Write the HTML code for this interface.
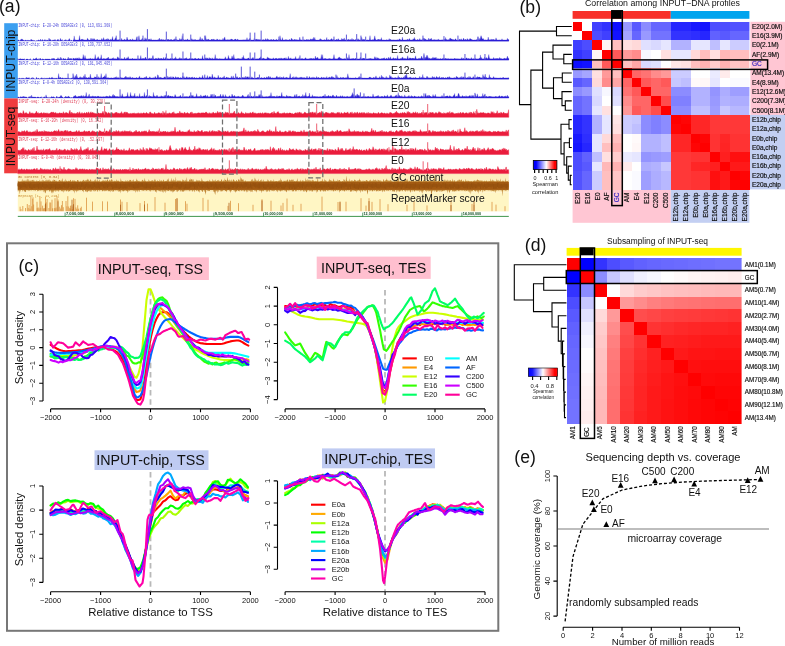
<!DOCTYPE html>
<html lang="en"><head><meta charset="utf-8"><title>INPUT-DNA profiles figure</title>
<style>html,body{margin:0;padding:0;background:#fff}body{width:785px;height:646px;overflow:hidden}svg{display:block}</style></head>
<body>
<svg width="785" height="646" viewBox="0 0 785 646" font-family='"Liberation Sans", Arial, sans-serif'>
<g id="panel-a">
<text x="-1" y="12.4" font-size="17.60" fill="#111" text-anchor="start">(a)</text>
<rect x="4.2" y="23.2" width="13.6" height="75.2" fill="#3b9ff0"/>
<rect x="4.2" y="98.4" width="13.6" height="74.9" fill="#f03c3e"/>
<text x="15.3" y="60.8" font-size="12.20" fill="#111" text-anchor="middle" transform="rotate(-90 15.3 60.8)">INPUT-chip</text>
<text x="15.3" y="136.5" font-size="12.20" fill="#111" text-anchor="middle" transform="rotate(-90 15.3 136.5)">INPUT-seq</text>
<rect x="17.8" y="173.6" width="491" height="19" fill="#fdf0c0"/>
<rect x="17.8" y="192.6" width="491" height="18.8" fill="#fff6c4"/>
<path d="M17.8 41.1L17.8 40.2L18.4 39.9L19 40.2L19.6 41.1L20.2 40.2L20.8 39.4L21.4 39.2L22 39.1L22.6 39.4L23.2 39.9L23.8 40.2L24.4 41.1L25 39.9L25.6 40.2L26.2 40.1L26.8 41.1L27.4 40.2L28 40.2L28.6 40.2L29.2 41.1L29.8 40L30.4 41.1L31 39.1L31.6 39.7L32.2 40.2L32.8 40.2L33.4 40.2L34 41.1L34.6 40.2L35.2 41.1L35.8 41.1L36.4 41.1L37 40L37.6 41.1L38.2 40.2L38.8 39.7L39.4 40.2L40 41.1L40.6 39.1L41.2 40.1L41.8 41.1L42.4 39.6L43 39.8L43.6 41.1L44.2 40.2L44.8 39.6L45.4 39.8L46 41.1L46.6 39.9L47.2 40.2L47.8 40L48.4 41.1L49 38.1L49.6 39.7L50.2 39.8L50.8 39.5L51.4 41.1L52 40.2L52.6 40.2L53.2 40.2L53.8 39.9L54.4 40.2L55 39.3L55.6 40.2L56.2 41.1L56.8 40.2L57.4 39.9L58 39.1L58.6 40L59.2 41.1L59.8 40.2L60.4 38.3L61 39.9L61.6 40.2L62.2 39.4L62.8 41.1L63.4 41.1L64 40.2L64.6 40.2L65.2 40.2L65.8 39.5L66.4 40.1L67 41.1L67.6 40.2L68.2 40.2L68.8 39.5L69.4 38.5L70 39.9L70.6 41.1L71.2 40.1L71.8 40.2L72.4 41.1L73 40.4L73.6 40.5L74.2 35.9L74.8 40.2L75.4 40L76 40.5L76.6 40.5L77.2 40.6L77.8 40.5L78.4 40.5L79 39.4L79.6 35.6L80.2 40.6L80.8 39.9L81.4 39.1L82 40.2L82.6 38.9L83.2 39.5L83.8 40.3L84.4 40L85 40.4L85.6 40.2L86.2 40.4L86.8 40.5L87.4 38.3L88 38.7L88.6 40.6L89.2 40.6L89.8 40.6L90.4 40.4L91 38L91.6 39.7L92.2 40.5L92.8 38.5L93.4 39.9L94 38.4L94.6 39.3L95.2 40.5L95.8 40.4L96.4 40L97 39.5L97.6 39.6L98.2 40.3L98.8 40.5L99.4 40.2L100 40.1L100.6 40.6L101.2 40.3L101.8 38.4L102.4 39.7L103 40.3L103.6 37.6L104.2 39.5L104.8 40.2L105.4 39.8L106 39.5L106.6 39.5L107.2 38.4L107.8 40.4L108.4 38.7L109 40L109.6 40.2L110.2 40.5L110.8 38.9L111.4 40.2L112 39.2L112.6 36.5L113.2 40.4L113.8 39.9L114.4 40.5L115 38.4L115.6 38.2L116.2 35.6L116.8 40.3L117.4 40.1L118 39.8L118.6 40.2L119.2 39.1L119.8 40.4L120.4 40.4L121 40.4L121.6 38.3L122.2 40.5L122.8 40.1L123.4 40.2L124 40.2L124.6 38.9L125.2 40.2L125.8 40L126.4 40.2L127 37L127.6 39.1L128.2 40L128.8 40.5L129.4 40.5L130 39.2L130.6 39.6L131.2 40.3L131.8 40.5L132.4 38.7L133 40.4L133.6 39.9L134.2 40.1L134.8 39.9L135.4 40L136 40.5L136.6 36.7L137.2 40L137.8 40.2L138.4 40L139 35.6L139.6 40.5L140.2 40L140.8 40.6L141.4 40.2L142 38.5L142.6 38.3L143.2 40.2L143.8 39.8L144.4 40.6L145 37.6L145.6 39.8L146.2 38.4L146.8 39.9L147.4 40.4L148 39.7L148.6 39.4L149.2 38.9L149.8 39.7L150.4 40.5L151 38.6L151.6 40.5L152.2 40.6L152.8 40.5L153.4 40.2L154 40.1L154.6 40.3L155.2 40.1L155.8 40.4L156.4 40.5L157 40.2L157.6 40L158.2 40.3L158.8 39.3L159.4 38L160 40.5L160.6 39.5L161.2 40.5L161.8 38.9L162.4 40.1L163 40.4L163.6 39.6L164.2 40.1L164.8 40.4L165.4 39.5L166 40.5L166.6 40.5L167.2 39.3L167.8 40L168.4 39.1L169 40.6L169.6 40.2L170.2 39.3L170.8 40.5L171.4 39.2L172 40.6L172.6 40.6L173.2 39.8L173.8 39.8L174.4 39.7L175 38.5L175.6 39.6L176.2 39.7L176.8 39.5L177.4 40.1L178 40.3L178.6 40.6L179.2 40.5L179.8 38.3L180.4 40.4L181 39.1L181.6 40.3L182.2 35.6L182.8 39.9L183.4 39.2L184 40.2L184.6 40.4L185.2 39.6L185.8 40.5L186.4 39.9L187 39.9L187.6 38.8L188.2 40.3L188.8 40.2L189.4 40.1L190 40.3L190.6 40.2L191.2 39.8L191.8 38.5L192.4 40.4L193 39.3L193.6 40.6L194.2 40.2L194.8 39.4L195.4 39.6L196 40.3L196.6 40.5L197.2 40.5L197.8 40L198.4 40.2L199 39.7L199.6 39.8L200.2 36.7L200.8 40.3L201.4 40.5L202 38.2L202.6 39.5L203.2 40L203.8 40.4L204.4 39.9L205 40.5L205.6 35.6L206.2 39.3L206.8 40.1L207.4 39.8L208 39.2L208.6 39.2L209.2 40.3L209.8 40L210.4 40.4L211 39.7L211.6 39.1L212.2 39.9L212.8 39.2L213.4 39.1L214 40.2L214.6 39.5L215.2 40L215.8 40.3L216.4 40.3L217 38.8L217.6 39.6L218.2 40L218.8 40.1L219.4 39.8L220 39.7L220.6 40.1L221.2 39.9L221.8 40.2L222.4 40.4L223 38.3L223.6 40.6L224.2 38.3L224.8 36.9L225.4 40.1L226 40.5L226.6 39.7L227.2 40.6L227.8 39.4L228.4 40.5L229 39.5L229.6 40.2L230.2 40.6L230.8 39.1L231.4 39.2L232 39L232.6 39.7L233.2 40.2L233.8 40.1L234.4 39.8L235 39.1L235.6 39L236.2 40L236.8 40.2L237.4 39.1L238 39.7L238.6 40L239.2 40.4L239.8 40.6L240.4 40.4L241 40.1L241.6 40.3L242.2 39.9L242.8 40.4L243.4 39.7L244 40.3L244.6 39.9L245.2 39.8L245.8 40.3L246.4 40.5L247 37.6L247.6 40.4L248.2 39.8L248.8 40.1L249.4 39.2L250 38L250.6 40.3L251.2 40.3L251.8 40.3L252.4 40.5L253 40.4L253.6 40.5L254.2 38.4L254.8 40.2L255.4 39.5L256 39.6L256.6 39.3L257.2 39.1L257.8 40.4L258.4 39.8L259 39.2L259.6 40.4L260.2 39.3L260.8 40.4L261.4 40.1L262 40L262.6 40.3L263.2 39.3L263.8 40.5L264.4 40.2L265 40.4L265.6 38.6L266.2 39.4L266.8 40.4L267.4 38.5L268 39.9L268.6 39.4L269.2 40.2L269.8 40L270.4 40.1L271 39.2L271.6 39.7L272.2 40.1L272.8 40.4L273.4 39L274 40.2L274.6 40.3L275.2 40.1L275.8 40.4L276.4 38.9L277 40.4L277.6 40.5L278.2 39.5L278.8 39.4L279.4 40.2L280 35.6L280.6 39.3L281.2 40.6L281.8 40.3L282.4 37.6L283 40.6L283.6 40.6L284.2 39.8L284.8 40.6L285.4 40L286 39.2L286.6 40.2L287.2 40L287.8 40.3L288.4 40.4L289 40L289.6 39.3L290.2 40.5L290.8 40.4L291.4 38.1L292 38.9L292.6 39.9L293.2 39.8L293.8 40.5L294.4 39L295 40.5L295.6 39.4L296.2 40.5L296.8 39.4L297.4 40.1L298 40.5L298.6 40.2L299.2 40.4L299.8 37.1L300.4 40L301 40.3L301.6 39.9L302.2 40.6L302.8 40.2L303.4 40.3L304 39.4L304.6 40.4L305.2 40.4L305.8 40.5L306.4 39.3L307 40.1L307.6 39.7L308.2 39.6L308.8 40.1L309.4 40.1L310 40L310.6 38.7L311.2 39.9L311.8 39L312.4 38.8L313 40.2L313.6 37.2L314.2 39.9L314.8 37.4L315.4 40L316 40.6L316.6 40.5L317.2 40.4L317.8 40.5L318.4 40.5L319 40.2L319.6 39.7L320.2 38.6L320.8 39.4L321.4 39.5L322 40.2L322.6 40.5L323.2 39.9L323.8 40.5L324.4 39.4L325 40.6L325.6 40.3L326.2 39.9L326.8 37.4L327.4 40.5L328 40.1L328.6 39.4L329.2 40.3L329.8 39.9L330.4 39.8L331 39.5L331.6 38.5L332.2 39.3L332.8 40.4L333.4 39L334 39.7L334.6 40.1L335.2 40.4L335.8 40L336.4 39.6L337 39.2L337.6 40.5L338.2 38.6L338.8 39.8L339.4 40.3L340 40.5L340.6 40.3L341.2 40.6L341.8 38.3L342.4 39.6L343 39.6L343.6 39.4L344.2 37.9L344.8 40.3L345.4 40.3L346 39.6L346.6 39L347.2 39.8L347.8 40.3L348.4 39.3L349 39.4L349.6 39.9L350.2 40.4L350.8 39.3L351.4 40.5L352 38.3L352.6 40.5L353.2 39.2L353.8 40L354.4 40.1L355 40.5L355.6 39.6L356.2 38.8L356.8 40.4L357.4 40L358 38.6L358.6 39.8L359.2 39.8L359.8 40.3L360.4 39.8L361 40.6L361.6 37.1L362.2 39.1L362.8 40.5L363.4 39.1L364 40.4L364.6 39.5L365.2 38.9L365.8 40.6L366.4 40.5L367 39.8L367.6 40.3L368.2 40.6L368.8 40.6L369.4 39.7L370 35.6L370.6 40.5L371.2 39.9L371.8 40.3L372.4 39.9L373 39.5L373.6 40.2L374.2 38.6L374.8 35.8L375.4 39.1L376 39.9L376.6 40.5L377.2 39.6L377.8 39.9L378.4 39L379 39.8L379.6 39.8L380.2 39.2L380.8 40.4L381.4 37.6L382 40.6L382.6 40.3L383.2 40L383.8 40.3L384.4 40.4L385 40.4L385.6 40.5L386.2 40.4L386.8 39.6L387.4 40.3L388 40.6L388.6 40.2L389.2 38.5L389.8 40.3L390.4 39L391 40.5L391.6 40.1L392.2 40.1L392.8 40.1L393.4 40L394 40L394.6 40L395.2 40.6L395.8 40.2L396.4 40.2L397 40.3L397.6 39.7L398.2 40.1L398.8 40.1L399.4 38.7L400 39.5L400.6 39.8L401.2 40.5L401.8 40.5L402.4 37.1L403 40.1L403.6 40.5L404.2 40.5L404.8 40.1L405.4 40L406 40.6L406.6 40.1L407.2 39.7L407.8 38.9L408.4 40.5L409 39.3L409.6 38.4L410.2 40.6L410.8 40.3L411.4 40.6L412 39.7L412.6 40.3L413.2 38.7L413.8 39.7L414.4 37.4L415 39.6L415.6 39.8L416.2 40.6L416.8 40.3L417.4 39.6L418 39.6L418.6 40.4L419.2 40.3L419.8 38.4L420.4 40.1L421 40.3L421.6 39.7L422.2 40.5L422.8 39L423.4 37.8L424 40.3L424.6 38.2L425.2 39.4L425.8 39.1L426.4 40.2L427 40.2L427.6 40L428.2 40.1L428.8 38L429.4 40.2L430 39.1L430.6 39.6L431.2 38.1L431.8 39.8L432.4 40L433 40.2L433.6 39.8L434.2 39.8L434.8 39.7L435.4 40L436 39.8L436.6 40.1L437.2 39.9L437.8 39.7L438.4 39.2L439 40.1L439.6 39.9L440.2 40.5L440.8 40.2L441.4 40L442 40.1L442.6 40L443.2 39.5L443.8 40.6L444.4 39.1L445 40.5L445.6 37.4L446.2 40L446.8 39.3L447.4 40L448 40.5L448.6 39.6L449.2 40.1L449.8 38.2L450.4 38.1L451 39.3L451.6 39L452.2 39.1L452.8 40L453.4 39.8L454 39.6L454.6 40.4L455.2 39L455.8 38.7L456.4 40.5L457 40.2L457.6 40.4L458.2 40.6L458.8 40.1L459.4 38.9L460 40.1L460.6 39.8L461.2 38.7L461.8 40.2L462.4 40.5L463 39.6L463.6 38.1L464.2 39.6L464.8 40.3L465.4 39.1L466 40.1L466.6 40.3L467.2 38.5L467.8 39.4L468.4 39.7L469 40.5L469.6 38.8L470.2 38.6L470.8 39L471.4 39.6L472 39.4L472.6 40.2L473.2 40.3L473.8 40.5L474.4 39.9L475 40.1L475.6 40.2L476.2 40L476.8 39.5L477.4 40.1L478 36.9L478.6 40.2L479.2 38.3L479.8 40.5L480.4 38L481 35.6L481.6 37.1L482.2 38.8L482.8 39L483.4 38.6L484 40.2L484.6 40.3L485.2 39.7L485.8 40.3L486.4 40.3L487 40.1L487.6 40.2L488.2 37L488.8 39.7L489.4 40.2L490 39.4L490.6 40.3L491.2 38.9L491.8 40.3L492.4 39.7L493 39L493.6 39.6L494.2 40.6L494.8 39.6L495.4 40.4L496 37.8L496.6 39.6L497.2 40.4L497.8 40.1L498.4 40.2L499 40.4L499.6 40L500.2 40.5L500.8 40.2L501.4 40.4L502 38.7L502.6 40.5L503.2 40.5L503.8 39.9L504.4 40.4L505 40.5L505.6 40.4L506.2 40.1L506.8 40.5L507.4 38.2L508 40.1L508.6 39.3L508.8 40.3 L508.8 41.1 Z" fill="#342cd4" stroke="#342cd4" stroke-width="0.25"/>
<rect x="73" y="39.9" width="435.8" height="1.4" fill="#2a1cd6"/>
<rect x="119.5" y="30.6" width="1.1" height="10" fill="#6a66dc"/>
<rect x="146.9" y="29.1" width="1.1" height="11.5" fill="#6a66dc"/>
<rect x="165.8" y="31.6" width="1.1" height="9" fill="#6a66dc"/>
<rect x="182.4" y="33.6" width="1.1" height="7" fill="#6a66dc"/>
<rect x="190.2" y="34.6" width="1.1" height="6" fill="#6a66dc"/>
<rect x="204.2" y="35.6" width="1.1" height="5" fill="#6a66dc"/>
<rect x="249.6" y="32.6" width="1.1" height="8" fill="#6a66dc"/>
<rect x="254.2" y="32.6" width="1.1" height="8" fill="#6a66dc"/>
<rect x="260.6" y="30.6" width="1.1" height="10" fill="#6a66dc"/>
<rect x="345.9" y="34.6" width="1.1" height="6" fill="#6a66dc"/>
<rect x="356.1" y="34.1" width="1.1" height="6.5" fill="#6a66dc"/>
<rect x="360.4" y="35.6" width="1.1" height="5" fill="#6a66dc"/>
<rect x="365.1" y="36.6" width="1.1" height="4" fill="#6a66dc"/>
<rect x="422.4" y="35.6" width="1.1" height="5" fill="#6a66dc"/>
<rect x="443.4" y="36.1" width="1.1" height="4.5" fill="#6a66dc"/>
<rect x="457.4" y="35.6" width="1.1" height="5" fill="#6a66dc"/>
<rect x="477.4" y="36.6" width="1.1" height="4" fill="#6a66dc"/>
<rect x="137.4" y="36.6" width="1.1" height="4" fill="#6a66dc"/>
<rect x="142.4" y="35.6" width="1.1" height="5" fill="#6a66dc"/>
<rect x="175.4" y="36.6" width="1.1" height="4" fill="#6a66dc"/>
<rect x="278.4" y="36.6" width="1.1" height="4" fill="#6a66dc"/>
<rect x="302.4" y="36.6" width="1.1" height="4" fill="#6a66dc"/>
<rect x="333.4" y="36.6" width="1.1" height="4" fill="#6a66dc"/>
<path d="M17.8 60L17.8 58.4L18.4 60L19 59.1L19.6 59.1L20.2 58.6L20.8 58.9L21.4 59.1L22 59.1L22.6 58.9L23.2 59.1L23.8 59.1L24.4 58.7L25 60L25.6 60L26.2 59.1L26.8 59.1L27.4 59.1L28 59.1L28.6 60L29.2 59.1L29.8 60L30.4 58.5L31 60L31.6 60L32.2 60L32.8 60L33.4 58.4L34 59L34.6 59.1L35.2 59.1L35.8 58.2L36.4 57.7L37 59.1L37.6 59.1L38.2 60L38.8 58.5L39.4 60L40 58L40.6 58.7L41.2 59.1L41.8 60L42.4 58.8L43 59.1L43.6 59.1L44.2 60L44.8 59.1L45.4 58.9L46 59.1L46.6 59.1L47.2 59.1L47.8 58.9L48.4 59.1L49 59.1L49.6 59.1L50.2 59.1L50.8 60L51.4 59.1L52 58.3L52.6 59.1L53.2 58.1L53.8 59.1L54.4 58.5L55 59.1L55.6 60L56.2 59.1L56.8 59.1L57.4 59.1L58 57.6L58.6 59.1L59.2 59L59.8 59.1L60.4 57.1L61 60L61.6 57.7L62.2 60L62.8 59.1L63.4 58.1L64 59L64.6 58.9L65.2 58.7L65.8 58.7L66.4 60L67 59.1L67.6 59L68.2 57.1L68.8 59.1L69.4 59.1L70 58L70.6 59.1L71.2 58.2L71.8 59.1L72.4 60L73 57.9L73.6 58.5L74.2 58.4L74.8 59.5L75.4 58.8L76 57.8L76.6 59.4L77.2 57.8L77.8 59.1L78.4 59.4L79 57.4L79.6 59L80.2 59.3L80.8 58.8L81.4 59.4L82 59.4L82.6 59.1L83.2 54.5L83.8 57.2L84.4 59.2L85 55.4L85.6 58.5L86.2 59.1L86.8 59.2L87.4 59.5L88 59.3L88.6 58.9L89.2 59.2L89.8 58.8L90.4 58.3L91 59.2L91.6 59.3L92.2 59.1L92.8 58.7L93.4 59.4L94 59L94.6 59.3L95.2 54.5L95.8 59.1L96.4 59.2L97 58.9L97.6 57.7L98.2 56.6L98.8 58.2L99.4 59.4L100 58.8L100.6 58.7L101.2 54.7L101.8 59.1L102.4 59.4L103 59.4L103.6 58.6L104.2 58.4L104.8 59.4L105.4 59.1L106 59.2L106.6 58.6L107.2 58.6L107.8 57.8L108.4 57L109 59.4L109.6 59.4L110.2 58.9L110.8 59.2L111.4 59L112 58.8L112.6 58.6L113.2 57.6L113.8 59.2L114.4 58.8L115 59L115.6 58.7L116.2 59.2L116.8 59.4L117.4 57.2L118 56.7L118.6 58.4L119.2 58.1L119.8 58.9L120.4 59L121 59.1L121.6 58.8L122.2 59L122.8 59.4L123.4 59.4L124 59.5L124.6 57.1L125.2 59.4L125.8 59.5L126.4 59L127 57.6L127.6 58.7L128.2 56.6L128.8 59L129.4 59.4L130 59.1L130.6 59L131.2 59.3L131.8 59.4L132.4 58.1L133 59.5L133.6 59.5L134.2 58.9L134.8 59.1L135.4 59.2L136 59.1L136.6 59.3L137.2 59.4L137.8 58.4L138.4 58.7L139 59.4L139.6 59.3L140.2 59.1L140.8 55.5L141.4 59.3L142 59L142.6 58.8L143.2 58.1L143.8 59.4L144.4 59.3L145 57.8L145.6 57L146.2 59.1L146.8 59.4L147.4 58.6L148 58.8L148.6 59.3L149.2 57.8L149.8 59.3L150.4 59.4L151 57.8L151.6 59L152.2 59.1L152.8 56.2L153.4 58.4L154 58.9L154.6 59.5L155.2 59L155.8 58.2L156.4 58.6L157 59L157.6 59.2L158.2 57.7L158.8 58.8L159.4 58.6L160 59.5L160.6 58.6L161.2 58L161.8 59.1L162.4 59L163 59.4L163.6 57.3L164.2 59.5L164.8 59.5L165.4 57.2L166 58.4L166.6 58.9L167.2 59.2L167.8 58.4L168.4 59.4L169 59.1L169.6 59.3L170.2 59.1L170.8 58.2L171.4 58.5L172 59.4L172.6 58.1L173.2 59.3L173.8 59.3L174.4 58.3L175 59.4L175.6 56.7L176.2 58.8L176.8 59L177.4 59.4L178 58.8L178.6 58.9L179.2 59L179.8 57.4L180.4 59.3L181 58.3L181.6 58.9L182.2 58.5L182.8 59.4L183.4 58.5L184 58.9L184.6 58.7L185.2 58.6L185.8 58.6L186.4 57.6L187 59.5L187.6 59.2L188.2 59.4L188.8 59.1L189.4 58.9L190 58L190.6 58.7L191.2 58.4L191.8 59.1L192.4 58.4L193 59.5L193.6 59L194.2 59.2L194.8 58.2L195.4 58.1L196 59.3L196.6 59.4L197.2 59.4L197.8 59.2L198.4 58L199 59.1L199.6 59.3L200.2 58.7L200.8 59.4L201.4 59.4L202 58.4L202.6 55.6L203.2 59.4L203.8 59.5L204.4 58.5L205 58.8L205.6 57.7L206.2 59.3L206.8 57.7L207.4 57.9L208 58.9L208.6 59.3L209.2 57.4L209.8 59.1L210.4 58.3L211 58.9L211.6 59.3L212.2 57.7L212.8 59.5L213.4 59.2L214 59.2L214.6 59L215.2 54.5L215.8 59.3L216.4 58.5L217 59L217.6 58.7L218.2 59L218.8 59.4L219.4 59L220 58.5L220.6 59.4L221.2 59.4L221.8 59L222.4 59.3L223 59.4L223.6 59.5L224.2 59.1L224.8 58.7L225.4 56.7L226 59L226.6 59.1L227.2 59.4L227.8 58.5L228.4 55.4L229 58L229.6 58.9L230.2 59.3L230.8 58.8L231.4 59.1L232 55.8L232.6 57.4L233.2 58.7L233.8 54.5L234.4 58.4L235 59.3L235.6 59.3L236.2 59L236.8 59.2L237.4 59.1L238 58.2L238.6 58.9L239.2 58.6L239.8 59.4L240.4 58.9L241 59.4L241.6 59.5L242.2 57.1L242.8 59.2L243.4 55.4L244 58.5L244.6 58.7L245.2 58.9L245.8 59.2L246.4 59.1L247 59.3L247.6 58.6L248.2 58.1L248.8 58.1L249.4 59.4L250 59.3L250.6 58.8L251.2 58.7L251.8 59.3L252.4 58.2L253 57.2L253.6 59L254.2 59.1L254.8 58.7L255.4 59.3L256 59.4L256.6 59.1L257.2 59.3L257.8 58.8L258.4 59.2L259 58.6L259.6 58.1L260.2 58L260.8 56.6L261.4 58.6L262 59.4L262.6 58.4L263.2 58.3L263.8 58.2L264.4 58.9L265 58.9L265.6 59.5L266.2 59L266.8 59.4L267.4 56.8L268 58.5L268.6 57.7L269.2 58.2L269.8 59.1L270.4 58.7L271 59.1L271.6 59.1L272.2 59.4L272.8 58.8L273.4 57.7L274 59.4L274.6 59.2L275.2 58.5L275.8 58.4L276.4 58.2L277 58.8L277.6 59.4L278.2 58.2L278.8 59.1L279.4 58.8L280 57.9L280.6 59.2L281.2 57.8L281.8 59.1L282.4 58.8L283 58.8L283.6 58.8L284.2 57.9L284.8 58.2L285.4 59.2L286 57.5L286.6 59.4L287.2 59.4L287.8 58.9L288.4 56.3L289 59.3L289.6 58.8L290.2 59.1L290.8 57.7L291.4 59.2L292 59.2L292.6 59.2L293.2 58.9L293.8 58.9L294.4 58.7L295 59.3L295.6 56.5L296.2 59L296.8 59L297.4 58.9L298 59.3L298.6 59L299.2 57.3L299.8 58.9L300.4 58.7L301 59.4L301.6 58.5L302.2 58.9L302.8 58.6L303.4 59.4L304 59.2L304.6 59.1L305.2 58.2L305.8 57.6L306.4 59.4L307 58.9L307.6 59.4L308.2 59.4L308.8 58.9L309.4 58.6L310 59.3L310.6 58.3L311.2 58.5L311.8 58.5L312.4 58.9L313 58.4L313.6 58.4L314.2 59.2L314.8 58.8L315.4 56L316 58.7L316.6 57.9L317.2 57.7L317.8 57.2L318.4 59.3L319 59.1L319.6 59.1L320.2 59.3L320.8 58.6L321.4 54.5L322 59.4L322.6 54.6L323.2 59.2L323.8 59L324.4 58.8L325 58.6L325.6 58.6L326.2 59.3L326.8 58.9L327.4 59.4L328 59.1L328.6 59.1L329.2 58.3L329.8 59.2L330.4 59.1L331 58.7L331.6 59.4L332.2 59L332.8 59.4L333.4 57.9L334 54.5L334.6 58.5L335.2 59.2L335.8 58.8L336.4 59L337 59.1L337.6 59.2L338.2 57.6L338.8 57.9L339.4 56.8L340 57.9L340.6 58.2L341.2 59L341.8 58.6L342.4 59.2L343 59L343.6 59.1L344.2 59.4L344.8 58.4L345.4 59L346 59.5L346.6 58.5L347.2 57.5L347.8 59L348.4 59.2L349 54.5L349.6 58.9L350.2 59.4L350.8 58.9L351.4 59.4L352 58.3L352.6 59L353.2 58.8L353.8 58.5L354.4 59.1L355 59.3L355.6 58L356.2 59.2L356.8 58.8L357.4 59.1L358 59.3L358.6 59.5L359.2 59.3L359.8 58.9L360.4 57.1L361 58.4L361.6 59L362.2 59.4L362.8 58.1L363.4 58.6L364 58.1L364.6 58.7L365.2 59L365.8 59.4L366.4 59.1L367 59.1L367.6 59.1L368.2 59.4L368.8 58.6L369.4 58.7L370 58.7L370.6 58.5L371.2 58.5L371.8 59.5L372.4 59L373 59.4L373.6 59.4L374.2 59.1L374.8 56.6L375.4 59L376 56.9L376.6 59.2L377.2 58.5L377.8 57.6L378.4 58.3L379 58.9L379.6 58.9L380.2 59.3L380.8 59.2L381.4 58.8L382 58.4L382.6 58.8L383.2 58.7L383.8 57.9L384.4 57.8L385 59.5L385.6 59.3L386.2 59.1L386.8 57.8L387.4 59.4L388 59.3L388.6 57.1L389.2 58.9L389.8 58.5L390.4 56.7L391 59.2L391.6 59.3L392.2 58.8L392.8 59L393.4 57.6L394 58.7L394.6 58.7L395.2 58.9L395.8 58.1L396.4 58.9L397 59.4L397.6 55.4L398.2 59.2L398.8 59.1L399.4 59.1L400 59.4L400.6 58.3L401.2 59.4L401.8 57.7L402.4 57.2L403 57.5L403.6 58.9L404.2 59L404.8 58.3L405.4 58.4L406 59.4L406.6 59.2L407.2 57.9L407.8 55.7L408.4 59.2L409 58.9L409.6 57.8L410.2 58.2L410.8 58.1L411.4 58.5L412 58.8L412.6 58.1L413.2 58.1L413.8 58.8L414.4 59.1L415 57.7L415.6 55.8L416.2 59.2L416.8 58.8L417.4 59.1L418 59.5L418.6 58.4L419.2 57.9L419.8 59.2L420.4 58.7L421 58.1L421.6 56L422.2 57.7L422.8 58.8L423.4 58.7L424 55L424.6 58.5L425.2 57L425.8 58.7L426.4 56.4L427 55.1L427.6 56.2L428.2 59.3L428.8 57.6L429.4 58.6L430 58.4L430.6 58.9L431.2 58.8L431.8 58.5L432.4 58.6L433 56.9L433.6 58.5L434.2 58.3L434.8 57.6L435.4 58.6L436 57.1L436.6 59.3L437.2 59.4L437.8 58.4L438.4 58.9L439 59.2L439.6 59.3L440.2 58.6L440.8 58.9L441.4 59.4L442 58.7L442.6 58.9L443.2 57.8L443.8 59.4L444.4 59.5L445 58L445.6 58.6L446.2 59.4L446.8 58.4L447.4 59.3L448 58.4L448.6 58.9L449.2 59.3L449.8 59.3L450.4 59.5L451 58.6L451.6 59.5L452.2 59.3L452.8 59.1L453.4 59.4L454 58.9L454.6 58.2L455.2 58.8L455.8 59L456.4 59.4L457 58.4L457.6 59.5L458.2 59.1L458.8 58.9L459.4 59.3L460 59.1L460.6 59.2L461.2 59.1L461.8 57.4L462.4 59.2L463 58.4L463.6 58.6L464.2 58.9L464.8 59.3L465.4 59.3L466 58.3L466.6 57.7L467.2 58.4L467.8 59.4L468.4 58.2L469 58.9L469.6 58.9L470.2 59L470.8 58.9L471.4 57.5L472 59.3L472.6 59.3L473.2 58.5L473.8 59.2L474.4 59.3L475 58.4L475.6 58.7L476.2 59.1L476.8 59L477.4 59.1L478 59.5L478.6 59.4L479.2 58.1L479.8 58.7L480.4 54.9L481 59.2L481.6 57.4L482.2 59.1L482.8 59.3L483.4 58.9L484 59.3L484.6 57L485.2 58.5L485.8 58.3L486.4 57.4L487 58.6L487.6 59.1L488.2 57.5L488.8 54.5L489.4 58.1L490 58.9L490.6 59L491.2 58.9L491.8 59.2L492.4 59.2L493 59.4L493.6 57.4L494.2 58.4L494.8 59.3L495.4 58.6L496 58.9L496.6 58.3L497.2 59.4L497.8 58.1L498.4 58.9L499 59.3L499.6 57.5L500.2 57.9L500.8 59.5L501.4 58.6L502 59.2L502.6 59.4L503.2 59.3L503.8 58.6L504.4 58.3L505 58.6L505.6 58.8L506.2 58.9L506.8 58.1L507.4 56.1L508 58L508.6 58.2L508.8 59.2 L508.8 60 Z" fill="#342cd4" stroke="#342cd4" stroke-width="0.25"/>
<rect x="73" y="58.8" width="435.8" height="1.4" fill="#2a1cd6"/>
<rect x="119.5" y="49.5" width="1.1" height="10" fill="#6a66dc"/>
<rect x="146.9" y="47.5" width="1.1" height="12" fill="#6a66dc"/>
<rect x="165.8" y="53.5" width="1.1" height="6" fill="#6a66dc"/>
<rect x="171.4" y="53.5" width="1.1" height="6" fill="#6a66dc"/>
<rect x="182.4" y="51.5" width="1.1" height="8" fill="#6a66dc"/>
<rect x="190.2" y="52.5" width="1.1" height="7" fill="#6a66dc"/>
<rect x="204.2" y="54.5" width="1.1" height="5" fill="#6a66dc"/>
<rect x="249.6" y="52.5" width="1.1" height="7" fill="#6a66dc"/>
<rect x="254.2" y="52.5" width="1.1" height="7" fill="#6a66dc"/>
<rect x="260.6" y="49.5" width="1.1" height="10" fill="#6a66dc"/>
<rect x="345.9" y="53.5" width="1.1" height="6" fill="#6a66dc"/>
<rect x="356.1" y="52.5" width="1.1" height="7" fill="#6a66dc"/>
<rect x="360.4" y="52.5" width="1.1" height="7" fill="#6a66dc"/>
<rect x="365.1" y="53.5" width="1.1" height="6" fill="#6a66dc"/>
<rect x="423.4" y="53.5" width="1.1" height="6" fill="#6a66dc"/>
<rect x="443.4" y="54.5" width="1.1" height="5" fill="#6a66dc"/>
<rect x="464.4" y="54" width="1.1" height="5.5" fill="#6a66dc"/>
<rect x="474.4" y="54.5" width="1.1" height="5" fill="#6a66dc"/>
<rect x="484.4" y="54" width="1.1" height="5.5" fill="#6a66dc"/>
<rect x="137.4" y="55.5" width="1.1" height="4" fill="#6a66dc"/>
<rect x="152.4" y="55.5" width="1.1" height="4" fill="#6a66dc"/>
<rect x="299.4" y="55.5" width="1.1" height="4" fill="#6a66dc"/>
<path d="M17.8 79.1L17.8 78.2L18.4 79.1L19 78.2L19.6 78.2L20.2 78.2L20.8 79.1L21.4 78.2L22 78.2L22.6 78.2L23.2 78.2L23.8 78.2L24.4 79.1L25 78.2L25.6 79.1L26.2 77.1L26.8 78.2L27.4 77.9L28 77.7L28.6 77.9L29.2 77.5L29.8 79.1L30.4 79.1L31 78.2L31.6 77.8L32.2 79.1L32.8 77.2L33.4 78.2L34 78.2L34.6 79.1L35.2 79.1L35.8 79.1L36.4 77.3L37 77.7L37.6 79.1L38.2 78.2L38.8 78.1L39.4 79.1L40 79.1L40.6 78.2L41.2 78.2L41.8 77.6L42.4 78L43 79.1L43.6 78.2L44.2 77.8L44.8 79.1L45.4 78.2L46 78.2L46.6 78.2L47.2 78.2L47.8 78.2L48.4 78.2L49 78.2L49.6 77.4L50.2 78.2L50.8 78.2L51.4 77.9L52 76.9L52.6 78.1L53.2 78.2L53.8 78.2L54.4 78.2L55 78.2L55.6 78.2L56.2 78.1L56.8 78.2L57.4 78.2L58 79.1L58.6 73.6L59.2 77.2L59.8 78.2L60.4 77.1L61 78.2L61.6 78.2L62.2 77.8L62.8 77.9L63.4 78.2L64 78.2L64.6 78.2L65.2 78.2L65.8 78.1L66.4 78.2L67 78L67.6 78.2L68.2 77.7L68.8 78.2L69.4 78.2L70 79.1L70.6 78.2L71.2 78.2L71.8 77.9L72.4 77.4L73 78.6L73.6 75.2L74.2 78.4L74.8 77.2L75.4 75.6L76 78.6L76.6 74L77.2 76.4L77.8 78.4L78.4 78.6L79 78L79.6 77.8L80.2 76.6L80.8 78L81.4 77.5L82 78.1L82.6 77.5L83.2 78.6L83.8 75.7L84.4 78.1L85 74.1L85.6 78.3L86.2 77.3L86.8 78.1L87.4 78.3L88 78L88.6 77.3L89.2 78.5L89.8 77.2L90.4 74.1L91 78.2L91.6 78L92.2 78.5L92.8 78.4L93.4 78.4L94 78.4L94.6 76.7L95.2 77.3L95.8 77L96.4 78.3L97 74.1L97.6 78.5L98.2 78.4L98.8 76.6L99.4 78.3L100 78.5L100.6 78L101.2 73.6L101.8 78.3L102.4 78.6L103 77.1L103.6 77.1L104.2 77L104.8 75.6L105.4 77.6L106 73.6L106.6 78.4L107.2 78.4L107.8 77.6L108.4 77.7L109 78.5L109.6 78.3L110.2 78L110.8 78.3L111.4 77.8L112 78.4L112.6 78.5L113.2 78.3L113.8 77.7L114.4 78.1L115 77.2L115.6 77.7L116.2 76.5L116.8 78.4L117.4 78.5L118 76.9L118.6 78.5L119.2 77.9L119.8 78.2L120.4 76.8L121 78L121.6 77.8L122.2 78.4L122.8 77.8L123.4 78.3L124 78.5L124.6 77.3L125.2 77.6L125.8 76.1L126.4 76.9L127 78.3L127.6 77.5L128.2 77.1L128.8 78.4L129.4 78.1L130 76.5L130.6 77.4L131.2 78.5L131.8 78.1L132.4 77.2L133 78.5L133.6 77.9L134.2 78.1L134.8 78.4L135.4 78.4L136 78.2L136.6 77.3L137.2 78.4L137.8 78.4L138.4 78.1L139 77.6L139.6 75.9L140.2 78.6L140.8 77.9L141.4 78.3L142 77.8L142.6 78.5L143.2 78.1L143.8 78.3L144.4 78.1L145 77L145.6 78.4L146.2 76.1L146.8 77.8L147.4 78.3L148 78.5L148.6 78.5L149.2 78L149.8 76.7L150.4 77.7L151 78.4L151.6 78.4L152.2 78.2L152.8 77.9L153.4 78L154 77.5L154.6 78.5L155.2 76.3L155.8 77.5L156.4 78.2L157 78.5L157.6 74.7L158.2 75.3L158.8 78.1L159.4 77.9L160 76.9L160.6 77.5L161.2 78.2L161.8 77.6L162.4 78.6L163 78.2L163.6 78.4L164.2 76.8L164.8 77.2L165.4 76.9L166 78.5L166.6 78L167.2 78.5L167.8 75.9L168.4 78.5L169 77L169.6 78L170.2 76.4L170.8 78.3L171.4 78.4L172 76.4L172.6 78.4L173.2 76.8L173.8 77.3L174.4 78.5L175 78.1L175.6 76.5L176.2 78.1L176.8 77.6L177.4 77.4L178 77.4L178.6 77.3L179.2 78.5L179.8 78.5L180.4 77.5L181 77.9L181.6 78.3L182.2 77.4L182.8 75.9L183.4 77.7L184 76.5L184.6 78.2L185.2 77.9L185.8 78.1L186.4 77.1L187 76.6L187.6 78L188.2 78.6L188.8 77.2L189.4 77.4L190 77.4L190.6 78.6L191.2 77L191.8 78.3L192.4 76.8L193 78.4L193.6 78.5L194.2 77.1L194.8 78L195.4 78.5L196 78.2L196.6 77.6L197.2 78.4L197.8 78.4L198.4 78.3L199 78.6L199.6 76.7L200.2 77.8L200.8 77.9L201.4 78.1L202 77.5L202.6 75.2L203.2 78.2L203.8 78.5L204.4 76.4L205 77.2L205.6 78.6L206.2 78.4L206.8 77.6L207.4 75.5L208 78.4L208.6 78.5L209.2 76.7L209.8 76.8L210.4 76.8L211 78L211.6 78L212.2 74.1L212.8 76.5L213.4 78L214 78.6L214.6 76.7L215.2 77.7L215.8 78L216.4 78L217 78.4L217.6 78.2L218.2 75.2L218.8 77.6L219.4 77.9L220 78.2L220.6 77.3L221.2 78.2L221.8 78.2L222.4 77.5L223 77.9L223.6 77.2L224.2 75.8L224.8 78.4L225.4 78.6L226 77.8L226.6 77.1L227.2 77.3L227.8 78.3L228.4 77.6L229 78.3L229.6 78.4L230.2 78L230.8 78.5L231.4 75.9L232 78.4L232.6 77.9L233.2 75.8L233.8 78.6L234.4 78.3L235 78.1L235.6 76.1L236.2 78.1L236.8 76.8L237.4 76.7L238 78.6L238.6 78.4L239.2 77.8L239.8 77.2L240.4 78.1L241 78.1L241.6 78L242.2 77.8L242.8 77.3L243.4 78.4L244 76.7L244.6 77.9L245.2 78.6L245.8 76L246.4 78.3L247 76.7L247.6 76.9L248.2 76.7L248.8 78.6L249.4 76.7L250 78.4L250.6 78.5L251.2 78.6L251.8 76.7L252.4 77.6L253 78.4L253.6 78.4L254.2 78L254.8 78.3L255.4 78.4L256 78L256.6 78.4L257.2 77.2L257.8 77.8L258.4 77.2L259 77.9L259.6 78.5L260.2 78.4L260.8 78L261.4 77.4L262 77.9L262.6 78.3L263.2 78L263.8 78.3L264.4 77.3L265 78L265.6 78.6L266.2 77.7L266.8 76.7L267.4 77.4L268 78.2L268.6 76L269.2 76.8L269.8 78.4L270.4 76.6L271 78.2L271.6 78.4L272.2 78.4L272.8 77.5L273.4 78.3L274 77.9L274.6 77.9L275.2 78.2L275.8 77.7L276.4 76.7L277 75.9L277.6 78L278.2 77L278.8 78.3L279.4 77.8L280 76.5L280.6 78.6L281.2 77.6L281.8 77.4L282.4 77.6L283 78.5L283.6 76.5L284.2 77.9L284.8 78.4L285.4 77.5L286 78.2L286.6 77.1L287.2 77.4L287.8 78.3L288.4 78.2L289 78.4L289.6 77.3L290.2 73.6L290.8 78.5L291.4 78.6L292 77.7L292.6 77.6L293.2 76.5L293.8 78.4L294.4 78.6L295 76.7L295.6 78.2L296.2 76.6L296.8 78.2L297.4 78L298 77.3L298.6 78.5L299.2 78L299.8 77.6L300.4 76.9L301 78.6L301.6 77.1L302.2 77.3L302.8 78.6L303.4 78.5L304 77.1L304.6 78.3L305.2 78L305.8 78.2L306.4 78.2L307 76.1L307.6 78.3L308.2 78.2L308.8 78.6L309.4 76.4L310 77.6L310.6 78.3L311.2 78L311.8 77.4L312.4 78.4L313 76.8L313.6 78.5L314.2 77.3L314.8 78.4L315.4 78.1L316 78.5L316.6 76.4L317.2 78L317.8 77.9L318.4 77L319 78.4L319.6 78.3L320.2 78.4L320.8 78.4L321.4 77L322 77.5L322.6 78.2L323.2 77.2L323.8 78L324.4 77.7L325 78L325.6 77.8L326.2 78.5L326.8 76.4L327.4 78.6L328 78.2L328.6 77.6L329.2 77.8L329.8 76.8L330.4 78L331 77.8L331.6 76.5L332.2 76.4L332.8 77.8L333.4 77.4L334 77.5L334.6 78.3L335.2 78.5L335.8 78.4L336.4 76.9L337 75.4L337.6 78.1L338.2 77.8L338.8 78L339.4 78.4L340 78.3L340.6 77.2L341.2 77.6L341.8 78.6L342.4 77.4L343 78L343.6 77.2L344.2 77.9L344.8 78.3L345.4 78.5L346 77.2L346.6 78.3L347.2 77.7L347.8 73.7L348.4 76.8L349 78.6L349.6 78.3L350.2 78.2L350.8 78L351.4 78.4L352 78.5L352.6 77.9L353.2 78.6L353.8 77.9L354.4 78.6L355 78.6L355.6 77.4L356.2 77.9L356.8 78.5L357.4 78.4L358 78.2L358.6 77.4L359.2 76.3L359.8 78.3L360.4 77.2L361 77.4L361.6 78L362.2 78.2L362.8 78.2L363.4 78.4L364 78.5L364.6 78.3L365.2 78.5L365.8 78.4L366.4 78.6L367 78.4L367.6 78.6L368.2 78.5L368.8 78.1L369.4 77.1L370 77.2L370.6 77.2L371.2 78.5L371.8 77.8L372.4 78.4L373 78.2L373.6 77.3L374.2 77.4L374.8 78.4L375.4 77.6L376 75.8L376.6 78.1L377.2 78.5L377.8 77.7L378.4 78.5L379 78.5L379.6 76.5L380.2 78.5L380.8 78.1L381.4 75.1L382 78.4L382.6 76.4L383.2 78.1L383.8 77.3L384.4 78.3L385 78.5L385.6 78.3L386.2 76.3L386.8 78.4L387.4 77.7L388 77.9L388.6 78.4L389.2 78.5L389.8 74.9L390.4 77.2L391 75.9L391.6 78L392.2 77.6L392.8 78.1L393.4 78.2L394 78L394.6 78.2L395.2 77.2L395.8 78.5L396.4 77.9L397 78L397.6 78.2L398.2 75.6L398.8 78.5L399.4 77L400 78.3L400.6 78.5L401.2 77.4L401.8 78L402.4 78.3L403 78.2L403.6 76.8L404.2 78.6L404.8 76L405.4 75.1L406 77.5L406.6 73.6L407.2 77.5L407.8 77.9L408.4 77.7L409 78.3L409.6 77.2L410.2 78.2L410.8 76.8L411.4 78.5L412 78.3L412.6 78.4L413.2 77.4L413.8 78.4L414.4 78.2L415 77.8L415.6 77.3L416.2 78.6L416.8 78.4L417.4 78.5L418 78.6L418.6 78.4L419.2 78.3L419.8 76.3L420.4 78.1L421 78.4L421.6 77.2L422.2 78.2L422.8 74.4L423.4 78.3L424 77.5L424.6 78.3L425.2 78.5L425.8 78.3L426.4 77.8L427 76L427.6 77.3L428.2 78L428.8 77.8L429.4 78.4L430 77.6L430.6 78.5L431.2 78.6L431.8 77.8L432.4 76.2L433 78.4L433.6 77.2L434.2 76.7L434.8 78.1L435.4 78.3L436 77.6L436.6 76.3L437.2 77.9L437.8 77.3L438.4 77.4L439 78.5L439.6 76.3L440.2 78.5L440.8 78.4L441.4 77.8L442 77.1L442.6 78.6L443.2 77.1L443.8 78.4L444.4 78.5L445 78.1L445.6 77.4L446.2 78.5L446.8 78.5L447.4 77.1L448 77.2L448.6 77.9L449.2 76.4L449.8 77.5L450.4 77.7L451 78.4L451.6 77.8L452.2 78.4L452.8 78.6L453.4 78.4L454 77.5L454.6 77.8L455.2 78.5L455.8 77.8L456.4 76.1L457 78L457.6 76.8L458.2 78.1L458.8 78.1L459.4 78.2L460 77.2L460.6 78L461.2 76.3L461.8 78.5L462.4 78L463 76.6L463.6 77.6L464.2 77.2L464.8 78.5L465.4 76.9L466 78.2L466.6 78.1L467.2 78.1L467.8 77.2L468.4 78.4L469 76.2L469.6 78.4L470.2 76.5L470.8 77.9L471.4 78.5L472 78.1L472.6 78.1L473.2 76.4L473.8 77.6L474.4 78.2L475 77.8L475.6 78.3L476.2 77.2L476.8 78.3L477.4 76.4L478 77.7L478.6 77L479.2 77L479.8 77L480.4 78.3L481 77.3L481.6 78.4L482.2 78.4L482.8 76.9L483.4 76L484 77.6L484.6 77L485.2 74L485.8 78L486.4 77.4L487 77.7L487.6 78.5L488.2 78.1L488.8 77.9L489.4 74.6L490 78.4L490.6 77.2L491.2 78.3L491.8 78.4L492.4 78.4L493 77.9L493.6 76.5L494.2 77.8L494.8 78.3L495.4 78L496 78L496.6 78.1L497.2 78.4L497.8 78.4L498.4 78.4L499 78.6L499.6 78.3L500.2 77.7L500.8 78.5L501.4 78.6L502 78.4L502.6 78.1L503.2 77L503.8 78.4L504.4 78.4L505 78.6L505.6 77.9L506.2 78.3L506.8 78.1L507.4 78.5L508 77.6L508.6 78L508.8 78.3 L508.8 79.1 Z" fill="#342cd4" stroke="#342cd4" stroke-width="0.25"/>
<rect x="73" y="77.9" width="435.8" height="1.4" fill="#2a1cd6"/>
<rect x="67.5" y="73.6" width="1.1" height="5" fill="#6a66dc"/>
<rect x="72.5" y="73.6" width="1.1" height="5" fill="#6a66dc"/>
<rect x="119.5" y="69.6" width="1.1" height="9" fill="#6a66dc"/>
<rect x="165.8" y="68.6" width="1.1" height="10" fill="#6a66dc"/>
<rect x="182.4" y="72.6" width="1.1" height="6" fill="#6a66dc"/>
<rect x="204.2" y="74.6" width="1.1" height="4" fill="#6a66dc"/>
<rect x="235.1" y="73.6" width="1.1" height="5" fill="#6a66dc"/>
<rect x="240.8" y="66.6" width="1.1" height="12" fill="#6a66dc"/>
<rect x="249.6" y="66.6" width="1.1" height="12" fill="#6a66dc"/>
<rect x="254.2" y="71.6" width="1.1" height="7" fill="#6a66dc"/>
<rect x="258.9" y="74.6" width="1.1" height="4" fill="#6a66dc"/>
<rect x="335.4" y="74.6" width="1.1" height="4" fill="#6a66dc"/>
<rect x="360.4" y="73.6" width="1.1" height="5" fill="#6a66dc"/>
<rect x="464.4" y="72.6" width="1.1" height="6" fill="#6a66dc"/>
<rect x="474.4" y="74.6" width="1.1" height="4" fill="#6a66dc"/>
<rect x="482.4" y="74.6" width="1.1" height="4" fill="#6a66dc"/>
<path d="M17.8 98L17.8 97L18.4 97L19 97L19.6 98L20.2 96.5L20.8 97L21.4 97L22 96.8L22.6 96.8L23.2 96.9L23.8 96L24.4 97L25 96.8L25.6 97L26.2 97L26.8 96.9L27.4 98L28 98L28.6 96.8L29.2 97L29.8 96.6L30.4 96.2L31 98L31.6 95.1L32.2 97L32.8 97L33.4 97L34 97L34.6 97L35.2 97L35.8 97L36.4 98L37 96.9L37.6 97L38.2 97L38.8 97L39.4 98L40 97L40.6 97L41.2 98L41.8 96.6L42.4 98L43 98L43.6 97L44.2 96.7L44.8 97L45.4 98L46 94.8L46.6 96.8L47.2 97L47.8 98L48.4 98L49 96.8L49.6 98L50.2 98L50.8 97L51.4 96.5L52 97L52.6 97L53.2 96.6L53.8 97L54.4 97L55 98L55.6 98L56.2 96.9L56.8 96.1L57.4 97L58 98L58.6 97L59.2 97L59.8 97L60.4 96.3L61 95.2L61.6 96L62.2 96.9L62.8 97L63.4 98L64 98L64.6 97L65.2 97L65.8 96L66.4 97L67 97L67.6 97L68.2 96.1L68.8 96.4L69.4 97L70 96.9L70.6 98L71.2 98L71.8 97L72.4 98L73 97.3L73.6 97.3L74.2 95.7L74.8 96.4L75.4 95.1L76 96.8L76.6 96.9L77.2 97.3L77.8 97.2L78.4 96.4L79 96L79.6 96.5L80.2 97.1L80.8 95.8L81.4 95.5L82 96.6L82.6 96.9L83.2 95.3L83.8 97L84.4 96.9L85 95.9L85.6 96.8L86.2 92.4L86.8 97L87.4 96.7L88 97.2L88.6 95.8L89.2 93.9L89.8 97.4L90.4 96.4L91 97.3L91.6 96.4L92.2 97L92.8 95.7L93.4 96.8L94 96.4L94.6 96.8L95.2 96.5L95.8 96.6L96.4 96.9L97 97.4L97.6 96.1L98.2 96.3L98.8 96.3L99.4 97.4L100 96.7L100.6 97.1L101.2 97.1L101.8 97.3L102.4 97.2L103 97.1L103.6 96.8L104.2 97.2L104.8 97.1L105.4 97L106 96.3L106.6 96.2L107.2 96.7L107.8 96.3L108.4 96.9L109 97.3L109.6 95.6L110.2 96.1L110.8 97.1L111.4 96.8L112 97L112.6 95.3L113.2 94.3L113.8 96.8L114.4 95.3L115 96L115.6 97L116.2 96.4L116.8 97L117.4 96.4L118 97L118.6 96.9L119.2 96.7L119.8 97.1L120.4 95.4L121 97L121.6 96.6L122.2 93.7L122.8 95.9L123.4 97.3L124 96.9L124.6 97.1L125.2 96.5L125.8 97.2L126.4 96.1L127 97.3L127.6 92.4L128.2 96.2L128.8 97.3L129.4 97.3L130 96L130.6 92.4L131.2 96.8L131.8 95.7L132.4 97.2L133 95.6L133.6 96.8L134.2 96L134.8 93.2L135.4 97.2L136 96.7L136.6 97L137.2 95.7L137.8 97.2L138.4 96.8L139 97.3L139.6 93.5L140.2 97.3L140.8 96.4L141.4 96.5L142 97L142.6 95.8L143.2 97.3L143.8 96.5L144.4 92.4L145 96.8L145.6 97.1L146.2 95.4L146.8 95.8L147.4 95.8L148 96.8L148.6 97.3L149.2 95.3L149.8 97.3L150.4 96L151 97.1L151.6 96.5L152.2 97.4L152.8 97.1L153.4 92.4L154 97.2L154.6 95.7L155.2 96.4L155.8 97.1L156.4 96.6L157 95L157.6 96.6L158.2 97.2L158.8 97.3L159.4 97.3L160 96.6L160.6 97.4L161.2 95.6L161.8 96.7L162.4 96.5L163 97.1L163.6 97.1L164.2 95.3L164.8 97.3L165.4 95.5L166 95.1L166.6 96.5L167.2 95.6L167.8 96.5L168.4 95.2L169 95.6L169.6 97L170.2 96.1L170.8 96L171.4 96.8L172 96.6L172.6 96.2L173.2 97.3L173.8 97.1L174.4 97.2L175 94.4L175.6 95.5L176.2 97.3L176.8 97.3L177.4 97.2L178 97.1L178.6 97L179.2 96.4L179.8 97.1L180.4 95L181 96.8L181.6 97.4L182.2 96.9L182.8 96.3L183.4 97.4L184 97.2L184.6 96.8L185.2 96.6L185.8 97.2L186.4 96.9L187 96.3L187.6 97.2L188.2 97.3L188.8 97.3L189.4 95.8L190 95.9L190.6 96.8L191.2 94.9L191.8 96.6L192.4 95.9L193 94.9L193.6 97.3L194.2 96.9L194.8 96.9L195.4 96.7L196 97.1L196.6 93.6L197.2 96.3L197.8 97.1L198.4 96.7L199 96.4L199.6 96.5L200.2 97.4L200.8 94.8L201.4 96.2L202 96.7L202.6 97L203.2 95.8L203.8 96L204.4 96L205 95.4L205.6 95.1L206.2 97.1L206.8 96.4L207.4 95.3L208 97.3L208.6 97.2L209.2 97.4L209.8 96.8L210.4 96.8L211 94.1L211.6 96.2L212.2 94L212.8 97.4L213.4 97.4L214 93.8L214.6 97.4L215.2 95.1L215.8 95.7L216.4 97.2L217 97.2L217.6 96.5L218.2 96.1L218.8 97.2L219.4 96.4L220 96L220.6 94.1L221.2 96.9L221.8 96.5L222.4 96.5L223 94.3L223.6 95.9L224.2 96.9L224.8 97.3L225.4 94.6L226 97.2L226.6 96.6L227.2 97L227.8 97.3L228.4 97.1L229 96.8L229.6 95.6L230.2 97.1L230.8 97.2L231.4 97.2L232 94L232.6 95.6L233.2 96.2L233.8 96.8L234.4 95.2L235 96.6L235.6 96.9L236.2 97.1L236.8 96.8L237.4 96.4L238 97.2L238.6 95.9L239.2 97.2L239.8 97.1L240.4 97.3L241 97.4L241.6 96.7L242.2 95.7L242.8 95.1L243.4 96.1L244 97.4L244.6 97.2L245.2 97.2L245.8 97.2L246.4 97.2L247 97.1L247.6 95.4L248.2 94.2L248.8 97.2L249.4 95.8L250 97.4L250.6 97.4L251.2 96.2L251.8 96.2L252.4 97.3L253 97.1L253.6 96.5L254.2 95.6L254.8 97.1L255.4 97.2L256 95.8L256.6 97.1L257.2 96.3L257.8 96.9L258.4 96.5L259 94.4L259.6 95.9L260.2 94.2L260.8 96.9L261.4 97.1L262 95.2L262.6 97.2L263.2 97.3L263.8 97L264.4 97.3L265 96.7L265.6 97.1L266.2 97.1L266.8 96.5L267.4 96.9L268 96.9L268.6 96.6L269.2 96.8L269.8 95.7L270.4 96.8L271 92.5L271.6 96.7L272.2 96.7L272.8 96.2L273.4 96.7L274 96.1L274.6 96.5L275.2 97.4L275.8 96.7L276.4 96.9L277 95.4L277.6 97.2L278.2 96.5L278.8 96.6L279.4 96.1L280 96L280.6 97.1L281.2 95.5L281.8 92.4L282.4 96.8L283 96.8L283.6 96.4L284.2 96.4L284.8 97L285.4 97.1L286 97.3L286.6 94.9L287.2 96.9L287.8 95.9L288.4 97.2L289 95.9L289.6 96.5L290.2 96.7L290.8 96.3L291.4 97L292 97.2L292.6 97.2L293.2 97.3L293.8 97.3L294.4 95.8L295 94.4L295.6 96.9L296.2 96.7L296.8 94.1L297.4 97.4L298 96.4L298.6 96.6L299.2 95.8L299.8 96.4L300.4 97.4L301 96.4L301.6 96.6L302.2 97.3L302.8 94.4L303.4 96.2L304 97.2L304.6 95.6L305.2 96L305.8 92.4L306.4 96.8L307 96.5L307.6 97L308.2 96.1L308.8 96.7L309.4 93L310 96.8L310.6 97.2L311.2 96.8L311.8 97.3L312.4 94.7L313 97.2L313.6 96.6L314.2 96.7L314.8 96.4L315.4 97.2L316 96.2L316.6 97.4L317.2 97L317.8 96.7L318.4 97.3L319 97.3L319.6 96.8L320.2 97.4L320.8 96.5L321.4 97.4L322 97L322.6 96.3L323.2 95.8L323.8 96.1L324.4 97.3L325 94.1L325.6 96.9L326.2 97L326.8 95.9L327.4 96.7L328 95.9L328.6 95.2L329.2 96.7L329.8 96.6L330.4 96.1L331 96.4L331.6 96.9L332.2 95.9L332.8 94.9L333.4 95.2L334 97L334.6 96.5L335.2 97.3L335.8 97L336.4 95.1L337 96.6L337.6 97.1L338.2 96.8L338.8 96.8L339.4 96.9L340 96.7L340.6 95.6L341.2 97.4L341.8 96.5L342.4 95.6L343 97.2L343.6 97.1L344.2 96.6L344.8 97.1L345.4 97.3L346 97L346.6 96.9L347.2 95.9L347.8 97.2L348.4 97.2L349 96.9L349.6 97.3L350.2 96.3L350.8 97.4L351.4 95.4L352 94.4L352.6 92.6L353.2 97.2L353.8 94.1L354.4 97.2L355 96.4L355.6 95.3L356.2 97.2L356.8 94.5L357.4 94L358 96L358.6 95.2L359.2 95.2L359.8 97.3L360.4 96.6L361 96.8L361.6 97.3L362.2 97.4L362.8 96.5L363.4 96.3L364 96.7L364.6 96.8L365.2 97.2L365.8 96.4L366.4 97.4L367 97.3L367.6 96.6L368.2 96.3L368.8 96.7L369.4 97.2L370 97L370.6 96.8L371.2 97.2L371.8 97.4L372.4 97.3L373 93.9L373.6 96.5L374.2 96.9L374.8 97.2L375.4 97L376 96.2L376.6 96.4L377.2 96.6L377.8 95.6L378.4 95.4L379 97.4L379.6 97L380.2 97.3L380.8 96.8L381.4 96.5L382 96.5L382.6 96.5L383.2 97.3L383.8 97.3L384.4 95.7L385 95.8L385.6 97.1L386.2 96.4L386.8 96.8L387.4 94.8L388 97L388.6 97L389.2 97.1L389.8 96.8L390.4 96.1L391 94.9L391.6 95.9L392.2 97.2L392.8 97L393.4 97.2L394 96.6L394.6 97.3L395.2 95.6L395.8 96.1L396.4 94.8L397 97.3L397.6 96.7L398.2 92.5L398.8 97.2L399.4 95.3L400 96.1L400.6 96.5L401.2 97.2L401.8 95.5L402.4 97L403 97.3L403.6 97.3L404.2 97.4L404.8 94.8L405.4 97L406 97.3L406.6 97.2L407.2 96.9L407.8 96.8L408.4 96.6L409 95.3L409.6 97.3L410.2 97.4L410.8 96.4L411.4 95.4L412 97.2L412.6 96.3L413.2 97.3L413.8 97.2L414.4 95.9L415 96L415.6 97.3L416.2 96.9L416.8 97.1L417.4 97.4L418 96.8L418.6 96.3L419.2 97.4L419.8 97.2L420.4 96.7L421 97.4L421.6 95.6L422.2 96.3L422.8 97.3L423.4 96.6L424 96.8L424.6 97.3L425.2 95.2L425.8 93.3L426.4 96.7L427 96.8L427.6 95.3L428.2 97.3L428.8 95L429.4 95.3L430 96.7L430.6 96.1L431.2 97.3L431.8 97L432.4 97.2L433 94.4L433.6 96.5L434.2 95.8L434.8 97.3L435.4 94.3L436 97.3L436.6 96.9L437.2 97L437.8 97.1L438.4 97.2L439 97.2L439.6 97.4L440.2 97.4L440.8 97.1L441.4 97.2L442 95.3L442.6 96.9L443.2 97L443.8 96.5L444.4 97.2L445 96.1L445.6 97L446.2 95.9L446.8 96.3L447.4 95.8L448 96.2L448.6 97.4L449.2 96.5L449.8 95.4L450.4 96.5L451 96.8L451.6 97L452.2 96.9L452.8 97.2L453.4 95.5L454 95.6L454.6 93.5L455.2 96.9L455.8 97.3L456.4 95.9L457 97L457.6 96.5L458.2 93.6L458.8 93.5L459.4 95.5L460 97.2L460.6 96.8L461.2 96.6L461.8 97.4L462.4 95.4L463 96L463.6 97.3L464.2 96L464.8 97.2L465.4 97.3L466 95.5L466.6 97.1L467.2 96.3L467.8 97.3L468.4 96.7L469 95.8L469.6 95.8L470.2 95.4L470.8 97.1L471.4 97L472 94.9L472.6 96.7L473.2 95.2L473.8 97.3L474.4 97.2L475 96.7L475.6 94L476.2 96.6L476.8 96.9L477.4 93.8L478 96.7L478.6 97.4L479.2 96.5L479.8 96.9L480.4 97.2L481 96.4L481.6 96.8L482.2 97.2L482.8 93.4L483.4 96.9L484 95.3L484.6 95L485.2 96L485.8 97.3L486.4 96.3L487 96.6L487.6 97.3L488.2 97L488.8 96.4L489.4 96.6L490 96.2L490.6 96.5L491.2 97.4L491.8 96.4L492.4 97.4L493 97.3L493.6 97.2L494.2 97L494.8 97.4L495.4 96.7L496 96L496.6 97.4L497.2 97.3L497.8 97L498.4 97.1L499 95.8L499.6 95.7L500.2 97.1L500.8 97.3L501.4 96L502 96.2L502.6 96.2L503.2 97.4L503.8 96.8L504.4 96.2L505 97.4L505.6 95.7L506.2 97.3L506.8 96.6L507.4 95.1L508 97.4L508.6 96.6L508.8 97.1 L508.8 98 Z" fill="#342cd4" stroke="#342cd4" stroke-width="0.25"/>
<rect x="73" y="96.7" width="435.8" height="1.4" fill="#2a1cd6"/>
<rect x="119.5" y="89.4" width="1.1" height="8" fill="#6a66dc"/>
<rect x="146.9" y="89.4" width="1.1" height="8" fill="#6a66dc"/>
<rect x="165.8" y="91.4" width="1.1" height="6" fill="#6a66dc"/>
<rect x="182.4" y="93.4" width="1.1" height="4" fill="#6a66dc"/>
<rect x="190.2" y="92.4" width="1.1" height="5" fill="#6a66dc"/>
<rect x="249.6" y="92.4" width="1.1" height="5" fill="#6a66dc"/>
<rect x="254.2" y="91.4" width="1.1" height="6" fill="#6a66dc"/>
<rect x="260.6" y="90.4" width="1.1" height="7" fill="#6a66dc"/>
<rect x="353.6" y="88.4" width="1.1" height="9" fill="#6a66dc"/>
<rect x="359.9" y="92.4" width="1.1" height="5" fill="#6a66dc"/>
<rect x="363.4" y="93.4" width="1.1" height="4" fill="#6a66dc"/>
<rect x="423.4" y="93.4" width="1.1" height="4" fill="#6a66dc"/>
<rect x="443.4" y="93.4" width="1.1" height="4" fill="#6a66dc"/>
<rect x="474.4" y="92.9" width="1.1" height="4.5" fill="#6a66dc"/>
<rect x="484.4" y="93.9" width="1.1" height="3.5" fill="#6a66dc"/>
<path d="M17.8 117.3L17.8 112.7L18.4 113.5L19 113.8L19.6 113.1L20.2 113.2L20.8 112.7L21.4 113L22 113.7L22.6 113.9L23.2 110.6L23.8 111.9L24.4 113.8L25 113.2L25.6 112.9L26.2 112.4L26.8 113.3L27.4 113.8L28 113.7L28.6 114L29.2 113.3L29.8 111.6L30.4 112.9L31 113.8L31.6 113.1L32.2 112.7L32.8 113.6L33.4 113.3L34 113.9L34.6 113.6L35.2 112.9L35.8 112.9L36.4 111.1L37 112.8L37.6 113.3L38.2 112.6L38.8 113.7L39.4 113.6L40 113L40.6 113.2L41.2 112.5L41.8 113L42.4 113.4L43 113.4L43.6 112.6L44.2 113.4L44.8 112.8L45.4 113.2L46 112.9L46.6 113.2L47.2 113.7L47.8 112.8L48.4 113.7L49 113.8L49.6 113.5L50.2 112.8L50.8 113L51.4 112.1L52 112.3L52.6 112.4L53.2 112.2L53.8 112.3L54.4 113.2L55 112.7L55.6 112.4L56.2 113.4L56.8 113.2L57.4 113.3L58 113.4L58.6 113.5L59.2 112.7L59.8 113.1L60.4 113.2L61 113L61.6 113L62.2 113.6L62.8 113.2L63.4 111.7L64 113.6L64.6 113.3L65.2 113.2L65.8 112.6L66.4 112.6L67 112.9L67.6 113L68.2 113.9L68.8 113.3L69.4 111.4L70 110.2L70.6 113.5L71.2 113.4L71.8 112L72.4 113.5L73 112.9L73.6 113.7L74.2 113.2L74.8 113.5L75.4 113.8L76 113.2L76.6 113.2L77.2 113.4L77.8 112L78.4 113.5L79 113.6L79.6 111.7L80.2 113.7L80.8 113.4L81.4 113.5L82 112.4L82.6 113.5L83.2 113.6L83.8 113.3L84.4 112.8L85 112.8L85.6 113.7L86.2 113L86.8 112.1L87.4 113.6L88 112.9L88.6 111.8L89.2 113.2L89.8 113.5L90.4 112.4L91 111.7L91.6 113.3L92.2 112.8L92.8 112.2L93.4 113.1L94 113.2L94.6 113.2L95.2 113.6L95.8 113.6L96.4 113.7L97 113.3L97.6 113.5L98.2 113L98.8 113.1L99.4 113.5L100 113.6L100.6 113.1L101.2 113.7L101.8 112.9L102.4 112.7L103 111.2L103.6 112.9L104.2 113.8L104.8 112.5L105.4 111.5L106 112.8L106.6 112.3L107.2 113.9L107.8 113.3L108.4 112.4L109 113.1L109.6 113.3L110.2 113.7L110.8 113.4L111.4 113.6L112 112.5L112.6 113.3L113.2 113.4L113.8 113.7L114.4 113.6L115 112.5L115.6 112.7L116.2 112.8L116.8 112L117.4 113.4L118 113L118.6 113.3L119.2 113.5L119.8 113.4L120.4 112.8L121 113.8L121.6 111.6L122.2 113.4L122.8 113.5L123.4 113.7L124 112.3L124.6 112.1L125.2 113.7L125.8 111.8L126.4 113L127 112L127.6 113.1L128.2 113.6L128.8 113.6L129.4 113.7L130 113.4L130.6 113.3L131.2 113.9L131.8 113.3L132.4 113.4L133 113L133.6 113.4L134.2 112.8L134.8 113.7L135.4 113.5L136 113.7L136.6 113.4L137.2 113.1L137.8 113.7L138.4 112.7L139 113.7L139.6 113.4L140.2 113.2L140.8 113.4L141.4 112.9L142 113.8L142.6 113.4L143.2 112.8L143.8 113L144.4 113.4L145 112.8L145.6 113.7L146.2 112.7L146.8 112.6L147.4 113.5L148 113.5L148.6 113.7L149.2 113.7L149.8 112.1L150.4 111.9L151 113.1L151.6 113.4L152.2 113.6L152.8 113.6L153.4 113.9L154 113.4L154.6 112.3L155.2 113.3L155.8 113.9L156.4 113.8L157 113L157.6 113.9L158.2 112.6L158.8 113.1L159.4 112.9L160 113.3L160.6 113.8L161.2 112.8L161.8 113.5L162.4 113.4L163 113.3L163.6 112.5L164.2 112.6L164.8 113.4L165.4 112.6L166 112.9L166.6 113.4L167.2 113.3L167.8 113.7L168.4 113.4L169 113.3L169.6 112.8L170.2 113.4L170.8 113.4L171.4 113.4L172 113.3L172.6 112.2L173.2 113.8L173.8 111.7L174.4 113.5L175 113.6L175.6 113.7L176.2 113.7L176.8 113.7L177.4 112.9L178 113.5L178.6 112.9L179.2 113.6L179.8 111.2L180.4 113L181 113.2L181.6 112.9L182.2 113L182.8 113.3L183.4 113.8L184 112.9L184.6 112.1L185.2 113.4L185.8 113.2L186.4 113.3L187 113L187.6 112.6L188.2 113.3L188.8 113.6L189.4 113.9L190 113.1L190.6 112.3L191.2 113.7L191.8 111.8L192.4 112.7L193 113.9L193.6 113.4L194.2 113.6L194.8 113.3L195.4 113.3L196 113.4L196.6 113.4L197.2 113L197.8 113.3L198.4 112.7L199 113.1L199.6 113.1L200.2 113.5L200.8 113L201.4 113.1L202 112.6L202.6 113L203.2 112.9L203.8 112.8L204.4 113.1L205 113.1L205.6 112.3L206.2 111.9L206.8 112.5L207.4 113.6L208 113.2L208.6 114L209.2 112.6L209.8 113.5L210.4 113.3L211 113.7L211.6 113.2L212.2 113.6L212.8 112.4L213.4 112.3L214 113.1L214.6 113.6L215.2 113.3L215.8 112.7L216.4 113.3L217 113.2L217.6 111.2L218.2 113.3L218.8 112.4L219.4 112.2L220 113.5L220.6 111.9L221.2 113.3L221.8 112.7L222.4 112.8L223 113.4L223.6 113.4L224.2 113.7L224.8 113.5L225.4 111.8L226 113.6L226.6 112.5L227.2 113.1L227.8 112.3L228.4 113.3L229 113.3L229.6 112.6L230.2 113.7L230.8 113L231.4 113.2L232 113.4L232.6 113.3L233.2 113.1L233.8 112.2L234.4 111L235 113.8L235.6 113.7L236.2 113.6L236.8 113.5L237.4 113.8L238 113L238.6 112.5L239.2 113.4L239.8 113.7L240.4 113.5L241 112.9L241.6 111.6L242.2 113.4L242.8 113L243.4 113L244 113.9L244.6 114L245.2 113.5L245.8 112.4L246.4 113.6L247 113.4L247.6 113.3L248.2 113.3L248.8 113.4L249.4 113.6L250 112.6L250.6 112.7L251.2 113.4L251.8 113L252.4 112.6L253 111.8L253.6 113.4L254.2 112.8L254.8 113.5L255.4 112.8L256 113.9L256.6 113.6L257.2 113.6L257.8 113.6L258.4 113L259 113.3L259.6 113.6L260.2 112.7L260.8 113.3L261.4 113.6L262 113.8L262.6 112.5L263.2 113.7L263.8 113.5L264.4 113.1L265 112.7L265.6 112.8L266.2 113.4L266.8 112.7L267.4 113.5L268 113.1L268.6 113.2L269.2 113.8L269.8 113.6L270.4 113.6L271 112.9L271.6 112.9L272.2 112L272.8 113.8L273.4 113.5L274 111.3L274.6 113L275.2 113.3L275.8 113.3L276.4 113.6L277 112.5L277.6 111.9L278.2 111.6L278.8 112.9L279.4 113.4L280 113.3L280.6 113.6L281.2 113.7L281.8 113.4L282.4 113L283 113.8L283.6 112.9L284.2 112.6L284.8 113.2L285.4 113.7L286 113L286.6 113.4L287.2 112.8L287.8 113.6L288.4 113.5L289 112.9L289.6 112.9L290.2 113.1L290.8 113.1L291.4 113.7L292 113.4L292.6 113.4L293.2 113.9L293.8 113.9L294.4 113.5L295 112.9L295.6 112.8L296.2 113.5L296.8 112.7L297.4 112.5L298 113.7L298.6 112.6L299.2 112.4L299.8 112.1L300.4 113.5L301 112.4L301.6 113.4L302.2 113.6L302.8 113.9L303.4 113.7L304 112.8L304.6 112.3L305.2 112.5L305.8 112.7L306.4 113.6L307 113.2L307.6 113.5L308.2 112.8L308.8 113L309.4 112.8L310 112.8L310.6 112.5L311.2 112.2L311.8 113.4L312.4 112.1L313 111.9L313.6 113.7L314.2 112.4L314.8 112.9L315.4 113.4L316 111.8L316.6 112.9L317.2 113.6L317.8 113.6L318.4 113L319 113.1L319.6 112.3L320.2 112.3L320.8 113.6L321.4 110.9L322 113.6L322.6 113.6L323.2 113.8L323.8 112.8L324.4 113.7L325 113.4L325.6 112.3L326.2 113L326.8 112.1L327.4 113.3L328 112.8L328.6 113.2L329.2 113.7L329.8 113.2L330.4 113.2L331 113.5L331.6 112.2L332.2 112.8L332.8 112.8L333.4 112.5L334 113.4L334.6 113.3L335.2 113.4L335.8 113.4L336.4 113.8L337 112.5L337.6 112.6L338.2 113.3L338.8 112.2L339.4 112.6L340 113.8L340.6 114L341.2 112.4L341.8 113L342.4 113.5L343 113.4L343.6 113.4L344.2 112.4L344.8 112.4L345.4 113.1L346 113.1L346.6 113L347.2 112.5L347.8 111.9L348.4 113.4L349 113.6L349.6 113.9L350.2 112.3L350.8 112.8L351.4 113.5L352 111.8L352.6 113.7L353.2 113.6L353.8 113.6L354.4 112.3L355 113.9L355.6 112.6L356.2 113.8L356.8 112.5L357.4 112.1L358 113L358.6 113.9L359.2 113.1L359.8 112.4L360.4 113.3L361 113.3L361.6 112.4L362.2 113.7L362.8 112.5L363.4 113.6L364 112.2L364.6 112.9L365.2 113.6L365.8 113.8L366.4 112.7L367 113.9L367.6 113.1L368.2 112.3L368.8 113.7L369.4 113.6L370 112.8L370.6 113.4L371.2 113.3L371.8 113.7L372.4 113.7L373 113.2L373.6 112.6L374.2 113.2L374.8 113.6L375.4 112.9L376 113.7L376.6 113.5L377.2 113.6L377.8 113.7L378.4 112.2L379 113.2L379.6 113.8L380.2 113.6L380.8 113.1L381.4 112.7L382 112.8L382.6 113L383.2 113.6L383.8 113.5L384.4 113.1L385 113.2L385.6 113.7L386.2 113.9L386.8 112.9L387.4 113.3L388 113.7L388.6 113.8L389.2 113.5L389.8 112.5L390.4 112.5L391 112.8L391.6 113.1L392.2 113.5L392.8 113.8L393.4 113.6L394 113L394.6 113.4L395.2 112.2L395.8 113.1L396.4 111.1L397 113.2L397.6 112.5L398.2 113.5L398.8 112.9L399.4 113.7L400 113.6L400.6 112.8L401.2 113.2L401.8 113.5L402.4 112.4L403 112.8L403.6 113.6L404.2 112.2L404.8 112.7L405.4 113.1L406 113.4L406.6 113.7L407.2 111.6L407.8 113.2L408.4 111.4L409 113.6L409.6 112L410.2 113.4L410.8 113.2L411.4 113.4L412 113.2L412.6 113.6L413.2 111.9L413.8 113.1L414.4 113L415 113.3L415.6 111.7L416.2 113.6L416.8 113L417.4 112.3L418 113.7L418.6 113.8L419.2 112.8L419.8 113.9L420.4 113L421 113.8L421.6 112.2L422.2 113.8L422.8 112.2L423.4 112.7L424 112.4L424.6 113.6L425.2 112.3L425.8 113.2L426.4 112.3L427 113.1L427.6 112.8L428.2 113.2L428.8 113.4L429.4 113.7L430 112L430.6 112.9L431.2 112.4L431.8 113.1L432.4 112.6L433 112.3L433.6 113.2L434.2 113.7L434.8 113.4L435.4 112.4L436 113.6L436.6 112.5L437.2 113.7L437.8 113.2L438.4 112.8L439 111.6L439.6 112.3L440.2 113.3L440.8 112.3L441.4 113.7L442 113L442.6 113.6L443.2 113.9L443.8 112.6L444.4 113.2L445 113.3L445.6 113.7L446.2 112.7L446.8 113.7L447.4 112.7L448 112.3L448.6 112.8L449.2 113.7L449.8 111.4L450.4 113.6L451 113L451.6 112.5L452.2 112.2L452.8 113.1L453.4 112.8L454 113.9L454.6 113.7L455.2 113.4L455.8 113.7L456.4 113.1L457 113.8L457.6 113.3L458.2 112.7L458.8 113.4L459.4 113.3L460 113.4L460.6 112.1L461.2 113.4L461.8 113.2L462.4 112.6L463 113.1L463.6 112.6L464.2 113.5L464.8 113.8L465.4 113.1L466 112.8L466.6 112.7L467.2 113.5L467.8 113.2L468.4 113.7L469 112.6L469.6 113.2L470.2 111.9L470.8 113.7L471.4 112L472 113.5L472.6 113.4L473.2 113.6L473.8 111.6L474.4 113.6L475 112.9L475.6 113.6L476.2 113.2L476.8 109.3L477.4 112.6L478 113.4L478.6 112.9L479.2 113.2L479.8 112.9L480.4 112.5L481 113.1L481.6 112.8L482.2 112.8L482.8 112.9L483.4 112.3L484 113.1L484.6 113.2L485.2 113.2L485.8 113.3L486.4 113.6L487 113.5L487.6 113L488.2 113L488.8 112.9L489.4 113.3L490 113.7L490.6 113.8L491.2 111.4L491.8 113.1L492.4 112.4L493 111.6L493.6 113.7L494.2 112.6L494.8 113.7L495.4 113.5L496 113.1L496.6 113.3L497.2 110.7L497.8 113.8L498.4 113.3L499 113.1L499.6 112.9L500.2 113.8L500.8 112.2L501.4 112.4L502 113.3L502.6 113.4L503.2 112.4L503.8 112.3L504.4 113.3L505 113.6L505.6 113L506.2 113.7L506.8 113.2L507.4 113.2L508 113.2L508.6 109.7L508.8 117.3 Z" fill="#ea1c3c" stroke="#ea1c3c" stroke-width="0.4"/>
<rect x="104" y="106" width="1.1" height="8.5" fill="#ef7080"/>
<rect x="228.8" y="104" width="1.1" height="10.5" fill="#ef7080"/>
<rect x="316.1" y="104" width="1.1" height="10.5" fill="#ef7080"/>
<rect x="427.1" y="104" width="1.1" height="10.5" fill="#ef7080"/>
<rect x="422.6" y="110" width="1.1" height="4.5" fill="#ef7080"/>
<rect x="162.4" y="111" width="1.1" height="3.5" fill="#ef7080"/>
<rect x="165.4" y="110.5" width="1.1" height="4" fill="#ef7080"/>
<rect x="475.4" y="111" width="1.1" height="3.5" fill="#ef7080"/>
<path d="M17.8 135.8L17.8 132.4L18.4 131.5L19 131.8L19.6 131.8L20.2 132.4L20.8 132.1L21.4 132.3L22 130.7L22.6 131.7L23.2 131.1L23.8 131.9L24.4 130.4L25 131.6L25.6 132.3L26.2 131.2L26.8 130.5L27.4 130.8L28 132.3L28.6 132L29.2 132.3L29.8 131.6L30.4 131.9L31 132.2L31.6 132.2L32.2 131.9L32.8 131.9L33.4 131.5L34 132.2L34.6 131.7L35.2 130.6L35.8 132.4L36.4 132.1L37 129.2L37.6 131.1L38.2 131.9L38.8 132L39.4 131.6L40 131.4L40.6 131.8L41.2 131.7L41.8 131.2L42.4 131.4L43 131.6L43.6 132.3L44.2 130.4L44.8 132.1L45.4 131.3L46 131.4L46.6 131.6L47.2 131.6L47.8 131.9L48.4 131.7L49 131.5L49.6 131.9L50.2 131.9L50.8 132.1L51.4 131.4L52 132.1L52.6 132.1L53.2 131.4L53.8 131.6L54.4 130.6L55 131.1L55.6 131.3L56.2 130.6L56.8 131.7L57.4 131.6L58 131.1L58.6 129.4L59.2 131.1L59.8 132L60.4 131.7L61 130.7L61.6 131.3L62.2 131L62.8 131.5L63.4 132.2L64 130.6L64.6 130.9L65.2 131.1L65.8 130L66.4 130.9L67 132L67.6 130.4L68.2 131.9L68.8 131.6L69.4 131.6L70 131.1L70.6 131.1L71.2 131.4L71.8 131.9L72.4 132.1L73 131.9L73.6 131.9L74.2 132.1L74.8 131.7L75.4 132L76 131.2L76.6 130.4L77.2 132.2L77.8 131.8L78.4 131.5L79 130.4L79.6 131.8L80.2 132.1L80.8 131.9L81.4 131.9L82 131.8L82.6 131.9L83.2 132L83.8 131.3L84.4 130.5L85 131.4L85.6 131.8L86.2 131.7L86.8 131.2L87.4 132L88 131.6L88.6 131L89.2 131L89.8 131.3L90.4 132.4L91 132.2L91.6 131.6L92.2 131.5L92.8 130.5L93.4 132.1L94 131L94.6 131.7L95.2 132.3L95.8 132L96.4 131.9L97 131.6L97.6 132.1L98.2 132.1L98.8 132.3L99.4 130.4L100 131.2L100.6 131.1L101.2 131.6L101.8 131.9L102.4 131.9L103 131.8L103.6 131.8L104.2 132L104.8 132.1L105.4 132.2L106 130.9L106.6 131L107.2 130.9L107.8 132.4L108.4 131.6L109 132.1L109.6 129.7L110.2 129.8L110.8 131.7L111.4 132.3L112 132.2L112.6 132.1L113.2 132.4L113.8 131L114.4 131.5L115 132L115.6 131.7L116.2 130.3L116.8 131.7L117.4 131.6L118 132.1L118.6 130.6L119.2 131.3L119.8 132.4L120.4 132.2L121 131.2L121.6 131.8L122.2 132L122.8 130.7L123.4 132L124 132L124.6 130.6L125.2 132.2L125.8 130.8L126.4 131.6L127 131.6L127.6 131.3L128.2 131.9L128.8 131.1L129.4 131.8L130 130.6L130.6 132.2L131.2 132L131.8 131.6L132.4 132.5L133 132.4L133.6 132.1L134.2 132L134.8 131.2L135.4 132L136 130L136.6 131.2L137.2 132L137.8 131.9L138.4 131.9L139 130.9L139.6 131.5L140.2 132.1L140.8 132.4L141.4 131.8L142 130.9L142.6 131.9L143.2 131.9L143.8 131L144.4 130.9L145 131.4L145.6 131.2L146.2 130.8L146.8 132.1L147.4 132.4L148 132L148.6 131.5L149.2 129.6L149.8 131.8L150.4 131.6L151 131.3L151.6 132L152.2 131.1L152.8 132.1L153.4 131.3L154 131.8L154.6 131.6L155.2 132L155.8 131.7L156.4 131.5L157 131.9L157.6 131.9L158.2 130.5L158.8 132.3L159.4 131.8L160 131.7L160.6 131.5L161.2 132.2L161.8 131.5L162.4 132L163 131.8L163.6 131.1L164.2 131.8L164.8 131.7L165.4 131L166 131.7L166.6 132.3L167.2 132.2L167.8 131.4L168.4 132.2L169 132.3L169.6 132L170.2 132L170.8 131.5L171.4 132L172 130.7L172.6 132L173.2 131.6L173.8 130.9L174.4 131.8L175 127.2L175.6 131L176.2 132.3L176.8 132.2L177.4 131.7L178 131.5L178.6 132.2L179.2 130.8L179.8 129.9L180.4 131.4L181 131.9L181.6 132L182.2 131.3L182.8 131.9L183.4 131.8L184 131.9L184.6 132.1L185.2 131.9L185.8 132.1L186.4 132.2L187 131.5L187.6 132.2L188.2 130.3L188.8 131.3L189.4 129.5L190 131.9L190.6 131.7L191.2 131.4L191.8 131.9L192.4 131.9L193 132.1L193.6 132.3L194.2 130.5L194.8 132.1L195.4 132L196 131.8L196.6 131.5L197.2 132.3L197.8 130.3L198.4 131.1L199 130.9L199.6 131.5L200.2 132.1L200.8 131.3L201.4 131L202 130L202.6 131.7L203.2 132.2L203.8 132L204.4 131.6L205 131.4L205.6 131.6L206.2 132.1L206.8 131.1L207.4 131.8L208 132.2L208.6 132L209.2 131.4L209.8 130.5L210.4 132.4L211 131.6L211.6 131.2L212.2 131.6L212.8 130.2L213.4 131.9L214 131.3L214.6 131.2L215.2 131.2L215.8 132L216.4 131.2L217 132L217.6 132.1L218.2 130.1L218.8 132L219.4 130.6L220 131L220.6 131.5L221.2 131.6L221.8 132.2L222.4 131.8L223 131.9L223.6 130.8L224.2 132.3L224.8 131.5L225.4 130.9L226 131.5L226.6 132.1L227.2 131.9L227.8 130.7L228.4 132L229 132.5L229.6 132.2L230.2 132L230.8 131.4L231.4 131L232 132L232.6 132.1L233.2 130.9L233.8 132L234.4 131.3L235 131.9L235.6 131.4L236.2 131.8L236.8 132.2L237.4 131.7L238 132L238.6 131.9L239.2 132L239.8 131.5L240.4 131.8L241 131.6L241.6 131.4L242.2 131.3L242.8 131.5L243.4 130.1L244 127.8L244.6 131.5L245.2 132.3L245.8 129.8L246.4 131.7L247 132L247.6 131.7L248.2 130.7L248.8 131.4L249.4 131.9L250 131.8L250.6 131.5L251.2 132.1L251.8 131L252.4 131.9L253 131.4L253.6 131.1L254.2 131.8L254.8 130.3L255.4 131L256 131.7L256.6 131.6L257.2 131.9L257.8 129.3L258.4 131.2L259 131.3L259.6 132.2L260.2 132.3L260.8 132L261.4 131.6L262 131.6L262.6 130.8L263.2 130.8L263.8 131.6L264.4 132.1L265 131.9L265.6 132.3L266.2 132.1L266.8 131.3L267.4 130.4L268 131.4L268.6 131.3L269.2 130.7L269.8 129.5L270.4 131.4L271 131.4L271.6 130.7L272.2 131.8L272.8 132.2L273.4 131.5L274 131.2L274.6 132L275.2 132.3L275.8 126.5L276.4 131.9L277 131.5L277.6 131.4L278.2 132L278.8 132L279.4 131.5L280 130.4L280.6 131.6L281.2 131.9L281.8 132.2L282.4 131.9L283 132.1L283.6 132.2L284.2 132L284.8 131.6L285.4 131.2L286 131L286.6 132.2L287.2 132.3L287.8 132L288.4 132.1L289 130.4L289.6 131.7L290.2 130.6L290.8 131.8L291.4 132.3L292 131.6L292.6 131L293.2 130.7L293.8 131.7L294.4 131.4L295 131.7L295.6 131.6L296.2 132.1L296.8 132.2L297.4 132.1L298 131.8L298.6 132.1L299.2 132.1L299.8 132L300.4 132.1L301 130.6L301.6 131.6L302.2 131.6L302.8 132.4L303.4 131.9L304 129.9L304.6 132.1L305.2 132.3L305.8 131.8L306.4 131.7L307 132.2L307.6 131.7L308.2 131.8L308.8 132.3L309.4 130.8L310 130.2L310.6 131.6L311.2 131.8L311.8 132.2L312.4 130.9L313 131.3L313.6 132.1L314.2 131.6L314.8 132.2L315.4 131.4L316 132.4L316.6 131.9L317.2 131.7L317.8 130.1L318.4 132.4L319 131.9L319.6 131.2L320.2 131.4L320.8 130.7L321.4 131.5L322 131.9L322.6 131.8L323.2 130L323.8 131.8L324.4 131.2L325 131.2L325.6 131.8L326.2 131.6L326.8 131.8L327.4 132.1L328 131.7L328.6 132L329.2 132.4L329.8 131.9L330.4 131.8L331 131.5L331.6 131.8L332.2 130.5L332.8 131.4L333.4 131.6L334 131.8L334.6 131.9L335.2 132.1L335.8 131.1L336.4 132.2L337 129.9L337.6 130.2L338.2 131.9L338.8 131.4L339.4 131.1L340 131.3L340.6 130.2L341.2 131.3L341.8 132.1L342.4 132.1L343 132.1L343.6 131.8L344.2 131.7L344.8 131.5L345.4 132.2L346 131.1L346.6 132.3L347.2 130.8L347.8 132.4L348.4 131.9L349 128.7L349.6 130.2L350.2 131.4L350.8 131.8L351.4 131.7L352 132.2L352.6 131.4L353.2 131.9L353.8 131.2L354.4 130.4L355 132.2L355.6 131.5L356.2 132.3L356.8 131.2L357.4 131.6L358 131.6L358.6 131.4L359.2 131.6L359.8 132.3L360.4 131.8L361 131.9L361.6 132.2L362.2 131.7L362.8 130.7L363.4 132.1L364 132.1L364.6 132.2L365.2 131.2L365.8 131.5L366.4 132L367 130.9L367.6 131.9L368.2 131.9L368.8 132.1L369.4 132.2L370 131.9L370.6 132L371.2 130.9L371.8 128.3L372.4 131.2L373 131.5L373.6 129.9L374.2 131.9L374.8 131.9L375.4 130.2L376 131.8L376.6 132.3L377.2 131.9L377.8 131.9L378.4 132L379 131.4L379.6 132.2L380.2 130.8L380.8 131.6L381.4 131.9L382 130L382.6 132.3L383.2 131.4L383.8 132.3L384.4 131.4L385 132L385.6 132.3L386.2 131.2L386.8 131.9L387.4 132.3L388 132.3L388.6 132L389.2 131.4L389.8 131.1L390.4 131.8L391 130.6L391.6 132L392.2 131.9L392.8 132.1L393.4 131.8L394 132L394.6 132.4L395.2 132L395.8 131.1L396.4 130.6L397 130.6L397.6 131.8L398.2 131.9L398.8 131.5L399.4 131.6L400 130.2L400.6 130.8L401.2 130.8L401.8 129.7L402.4 131.4L403 131.2L403.6 132.2L404.2 131.6L404.8 131.2L405.4 131.3L406 132L406.6 131.9L407.2 132.4L407.8 131.1L408.4 131.4L409 132.1L409.6 130.8L410.2 132L410.8 131.5L411.4 132L412 131.9L412.6 130.9L413.2 130.8L413.8 131.2L414.4 131.7L415 130.3L415.6 132L416.2 130.8L416.8 132L417.4 131.9L418 131.6L418.6 132L419.2 132.1L419.8 131.8L420.4 129.6L421 131.3L421.6 131.6L422.2 132.4L422.8 131.4L423.4 131.9L424 131.2L424.6 131.7L425.2 132L425.8 131.2L426.4 131.5L427 131.2L427.6 131.7L428.2 131.8L428.8 130.3L429.4 130.5L430 130.4L430.6 132.1L431.2 132.4L431.8 132.2L432.4 131.2L433 130.4L433.6 131.8L434.2 131.5L434.8 131.5L435.4 131.3L436 132.1L436.6 131.9L437.2 131.7L437.8 131.8L438.4 131.9L439 131.3L439.6 131.8L440.2 132L440.8 130.6L441.4 131.8L442 131.4L442.6 132.2L443.2 130.9L443.8 132L444.4 132.2L445 131.8L445.6 131.2L446.2 131.5L446.8 131.7L447.4 131.9L448 130.1L448.6 131.8L449.2 131.5L449.8 131.2L450.4 132.1L451 131.6L451.6 131.5L452.2 130.3L452.8 132.2L453.4 129.8L454 132.2L454.6 131.8L455.2 131L455.8 131.3L456.4 132L457 131.9L457.6 130.9L458.2 132.3L458.8 132.2L459.4 132.3L460 128.8L460.6 130.7L461.2 131.8L461.8 131.5L462.4 132.1L463 132.1L463.6 131.8L464.2 131.7L464.8 127.7L465.4 131.2L466 131.7L466.6 130.6L467.2 132L467.8 131.6L468.4 132.2L469 132.2L469.6 131.3L470.2 131.9L470.8 130.7L471.4 132L472 131.5L472.6 131.2L473.2 131L473.8 132.1L474.4 132.1L475 131.3L475.6 131.6L476.2 130.6L476.8 131.5L477.4 130.5L478 132.2L478.6 131.5L479.2 131.9L479.8 131.1L480.4 132.2L481 130.4L481.6 131.1L482.2 132.3L482.8 129.4L483.4 132.3L484 130.6L484.6 131.9L485.2 131.9L485.8 130.9L486.4 132.3L487 131.4L487.6 132L488.2 131.7L488.8 131.6L489.4 131L490 131.6L490.6 131.6L491.2 132.2L491.8 132L492.4 132.2L493 132L493.6 131.2L494.2 131.3L494.8 132.1L495.4 131.3L496 132L496.6 132L497.2 131.9L497.8 131.1L498.4 131L499 132L499.6 131.8L500.2 131.7L500.8 132L501.4 132L502 131.4L502.6 131.4L503.2 131.8L503.8 131.7L504.4 132.1L505 131.4L505.6 132.2L506.2 129.9L506.8 132.5L507.4 131.5L508 130.6L508.6 129.8L508.8 135.8 Z" fill="#ea1c3c" stroke="#ea1c3c" stroke-width="0.4"/>
<rect x="104" y="128.5" width="1.1" height="4.5" fill="#ef7080"/>
<rect x="158.9" y="128.5" width="1.1" height="4.5" fill="#ef7080"/>
<rect x="316.1" y="123.5" width="1.1" height="9.5" fill="#ef7080"/>
<rect x="427.1" y="123.5" width="1.1" height="9.5" fill="#ef7080"/>
<rect x="457.4" y="129.5" width="1.1" height="3.5" fill="#ef7080"/>
<path d="M17.8 154.5L17.8 149.8L18.4 150.4L19 150.3L19.6 150.4L20.2 150.6L20.8 150.3L21.4 149L22 150.2L22.6 147.7L23.2 150.1L23.8 147.6L24.4 150.5L25 150.2L25.6 149.5L26.2 150.7L26.8 150.3L27.4 151.1L28 150.2L28.6 149.3L29.2 150.2L29.8 150.2L30.4 150.9L31 149.3L31.6 150L32.2 150.7L32.8 148.2L33.4 150.9L34 147.2L34.6 150.9L35.2 150.9L35.8 150.4L36.4 150.5L37 146L37.6 149.9L38.2 149.7L38.8 149.9L39.4 149.9L40 150.4L40.6 150L41.2 149.5L41.8 150.4L42.4 150L43 150.7L43.6 148.8L44.2 150.9L44.8 150.6L45.4 149.8L46 149.5L46.6 149.6L47.2 149.2L47.8 150.5L48.4 149.5L49 149.5L49.6 148.4L50.2 150L50.8 150.6L51.4 150.7L52 150.3L52.6 150.1L53.2 150.9L53.8 149.9L54.4 150.8L55 149.9L55.6 150.3L56.2 150.6L56.8 148.2L57.4 151.2L58 149.8L58.6 150.4L59.2 149.4L59.8 149.1L60.4 150.7L61 149.6L61.6 150.6L62.2 150.2L62.8 150.4L63.4 150.1L64 150.3L64.6 149L65.2 149.3L65.8 150.4L66.4 150.7L67 150.7L67.6 149.6L68.2 150.1L68.8 150.4L69.4 150.3L70 151L70.6 150.3L71.2 148L71.8 149.9L72.4 149.3L73 150.3L73.6 149.7L74.2 150.2L74.8 148.6L75.4 149.7L76 150.5L76.6 148.5L77.2 149L77.8 150.4L78.4 150.6L79 150.6L79.6 149.6L80.2 150.4L80.8 146.5L81.4 149.4L82 150.3L82.6 150.9L83.2 150.4L83.8 149.9L84.4 150.3L85 149.1L85.6 150.6L86.2 148.5L86.8 149.2L87.4 149.6L88 147.3L88.6 150.6L89.2 150.4L89.8 150.6L90.4 149.9L91 149.1L91.6 151L92.2 150.6L92.8 148L93.4 150.7L94 150.3L94.6 150.6L95.2 150.8L95.8 149.8L96.4 149.9L97 148.7L97.6 150.5L98.2 150.1L98.8 150.7L99.4 150.8L100 150.8L100.6 150.2L101.2 149.2L101.8 146.7L102.4 150.7L103 150.2L103.6 150.5L104.2 148.5L104.8 148.9L105.4 149L106 149.6L106.6 148.5L107.2 150.4L107.8 150.8L108.4 150.5L109 149.6L109.6 148.6L110.2 149.9L110.8 150.2L111.4 150L112 150.3L112.6 149.7L113.2 149.3L113.8 150.8L114.4 150.4L115 150.1L115.6 150L116.2 149.3L116.8 147.3L117.4 149.7L118 149.1L118.6 149.1L119.2 150.1L119.8 150L120.4 151L121 149.4L121.6 150L122.2 150.4L122.8 150.3L123.4 150.6L124 148.7L124.6 150.8L125.2 150.8L125.8 150.6L126.4 150.1L127 151L127.6 150.7L128.2 150.3L128.8 150.2L129.4 147.8L130 150.7L130.6 150.6L131.2 149.6L131.8 149.6L132.4 149.4L133 150.3L133.6 149.2L134.2 150.8L134.8 150.5L135.4 150.1L136 150.6L136.6 149.7L137.2 149.5L137.8 149.5L138.4 150.8L139 150.3L139.6 151L140.2 148.4L140.8 150.8L141.4 149.5L142 150.2L142.6 150.5L143.2 147.3L143.8 150L144.4 149.6L145 150.8L145.6 151L146.2 148.2L146.8 150.8L147.4 148.6L148 150.1L148.6 150.6L149.2 149.3L149.8 147.6L150.4 149.2L151 148.1L151.6 149L152.2 149L152.8 149.9L153.4 149.4L154 150.1L154.6 149.9L155.2 148.6L155.8 150.3L156.4 149.6L157 149.2L157.6 148.7L158.2 150.4L158.8 150.5L159.4 150L160 149.8L160.6 149.9L161.2 150.5L161.8 149.2L162.4 150.5L163 150.5L163.6 151.2L164.2 150.3L164.8 150.6L165.4 150.9L166 150.2L166.6 149.5L167.2 151.1L167.8 150.1L168.4 150.1L169 150.4L169.6 146.9L170.2 145.4L170.8 147.8L171.4 149.6L172 150.4L172.6 150.5L173.2 150.2L173.8 150.3L174.4 150.4L175 149.7L175.6 150.2L176.2 148.4L176.8 150.3L177.4 149.8L178 150L178.6 150.6L179.2 150.5L179.8 148.4L180.4 150.9L181 150.8L181.6 147.4L182.2 147.7L182.8 147.5L183.4 150.8L184 149.3L184.6 149L185.2 147.3L185.8 148.8L186.4 149.9L187 149.7L187.6 150.6L188.2 150L188.8 150L189.4 146.7L190 151L190.6 149.6L191.2 149.9L191.8 150.5L192.4 150.8L193 150.1L193.6 149.2L194.2 150.2L194.8 146.1L195.4 149.9L196 150.2L196.6 149.6L197.2 148.7L197.8 149.6L198.4 149.8L199 147.6L199.6 148.7L200.2 148.3L200.8 150L201.4 149.7L202 150.4L202.6 149.6L203.2 149.8L203.8 149L204.4 150.3L205 150.1L205.6 149.4L206.2 150.4L206.8 149.5L207.4 149.2L208 150.7L208.6 151L209.2 150L209.8 150.2L210.4 149.2L211 149.7L211.6 147.7L212.2 151L212.8 149.3L213.4 149.8L214 148.4L214.6 150.5L215.2 150.3L215.8 150L216.4 150.2L217 150.8L217.6 150.2L218.2 149.9L218.8 151.1L219.4 149.3L220 150.8L220.6 150.5L221.2 149.2L221.8 149.6L222.4 150.4L223 149.3L223.6 150.7L224.2 150.1L224.8 148.9L225.4 150L226 150.5L226.6 149.6L227.2 149.8L227.8 151L228.4 151.2L229 148.9L229.6 149.4L230.2 150.9L230.8 149.6L231.4 148.6L232 150.5L232.6 147.8L233.2 148.6L233.8 149.8L234.4 149.5L235 151L235.6 149L236.2 149.9L236.8 149.9L237.4 150L238 150.3L238.6 149.4L239.2 149L239.8 150.2L240.4 150.1L241 150.5L241.6 150.1L242.2 150.6L242.8 150.1L243.4 150.6L244 147.1L244.6 148.4L245.2 150.7L245.8 149.9L246.4 149.5L247 150.9L247.6 150.8L248.2 149.8L248.8 149.3L249.4 150L250 149.8L250.6 148.8L251.2 150.6L251.8 150.7L252.4 151.1L253 150.2L253.6 150.2L254.2 148.9L254.8 148.1L255.4 150.5L256 151.1L256.6 150.6L257.2 150.9L257.8 150L258.4 150.3L259 150.7L259.6 150.3L260.2 149.7L260.8 150L261.4 149.5L262 150.4L262.6 149.2L263.2 150.6L263.8 149.7L264.4 149.9L265 150.6L265.6 149.4L266.2 149.4L266.8 150.3L267.4 149.2L268 150.6L268.6 149.5L269.2 150.2L269.8 150.8L270.4 146.7L271 150.8L271.6 151.1L272.2 149.3L272.8 148.3L273.4 147.3L274 150.2L274.6 148.5L275.2 150.3L275.8 151L276.4 149.7L277 150.4L277.6 150.7L278.2 148.9L278.8 148.1L279.4 150.7L280 150.3L280.6 147.7L281.2 150.8L281.8 150.1L282.4 149.3L283 150.7L283.6 150.4L284.2 149.8L284.8 150.8L285.4 150.9L286 150.8L286.6 149.7L287.2 150.5L287.8 150.4L288.4 150.4L289 150.5L289.6 148.1L290.2 149.6L290.8 149.5L291.4 150L292 149.6L292.6 149.6L293.2 148.7L293.8 150.1L294.4 150.1L295 150.8L295.6 150.4L296.2 148.7L296.8 149.6L297.4 150.3L298 149.7L298.6 150.5L299.2 150.7L299.8 149.3L300.4 149.7L301 150.4L301.6 150.2L302.2 150.9L302.8 150.9L303.4 150.2L304 150.9L304.6 150.9L305.2 149.2L305.8 150.1L306.4 150.8L307 149.9L307.6 150.8L308.2 148.3L308.8 150.9L309.4 149.3L310 149.6L310.6 150.1L311.2 149.5L311.8 148.5L312.4 150.5L313 150.6L313.6 149L314.2 150L314.8 148.9L315.4 149.2L316 148.6L316.6 150.7L317.2 150.6L317.8 149.7L318.4 150.2L319 148L319.6 150.8L320.2 150.5L320.8 148.6L321.4 149.9L322 149.1L322.6 149.6L323.2 150.3L323.8 150.8L324.4 149.9L325 150.1L325.6 150.2L326.2 150.9L326.8 150L327.4 148.4L328 150.7L328.6 151L329.2 148.9L329.8 149.7L330.4 150.6L331 149.1L331.6 151L332.2 149.8L332.8 149.8L333.4 150.3L334 150.3L334.6 151.1L335.2 148.9L335.8 149.9L336.4 150.3L337 150.9L337.6 150.5L338.2 147.2L338.8 148.9L339.4 149.9L340 150.8L340.6 149.2L341.2 148.3L341.8 149.9L342.4 148.3L343 150.7L343.6 150.4L344.2 150.9L344.8 150.7L345.4 149.8L346 148.3L346.6 150.6L347.2 150.2L347.8 149.9L348.4 149.8L349 150.1L349.6 149.2L350.2 148.3L350.8 150.4L351.4 150.7L352 149.1L352.6 149.9L353.2 146.5L353.8 150L354.4 149.5L355 149.7L355.6 150L356.2 149.1L356.8 149.5L357.4 149.5L358 150.1L358.6 150.6L359.2 149.4L359.8 149.6L360.4 150.5L361 150.5L361.6 149.6L362.2 150.9L362.8 151.1L363.4 150.1L364 150.3L364.6 150.1L365.2 150.6L365.8 151L366.4 149L367 149.6L367.6 150.9L368.2 150.7L368.8 149.4L369.4 148.2L370 150L370.6 149.5L371.2 150.4L371.8 149.4L372.4 149.9L373 146.7L373.6 148.2L374.2 150.6L374.8 149.8L375.4 148.8L376 150.9L376.6 149.4L377.2 149.8L377.8 150.3L378.4 149.7L379 149.7L379.6 148.6L380.2 150.6L380.8 149.9L381.4 149.1L382 149.3L382.6 149.2L383.2 150.8L383.8 148.7L384.4 149.2L385 150.7L385.6 149.7L386.2 149.5L386.8 150.5L387.4 148.2L388 151.1L388.6 150.4L389.2 150.9L389.8 149.7L390.4 150.3L391 149.5L391.6 150.8L392.2 149.7L392.8 145.2L393.4 150.1L394 149.6L394.6 149.1L395.2 148.8L395.8 148.8L396.4 150.4L397 149.4L397.6 150.2L398.2 150.4L398.8 150.1L399.4 149L400 149.8L400.6 149.2L401.2 150.3L401.8 146.2L402.4 149.9L403 149.7L403.6 149.2L404.2 149.8L404.8 149.5L405.4 150.7L406 148.6L406.6 150.9L407.2 149.4L407.8 149.9L408.4 149.1L409 150.2L409.6 150.2L410.2 148.2L410.8 150.2L411.4 150L412 148L412.6 150.5L413.2 149.1L413.8 148.8L414.4 150.9L415 149.4L415.6 147.7L416.2 150L416.8 151.2L417.4 149.7L418 150L418.6 150.3L419.2 150.1L419.8 149.3L420.4 149.9L421 149L421.6 150.5L422.2 149.5L422.8 149.9L423.4 150.6L424 150.9L424.6 149L425.2 149.5L425.8 150.7L426.4 150.6L427 150.8L427.6 150.2L428.2 148.6L428.8 150L429.4 149.9L430 150.3L430.6 149.5L431.2 150.7L431.8 150.6L432.4 149.7L433 150.8L433.6 150.1L434.2 150.6L434.8 150.1L435.4 147.1L436 149.7L436.6 148.4L437.2 148L437.8 150.3L438.4 149.2L439 151L439.6 150.7L440.2 149.1L440.8 148.7L441.4 149.8L442 149.3L442.6 149.6L443.2 149.8L443.8 149.6L444.4 150.3L445 150L445.6 149.8L446.2 149.4L446.8 150.3L447.4 149.7L448 149.7L448.6 149.7L449.2 150.2L449.8 148.6L450.4 145.2L451 151.1L451.6 149.1L452.2 150.8L452.8 150.6L453.4 150.8L454 146.3L454.6 150.6L455.2 150.1L455.8 150.5L456.4 148.8L457 150.9L457.6 149.1L458.2 149.9L458.8 148.1L459.4 149.8L460 150.1L460.6 150.8L461.2 150.5L461.8 150.1L462.4 149.3L463 150L463.6 150.8L464.2 150L464.8 148.4L465.4 148.5L466 149.4L466.6 149.2L467.2 146.1L467.8 150.2L468.4 149.5L469 149.8L469.6 150.3L470.2 149.2L470.8 150.7L471.4 150.2L472 149.4L472.6 149L473.2 147L473.8 148.7L474.4 150.5L475 148.2L475.6 150.4L476.2 151L476.8 151L477.4 149.8L478 147.5L478.6 150.2L479.2 150.9L479.8 148.1L480.4 150.5L481 150.7L481.6 149.5L482.2 149.8L482.8 149.3L483.4 150.4L484 147.9L484.6 148.9L485.2 150.1L485.8 150.8L486.4 150.4L487 149.6L487.6 149.3L488.2 147.6L488.8 149.8L489.4 150.4L490 148.9L490.6 150L491.2 148.9L491.8 150.3L492.4 148.1L493 148.8L493.6 149.1L494.2 150.2L494.8 150.2L495.4 150L496 150.9L496.6 150.8L497.2 150.4L497.8 150.4L498.4 150.4L499 150.2L499.6 149.6L500.2 149.8L500.8 149.9L501.4 150.7L502 148.7L502.6 149L503.2 150.2L503.8 147.9L504.4 149.4L505 148.4L505.6 150.3L506.2 149L506.8 150.7L507.4 149.9L508 151L508.6 149.6L508.8 154.5 Z" fill="#ea1c3c" stroke="#ea1c3c" stroke-width="0.4"/>
<rect x="228.8" y="148.2" width="1.1" height="3.5" fill="#ef7080"/>
<rect x="158.4" y="147.2" width="1.1" height="4.5" fill="#ef7080"/>
<rect x="427.1" y="142.2" width="1.1" height="9.5" fill="#ef7080"/>
<rect x="232.4" y="147.2" width="1.1" height="4.5" fill="#ef7080"/>
<rect x="388.4" y="147.2" width="1.1" height="4.5" fill="#ef7080"/>
<rect x="393.4" y="147.7" width="1.1" height="4" fill="#ef7080"/>
<path d="M17.8 173.6L17.8 169.7L18.4 170.1L19 168.7L19.6 170L20.2 170L20.8 169.3L21.4 168.7L22 169.2L22.6 169.4L23.2 169.9L23.8 169.2L24.4 169.1L25 169.8L25.6 170.2L26.2 169.2L26.8 169L27.4 169.2L28 170L28.6 169.6L29.2 169.2L29.8 169.8L30.4 170L31 169.2L31.6 169.4L32.2 169.8L32.8 169.5L33.4 169.1L34 169.3L34.6 168.5L35.2 169.5L35.8 169.7L36.4 169.3L37 168.1L37.6 169.9L38.2 169.7L38.8 170L39.4 169.8L40 170L40.6 168L41.2 168.5L41.8 169.4L42.4 168.9L43 170.2L43.6 169.5L44.2 169L44.8 169.5L45.4 170.1L46 168.9L46.6 169.8L47.2 170.2L47.8 168.9L48.4 169.6L49 170.1L49.6 169.7L50.2 169.3L50.8 169.5L51.4 170.2L52 170.2L52.6 170L53.2 168.1L53.8 169.2L54.4 169.5L55 169.7L55.6 167.7L56.2 169.6L56.8 169.3L57.4 169L58 169.6L58.6 169.1L59.2 168.8L59.8 169.9L60.4 168.5L61 168.5L61.6 169L62.2 169.8L62.8 169.4L63.4 169.8L64 167.1L64.6 169.5L65.2 169.9L65.8 169.3L66.4 170.2L67 170L67.6 169.2L68.2 169.3L68.8 168.4L69.4 169.3L70 169.3L70.6 169.4L71.2 169.5L71.8 169.9L72.4 169.4L73 169.9L73.6 169L74.2 170L74.8 169.4L75.4 169.2L76 167.6L76.6 169.3L77.2 168.6L77.8 169.7L78.4 169.9L79 169.4L79.6 169.1L80.2 169.6L80.8 168.8L81.4 169.4L82 169.3L82.6 168.7L83.2 169.8L83.8 169.4L84.4 168.8L85 169.7L85.6 169.8L86.2 170L86.8 169L87.4 169.9L88 169.5L88.6 170.3L89.2 169.3L89.8 169.2L90.4 169.8L91 169.9L91.6 169.3L92.2 169.6L92.8 169.4L93.4 169.7L94 169.4L94.6 169.7L95.2 169.7L95.8 169.7L96.4 168L97 167.8L97.6 168.5L98.2 168.6L98.8 169.6L99.4 170.1L100 168.4L100.6 168.5L101.2 169.9L101.8 170.2L102.4 170L103 167.6L103.6 170L104.2 169.3L104.8 169.6L105.4 168.7L106 170.2L106.6 169L107.2 169.1L107.8 169.8L108.4 168.5L109 170L109.6 169.8L110.2 169.7L110.8 167.2L111.4 169.9L112 169.8L112.6 170.3L113.2 168.6L113.8 169.8L114.4 169.3L115 170.3L115.6 170L116.2 169.3L116.8 169.7L117.4 169.8L118 169.5L118.6 169.7L119.2 169.7L119.8 170L120.4 169.2L121 169.6L121.6 170.2L122.2 170L122.8 169L123.4 169.9L124 170.1L124.6 169L125.2 169.9L125.8 169.1L126.4 169.5L127 169.5L127.6 170L128.2 169.4L128.8 169.7L129.4 169.8L130 169L130.6 169.5L131.2 169.9L131.8 170.1L132.4 170.1L133 168L133.6 169.9L134.2 169.8L134.8 169.3L135.4 169.4L136 169.1L136.6 169.1L137.2 170L137.8 169.7L138.4 168.4L139 169.6L139.6 169.9L140.2 169.6L140.8 169.6L141.4 169.7L142 169.9L142.6 169L143.2 169.2L143.8 169.8L144.4 168.9L145 169.1L145.6 167.9L146.2 169.5L146.8 169.4L147.4 169.1L148 169.8L148.6 168.8L149.2 169.7L149.8 169.5L150.4 169.9L151 170L151.6 168.9L152.2 170.2L152.8 167.8L153.4 168.4L154 169.6L154.6 169.7L155.2 169.1L155.8 169L156.4 169.2L157 168.7L157.6 169.2L158.2 169.9L158.8 168.5L159.4 169.2L160 169.7L160.6 169.4L161.2 168.7L161.8 168L162.4 169.5L163 167.9L163.6 169.8L164.2 169.9L164.8 169.2L165.4 169.5L166 164.4L166.6 169.8L167.2 169.5L167.8 169.1L168.4 169.7L169 170L169.6 170L170.2 169.4L170.8 169.2L171.4 169.5L172 170.2L172.6 169.4L173.2 169.2L173.8 167.8L174.4 168.4L175 168.9L175.6 170.2L176.2 169.5L176.8 169.3L177.4 169L178 169.3L178.6 170L179.2 169.5L179.8 168.1L180.4 169.5L181 169.2L181.6 169.2L182.2 169.3L182.8 170.3L183.4 169.1L184 169L184.6 168.6L185.2 169.8L185.8 168.6L186.4 170.2L187 168.5L187.6 167.4L188.2 169.9L188.8 169.1L189.4 169.4L190 167.7L190.6 169.2L191.2 167.1L191.8 169.3L192.4 169.6L193 169.2L193.6 169.5L194.2 168.9L194.8 168L195.4 169.8L196 170L196.6 169.2L197.2 169.6L197.8 170.2L198.4 170.1L199 169.4L199.6 169.6L200.2 169.6L200.8 169.3L201.4 169.3L202 169.3L202.6 169.3L203.2 169.2L203.8 169L204.4 169.7L205 167.6L205.6 170L206.2 170.1L206.8 169.8L207.4 169.6L208 169.9L208.6 169.8L209.2 168L209.8 169.2L210.4 170.2L211 168.9L211.6 168.9L212.2 168.6L212.8 168.2L213.4 168.9L214 169.3L214.6 170L215.2 168.8L215.8 169.7L216.4 168.9L217 169.6L217.6 168.8L218.2 169.5L218.8 169.7L219.4 170L220 169.8L220.6 169L221.2 169.8L221.8 168.7L222.4 169.9L223 169.2L223.6 169.5L224.2 170.2L224.8 169.4L225.4 168.9L226 169.4L226.6 170.2L227.2 169.2L227.8 169.2L228.4 168.6L229 169.9L229.6 170L230.2 170L230.8 168.6L231.4 169.9L232 169.9L232.6 168.9L233.2 169.9L233.8 170L234.4 168.9L235 169.9L235.6 168.1L236.2 169L236.8 170L237.4 168.8L238 169.1L238.6 169.6L239.2 169.7L239.8 169.7L240.4 168.7L241 169.7L241.6 170.1L242.2 168.8L242.8 169.9L243.4 169.6L244 169.9L244.6 169.1L245.2 169.9L245.8 169.8L246.4 169.8L247 169.9L247.6 169.6L248.2 168.2L248.8 169.7L249.4 169.4L250 169.9L250.6 169.4L251.2 169.7L251.8 168.5L252.4 168.2L253 168.9L253.6 169.7L254.2 169.4L254.8 169.4L255.4 169.1L256 169.5L256.6 168.7L257.2 169.4L257.8 169.9L258.4 168.8L259 169.8L259.6 170.1L260.2 169.8L260.8 168.9L261.4 170L262 170L262.6 169.4L263.2 169.8L263.8 169.3L264.4 168.6L265 169.7L265.6 168.8L266.2 166.2L266.8 169.1L267.4 169L268 170.1L268.6 169.5L269.2 169.4L269.8 170L270.4 168.8L271 170L271.6 168.4L272.2 169.7L272.8 169.2L273.4 169.9L274 169.7L274.6 169.6L275.2 169.2L275.8 169.3L276.4 169.7L277 169.8L277.6 169.7L278.2 169.3L278.8 168.4L279.4 169.6L280 169.6L280.6 169.1L281.2 170L281.8 168.5L282.4 169.6L283 168.2L283.6 169.3L284.2 169.7L284.8 170.1L285.4 170.1L286 170L286.6 169.6L287.2 169.9L287.8 169.3L288.4 170.2L289 168.5L289.6 169.5L290.2 170L290.8 170.2L291.4 169.6L292 168.7L292.6 170L293.2 169.9L293.8 169.9L294.4 169.5L295 169.5L295.6 169.2L296.2 169.9L296.8 168.7L297.4 168.3L298 169.6L298.6 169.3L299.2 170.1L299.8 169.2L300.4 169.1L301 168.4L301.6 170.2L302.2 169.8L302.8 168.6L303.4 169.7L304 169.1L304.6 170L305.2 169.6L305.8 169L306.4 169.7L307 169.8L307.6 167.8L308.2 169.6L308.8 168.5L309.4 169.6L310 169.7L310.6 169.4L311.2 169.7L311.8 169.1L312.4 169.6L313 169.7L313.6 168.9L314.2 168.6L314.8 169.4L315.4 169.8L316 167.1L316.6 169.7L317.2 169.1L317.8 170.1L318.4 169.2L319 169.6L319.6 169.7L320.2 167.8L320.8 170.2L321.4 170.2L322 170.1L322.6 169.6L323.2 168.6L323.8 169.2L324.4 169L325 169.1L325.6 170.2L326.2 169.3L326.8 168.9L327.4 168.3L328 169.4L328.6 168.8L329.2 169.9L329.8 168.8L330.4 167.8L331 170.1L331.6 170.2L332.2 169.3L332.8 169.2L333.4 169.9L334 169.1L334.6 169L335.2 169.1L335.8 169L336.4 169.3L337 169.9L337.6 169.2L338.2 170L338.8 169.3L339.4 169.5L340 168.1L340.6 169.8L341.2 169.7L341.8 169.3L342.4 169.4L343 169.3L343.6 169.5L344.2 168.2L344.8 170L345.4 169.4L346 169.1L346.6 169.6L347.2 170.1L347.8 170L348.4 169.4L349 167.2L349.6 169.6L350.2 169.4L350.8 169.5L351.4 169.3L352 169.8L352.6 169.3L353.2 169.1L353.8 169.7L354.4 168.7L355 169.2L355.6 168L356.2 170.1L356.8 169.6L357.4 168.7L358 169.8L358.6 168.7L359.2 168.5L359.8 170L360.4 168.9L361 169.1L361.6 170L362.2 169.9L362.8 169.9L363.4 170L364 169.8L364.6 170L365.2 169.8L365.8 169.6L366.4 169.2L367 169.2L367.6 169.8L368.2 169.8L368.8 168.7L369.4 168.8L370 169.4L370.6 169.7L371.2 170.1L371.8 169.4L372.4 169.8L373 168.8L373.6 169.7L374.2 169.9L374.8 169.8L375.4 168.3L376 169.2L376.6 167.6L377.2 169.7L377.8 168.4L378.4 169.8L379 169.7L379.6 168.5L380.2 169.7L380.8 170L381.4 169.9L382 168.1L382.6 169.3L383.2 169.6L383.8 169L384.4 168.3L385 169.7L385.6 167.8L386.2 165.5L386.8 170L387.4 168.7L388 169.8L388.6 169.5L389.2 169.3L389.8 169.2L390.4 169.9L391 169.7L391.6 169.2L392.2 167.7L392.8 170L393.4 169.6L394 168.4L394.6 170.1L395.2 168.8L395.8 169.3L396.4 169.8L397 169.9L397.6 168.9L398.2 169.4L398.8 169.4L399.4 166.8L400 169.1L400.6 169.8L401.2 168.8L401.8 169.5L402.4 169.8L403 169.1L403.6 168.6L404.2 168.6L404.8 169.3L405.4 169.2L406 169.3L406.6 169.6L407.2 169.7L407.8 169.8L408.4 169.1L409 169.4L409.6 169.3L410.2 167.6L410.8 168.9L411.4 168.4L412 168.5L412.6 169.7L413.2 169.1L413.8 169.2L414.4 169.4L415 166.7L415.6 169.2L416.2 169.6L416.8 168.5L417.4 167.1L418 169L418.6 169.2L419.2 169.2L419.8 168.6L420.4 169.6L421 170.1L421.6 169.6L422.2 170L422.8 169.7L423.4 170L424 169.8L424.6 169.8L425.2 169.6L425.8 169.9L426.4 168.6L427 168.4L427.6 169.2L428.2 168.4L428.8 169L429.4 169.4L430 170L430.6 169.8L431.2 168.5L431.8 169.8L432.4 169.6L433 168.5L433.6 168.8L434.2 168.8L434.8 169.4L435.4 169.3L436 168.7L436.6 169.6L437.2 169.9L437.8 169.8L438.4 169L439 167.8L439.6 169.2L440.2 169.2L440.8 168.3L441.4 168.9L442 169.6L442.6 169.5L443.2 169.3L443.8 167.5L444.4 170L445 169.8L445.6 169.8L446.2 169.8L446.8 169.8L447.4 169.8L448 169.2L448.6 169L449.2 169.3L449.8 169.5L450.4 169.3L451 168.9L451.6 170L452.2 169.6L452.8 169.7L453.4 169.5L454 169.1L454.6 169.9L455.2 168.9L455.8 169.3L456.4 169.3L457 168.9L457.6 169.9L458.2 169.9L458.8 169.6L459.4 168.2L460 169.5L460.6 169.1L461.2 169.5L461.8 169.4L462.4 169.1L463 169.9L463.6 168.5L464.2 168.4L464.8 169.1L465.4 169.1L466 169.8L466.6 168.1L467.2 169.2L467.8 168.9L468.4 168L469 168.3L469.6 168.8L470.2 170L470.8 168.8L471.4 168.7L472 168.3L472.6 168.9L473.2 169.8L473.8 169.3L474.4 169.7L475 170L475.6 169.5L476.2 168.3L476.8 168.9L477.4 170.1L478 168.7L478.6 169.2L479.2 169.1L479.8 168.9L480.4 170.2L481 168.2L481.6 170L482.2 169L482.8 169L483.4 169.9L484 170.2L484.6 168.2L485.2 169.5L485.8 168.9L486.4 167.1L487 169.5L487.6 169.7L488.2 169.9L488.8 168.7L489.4 168.9L490 168.5L490.6 169.1L491.2 169.3L491.8 170.1L492.4 169.1L493 169.2L493.6 169.2L494.2 169.9L494.8 169.7L495.4 169.3L496 169.6L496.6 170L497.2 170.1L497.8 166.5L498.4 168L499 169.3L499.6 169.7L500.2 169.2L500.8 170.1L501.4 169.6L502 169.3L502.6 169.8L503.2 170.2L503.8 168.9L504.4 169.4L505 169.8L505.6 169.1L506.2 166.9L506.8 169.9L507.4 169.6L508 170.2L508.6 169.5L508.8 173.6 Z" fill="#ea1c3c" stroke="#ea1c3c" stroke-width="0.4"/>
<rect x="59.5" y="166.3" width="1.1" height="4.5" fill="#ef7080"/>
<rect x="228.8" y="160.3" width="1.1" height="10.5" fill="#ef7080"/>
<rect x="422.6" y="161.3" width="1.1" height="9.5" fill="#ef7080"/>
<rect x="427.1" y="162.3" width="1.1" height="8.5" fill="#ef7080"/>
<rect x="129.4" y="167.3" width="1.1" height="3.5" fill="#ef7080"/>
<rect x="505.4" y="167.3" width="1.1" height="3.5" fill="#ef7080"/>
<path d="M17.8 186L17.8 180.5L18.3 180.9L18.8 181.4L19.3 181.4L19.8 181.6L20.3 181.4L20.8 181.3L21.3 181.4L21.8 180.8L22.3 178.7L22.8 181.5L23.3 180.5L23.8 180.8L24.3 180.8L24.8 180.4L25.3 181.4L25.8 180.1L26.3 181.4L26.8 179.7L27.3 178.4L27.8 181.2L28.3 181L28.8 178.7L29.3 181.6L29.8 180.4L30.3 181L30.8 180.2L31.3 181.6L31.8 179.8L32.3 180.6L32.8 179.7L33.3 179.8L33.8 181L34.3 181.5L34.8 180.3L35.3 181.5L35.8 181.3L36.3 181.3L36.8 180.1L37.3 181.4L37.8 180.8L38.3 181.1L38.8 180.9L39.3 181.5L39.8 179.4L40.3 181.1L40.8 181.4L41.3 181.4L41.8 180.4L42.3 179.5L42.8 181.6L43.3 181L43.8 179.7L44.3 181.3L44.8 181L45.3 181.2L45.8 179.8L46.3 179.4L46.8 181.3L47.3 180.9L47.8 179.6L48.3 180.9L48.8 179.6L49.3 179.6L49.8 181.4L50.3 180.8L50.8 180.6L51.3 181.5L51.8 181.6L52.3 179.9L52.8 181.3L53.3 181.1L53.8 179.3L54.3 180.1L54.8 179.9L55.3 180.6L55.8 181.2L56.3 180.6L56.8 181.3L57.3 181.3L57.8 181.5L58.3 181.6L58.8 180.6L59.3 180.1L59.8 179.9L60.3 181L60.8 180.5L61.3 181.5L61.8 179.9L62.3 177.9L62.8 181L63.3 181.5L63.8 181.2L64.3 180.3L64.8 181.5L65.3 181.5L65.8 178.5L66.3 181L66.8 180.8L67.3 181.4L67.8 180.9L68.3 180.9L68.8 180.6L69.3 181.2L69.8 180.7L70.3 180.1L70.8 179.8L71.3 181.5L71.8 181.4L72.3 180.3L72.8 180.6L73.3 181.6L73.8 180.1L74.3 180.5L74.8 180.8L75.3 181.5L75.8 180.7L76.3 181.6L76.8 181.4L77.3 180.1L77.8 180.1L78.3 180.3L78.8 181.5L79.3 181.5L79.8 181.5L80.3 181.5L80.8 180.5L81.3 181.4L81.8 181.6L82.3 180.5L82.8 181.1L83.3 179.6L83.8 180.2L84.3 181.2L84.8 180.4L85.3 179.7L85.8 181.4L86.3 180.6L86.8 179.9L87.3 178.5L87.8 180.4L88.3 178.9L88.8 180.8L89.3 180.8L89.8 181L90.3 179.9L90.8 179L91.3 180.8L91.8 181.5L92.3 181.4L92.8 180.5L93.3 181L93.8 181.5L94.3 179.5L94.8 181.4L95.3 178.6L95.8 181.1L96.3 181.5L96.8 180.4L97.3 179.1L97.8 181.3L98.3 181.2L98.8 181.1L99.3 179.2L99.8 181.4L100.3 181.4L100.8 181.4L101.3 181.2L101.8 181.2L102.3 180.8L102.8 180.4L103.3 180.1L103.8 180.9L104.3 181L104.8 180.2L105.3 181.5L105.8 179.6L106.3 181L106.8 180.7L107.3 178.9L107.8 179.9L108.3 181L108.8 181.2L109.3 180.4L109.8 179.6L110.3 180.8L110.8 180.8L111.3 178.4L111.8 180.2L112.3 179.4L112.8 181.6L113.3 181.5L113.8 180.7L114.3 180.4L114.8 181.3L115.3 180.7L115.8 181.5L116.3 179.1L116.8 181.2L117.3 180.9L117.8 180.6L118.3 181L118.8 180.4L119.3 181.6L119.8 181.5L120.3 181.4L120.8 178L121.3 180.5L121.8 181.2L122.3 180.9L122.8 181L123.3 181.3L123.8 181.4L124.3 181.3L124.8 181.6L125.3 181.5L125.8 180L126.3 180.9L126.8 181.5L127.3 181.5L127.8 179.8L128.3 181.3L128.8 181.3L129.3 179.5L129.8 180.9L130.3 179.7L130.8 180L131.3 180.7L131.8 181.4L132.3 181.5L132.8 179.9L133.3 179.3L133.8 181.3L134.3 181.5L134.8 181L135.3 181.3L135.8 180.9L136.3 180.5L136.8 178.2L137.3 180.4L137.8 180.7L138.3 181.2L138.8 180.7L139.3 180.7L139.8 181.5L140.3 181.2L140.8 181.5L141.3 181.4L141.8 180.7L142.3 179.4L142.8 180.3L143.3 181.3L143.8 180.5L144.3 180.7L144.8 177.7L145.3 181.2L145.8 180.7L146.3 181.6L146.8 181.2L147.3 181.2L147.8 181.3L148.3 181.4L148.8 179.1L149.3 181.4L149.8 180.5L150.3 181L150.8 181.2L151.3 180.5L151.8 180.8L152.3 180.6L152.8 180.2L153.3 180.8L153.8 181.4L154.3 178.5L154.8 180.9L155.3 178.9L155.8 181.3L156.3 181.1L156.8 181.4L157.3 180.1L157.8 181.1L158.3 181L158.8 181L159.3 181.5L159.8 178.9L160.3 181.5L160.8 180.5L161.3 180.8L161.8 180.3L162.3 181.5L162.8 181L163.3 179.2L163.8 180.5L164.3 181.1L164.8 181.6L165.3 181L165.8 180.9L166.3 180.8L166.8 181.1L167.3 180.5L167.8 179.1L168.3 178.3L168.8 180.7L169.3 181.3L169.8 181.4L170.3 181.4L170.8 180.6L171.3 177.8L171.8 180.9L172.3 180.3L172.8 181.1L173.3 180.7L173.8 178.5L174.3 181.6L174.8 179.8L175.3 181.6L175.8 176.4L176.3 181.3L176.8 181.6L177.3 180.1L177.8 181.2L178.3 180.3L178.8 181.1L179.3 181L179.8 180.3L180.3 180.7L180.8 180.8L181.3 181.6L181.8 181.2L182.3 180.8L182.8 178.9L183.3 180.9L183.8 179.5L184.3 181.4L184.8 180.5L185.3 179.4L185.8 181.3L186.3 181L186.8 176.9L187.3 181.3L187.8 181.6L188.3 181.3L188.8 181.4L189.3 179.8L189.8 179.3L190.3 180.8L190.8 178.2L191.3 179.8L191.8 178.7L192.3 181.2L192.8 179L193.3 179.3L193.8 181.4L194.3 181.5L194.8 181.2L195.3 181.2L195.8 181.6L196.3 181.1L196.8 179.6L197.3 180.2L197.8 181.2L198.3 179.9L198.8 181.3L199.3 180.6L199.8 180.6L200.3 181L200.8 181.3L201.3 181L201.8 177.7L202.3 180.3L202.8 181L203.3 181.3L203.8 181.1L204.3 181.4L204.8 181.2L205.3 181.5L205.8 181.2L206.3 181.2L206.8 181.1L207.3 180.9L207.8 180.5L208.3 181.2L208.8 181.3L209.3 179.3L209.8 181.5L210.3 180.5L210.8 181.4L211.3 181.3L211.8 181.2L212.3 181.2L212.8 178.8L213.3 181L213.8 180.8L214.3 180.3L214.8 181.6L215.3 179.1L215.8 181.4L216.3 180.9L216.8 181.1L217.3 179.9L217.8 181.1L218.3 179.6L218.8 181.2L219.3 180.4L219.8 181.4L220.3 181L220.8 181L221.3 179.5L221.8 179.3L222.3 181.2L222.8 181.3L223.3 181L223.8 179.9L224.3 181.5L224.8 178.3L225.3 179.9L225.8 180L226.3 180.8L226.8 181.1L227.3 176.7L227.8 179.7L228.3 179.9L228.8 181.4L229.3 179L229.8 181.4L230.3 181.5L230.8 180.2L231.3 179.2L231.8 181.5L232.3 181.4L232.8 180.6L233.3 179.8L233.8 179L234.3 180.6L234.8 181.2L235.3 181.1L235.8 181.5L236.3 179.7L236.8 180.5L237.3 181.3L237.8 181.3L238.3 179.5L238.8 179L239.3 181.1L239.8 179.9L240.3 176.1L240.8 181.6L241.3 178.8L241.8 177.9L242.3 180.3L242.8 179.3L243.3 179.2L243.8 181.3L244.3 181.6L244.8 180.8L245.3 180.7L245.8 180.5L246.3 181.3L246.8 181.4L247.3 180.9L247.8 181.4L248.3 180.9L248.8 181.5L249.3 181.3L249.8 181.2L250.3 180.8L250.8 181.5L251.3 180.4L251.8 179.2L252.3 178.7L252.8 181L253.3 180.5L253.8 180.9L254.3 181L254.8 177.3L255.3 180.9L255.8 178L256.3 181.5L256.8 180.2L257.3 180.6L257.8 181.2L258.3 178.6L258.8 181.5L259.3 181.1L259.8 181.2L260.3 180.2L260.8 180.5L261.3 179.1L261.8 181.4L262.3 181.6L262.8 180.8L263.3 179.3L263.8 181.6L264.3 181L264.8 181.6L265.3 181.4L265.8 181.1L266.3 181.5L266.8 181.1L267.3 181.3L267.8 178.9L268.3 180.2L268.8 181.1L269.3 181.2L269.8 181.3L270.3 180.8L270.8 180L271.3 181.6L271.8 179.9L272.3 181.5L272.8 180.8L273.3 181.4L273.8 178.9L274.3 181.6L274.8 181.3L275.3 181L275.8 181.2L276.3 180.9L276.8 181L277.3 181.4L277.8 180.9L278.3 180.4L278.8 181.3L279.3 180L279.8 181.1L280.3 180.7L280.8 177.9L281.3 180.6L281.8 180.3L282.3 181.4L282.8 181.6L283.3 181.5L283.8 180.5L284.3 180.9L284.8 180.7L285.3 180.6L285.8 181.5L286.3 179.9L286.8 181.6L287.3 180L287.8 179.1L288.3 181.6L288.8 181.6L289.3 179L289.8 180.4L290.3 180.8L290.8 180L291.3 180.5L291.8 179.3L292.3 179.6L292.8 180.7L293.3 178.9L293.8 181.4L294.3 180.9L294.8 180.9L295.3 181.4L295.8 180.9L296.3 180.7L296.8 181.3L297.3 178L297.8 181.3L298.3 181.1L298.8 181.5L299.3 181.5L299.8 180.7L300.3 181.3L300.8 179.5L301.3 181.3L301.8 181.4L302.3 181L302.8 179.7L303.3 181.4L303.8 180.3L304.3 181.4L304.8 181.1L305.3 181L305.8 177.6L306.3 181.5L306.8 179.8L307.3 181.4L307.8 178.7L308.3 180.1L308.8 181L309.3 179.4L309.8 181.2L310.3 181.1L310.8 180L311.3 180.5L311.8 181.6L312.3 180.6L312.8 179.6L313.3 180.5L313.8 180.8L314.3 181.3L314.8 181.2L315.3 181.2L315.8 180.7L316.3 181L316.8 181.5L317.3 180.8L317.8 177.2L318.3 181.6L318.8 181.4L319.3 181.3L319.8 181.5L320.3 181.3L320.8 180.8L321.3 181L321.8 180.9L322.3 178.3L322.8 181.1L323.3 181.2L323.8 181.3L324.3 178.6L324.8 181.5L325.3 180.2L325.8 180.6L326.3 180.8L326.8 181.4L327.3 181.5L327.8 181.5L328.3 181.4L328.8 180.7L329.3 178.6L329.8 180.8L330.3 180.4L330.8 180.1L331.3 180.8L331.8 180.8L332.3 180.7L332.8 181.5L333.3 180.1L333.8 178.2L334.3 181.1L334.8 181.3L335.3 180.5L335.8 181.4L336.3 181L336.8 180.8L337.3 181.4L337.8 179.1L338.3 181.4L338.8 179.9L339.3 180.3L339.8 180L340.3 181.3L340.8 181.3L341.3 181.6L341.8 181.3L342.3 181.1L342.8 181.1L343.3 181.5L343.8 178.7L344.3 179.8L344.8 180.5L345.3 181.4L345.8 180.5L346.3 175.5L346.8 180.1L347.3 181.3L347.8 180.8L348.3 180.5L348.8 181.4L349.3 181L349.8 178.3L350.3 181.5L350.8 180.9L351.3 180.6L351.8 180.5L352.3 180.3L352.8 181.3L353.3 180.9L353.8 181L354.3 179.9L354.8 179.3L355.3 181L355.8 179.8L356.3 181.4L356.8 180.7L357.3 180.3L357.8 181L358.3 180.4L358.8 180.2L359.3 180L359.8 178.3L360.3 181.5L360.8 179.8L361.3 181.5L361.8 181.3L362.3 181.4L362.8 180.5L363.3 180.6L363.8 181.5L364.3 181L364.8 180.7L365.3 181.5L365.8 180.6L366.3 180.1L366.8 180.2L367.3 180.5L367.8 181.1L368.3 181.2L368.8 181.2L369.3 179.9L369.8 181.2L370.3 179.3L370.8 180.8L371.3 181.3L371.8 180.5L372.3 180.6L372.8 181.3L373.3 178.7L373.8 181.1L374.3 180.3L374.8 180.2L375.3 180.5L375.8 179.3L376.3 180.4L376.8 180.9L377.3 181.5L377.8 179.5L378.3 179.9L378.8 180.5L379.3 180.8L379.8 180.3L380.3 181.4L380.8 179.8L381.3 181L381.8 181.4L382.3 181.6L382.8 181.6L383.3 180.1L383.8 178.7L384.3 181.5L384.8 180.8L385.3 180.6L385.8 180.3L386.3 180L386.8 178.3L387.3 181.2L387.8 179.5L388.3 180.8L388.8 180.8L389.3 180.6L389.8 181.1L390.3 179.7L390.8 180.4L391.3 180.6L391.8 181.3L392.3 181.5L392.8 181.3L393.3 181.4L393.8 181.5L394.3 181.5L394.8 179L395.3 180.7L395.8 181.6L396.3 181.2L396.8 179.9L397.3 181L397.8 180.6L398.3 177.6L398.8 180.7L399.3 181.5L399.8 181.3L400.3 180.9L400.8 181L401.3 181.2L401.8 181.2L402.3 180.9L402.8 181.3L403.3 181.1L403.8 181.4L404.3 180.5L404.8 180.5L405.3 180.7L405.8 179.3L406.3 181.2L406.8 178.8L407.3 181.2L407.8 178.5L408.3 181.3L408.8 181.5L409.3 180.6L409.8 181.1L410.3 181.3L410.8 181.2L411.3 180L411.8 181L412.3 181.5L412.8 180.8L413.3 180.3L413.8 181L414.3 181.2L414.8 181.2L415.3 180.8L415.8 181.3L416.3 180L416.8 181.4L417.3 181.4L417.8 179.6L418.3 181L418.8 179L419.3 179.2L419.8 181L420.3 181.2L420.8 180.8L421.3 180.9L421.8 181L422.3 181.4L422.8 181.3L423.3 179.9L423.8 180.6L424.3 179.4L424.8 181.2L425.3 181.1L425.8 181.1L426.3 180.9L426.8 181.1L427.3 181.1L427.8 181.6L428.3 181.2L428.8 180.7L429.3 180.9L429.8 180.7L430.3 180.8L430.8 181.1L431.3 180.9L431.8 180.4L432.3 180.1L432.8 181.2L433.3 181.1L433.8 180.8L434.3 174.7L434.8 179.3L435.3 179.4L435.8 181.4L436.3 181L436.8 181.3L437.3 181L437.8 181.5L438.3 180.4L438.8 180.6L439.3 181.2L439.8 181.6L440.3 181.1L440.8 181.5L441.3 180.9L441.8 180.2L442.3 181.2L442.8 181.6L443.3 181.1L443.8 181.3L444.3 179L444.8 181.2L445.3 181.6L445.8 179.6L446.3 180.4L446.8 181.3L447.3 179.3L447.8 181.5L448.3 181.4L448.8 179.9L449.3 181.5L449.8 180.2L450.3 180.1L450.8 180.8L451.3 181.1L451.8 181.5L452.3 180.8L452.8 178.4L453.3 181.1L453.8 181.4L454.3 180.8L454.8 179.8L455.3 181.4L455.8 181.4L456.3 181.3L456.8 181.2L457.3 181L457.8 180L458.3 181L458.8 179.5L459.3 180.5L459.8 179L460.3 180.4L460.8 180.7L461.3 179.2L461.8 180L462.3 181.4L462.8 180.9L463.3 180.4L463.8 180.8L464.3 181.5L464.8 181.5L465.3 181.1L465.8 178.8L466.3 181.3L466.8 180.9L467.3 180.4L467.8 181.4L468.3 180.7L468.8 180.7L469.3 181.5L469.8 181.1L470.3 181.3L470.8 181.3L471.3 181.3L471.8 181.1L472.3 181.5L472.8 181.6L473.3 181.1L473.8 180.7L474.3 180.6L474.8 180.4L475.3 180.4L475.8 181.5L476.3 180.1L476.8 181L477.3 178.9L477.8 179.9L478.3 180.2L478.8 180.2L479.3 180.3L479.8 181.3L480.3 179.9L480.8 181.3L481.3 181L481.8 180.2L482.3 180.6L482.8 181.6L483.3 181.1L483.8 181.5L484.3 181.1L484.8 180.6L485.3 181.6L485.8 181L486.3 181.1L486.8 180.3L487.3 181.4L487.8 181.3L488.3 181.5L488.8 180.7L489.3 181.3L489.8 181.1L490.3 181.1L490.8 178.2L491.3 181.3L491.8 180.8L492.3 180.8L492.8 179.3L493.3 180.7L493.8 180.7L494.3 180.8L494.8 181.5L495.3 180.9L495.8 181.6L496.3 181.2L496.8 178.6L497.3 180.2L497.8 181L498.3 181.5L498.8 179.5L499.3 180.9L499.8 181.3L500.3 178.2L500.8 181.4L501.3 181.3L501.8 181.4L502.3 180.2L502.8 181.5L503.3 180.5L503.8 181.2L504.3 181.4L504.8 181.4L505.3 177.8L505.8 181.5L506.3 180.8L506.8 181.5L507.3 181.1L507.8 181.3L508.3 180.1L508.8 186L508.3 191L507.8 190L507.3 190L506.8 190.3L506.3 190.4L505.8 190.5L505.3 190.8L504.8 190L504.3 190.4L503.8 190L503.3 190.2L502.8 190.7L502.3 196.6L501.8 190.2L501.3 190.4L500.8 189.9L500.3 190.4L499.8 190.1L499.3 190.2L498.8 191L498.3 190.1L497.8 190.1L497.3 190.4L496.8 189.9L496.3 191.1L495.8 190.3L495.3 193L494.8 191.5L494.3 190.3L493.8 190.8L493.3 191.5L492.8 190.8L492.3 190.7L491.8 191.5L491.3 189.9L490.8 191.1L490.3 190L489.8 190.4L489.3 190L488.8 190.7L488.3 190L487.8 190.6L487.3 190L486.8 190.1L486.3 190.3L485.8 190.2L485.3 190.6L484.8 190.6L484.3 191.3L483.8 190.3L483.3 190.1L482.8 192.9L482.3 190.1L481.8 190.2L481.3 190L480.8 190.8L480.3 191.7L479.8 190.2L479.3 190.3L478.8 194.1L478.3 190.3L477.8 192.4L477.3 190.5L476.8 190.7L476.3 190.2L475.8 192.1L475.3 191.1L474.8 190.6L474.3 190.9L473.8 190L473.3 190L472.8 190.6L472.3 191.5L471.8 190.4L471.3 191.2L470.8 194.5L470.3 190.6L469.8 190.5L469.3 193.3L468.8 190L468.3 192L467.8 190.7L467.3 190.2L466.8 191.1L466.3 190.7L465.8 191.4L465.3 190.1L464.8 190.6L464.3 191.2L463.8 190.2L463.3 190.3L462.8 191L462.3 190L461.8 190.9L461.3 190.1L460.8 190.8L460.3 190.1L459.8 190.1L459.3 191.2L458.8 190.4L458.3 191.2L457.8 190.5L457.3 190.3L456.8 190L456.3 191.3L455.8 191.2L455.3 190.7L454.8 191.9L454.3 191.1L453.8 190.6L453.3 191.8L452.8 190.4L452.3 192.1L451.8 190L451.3 189.9L450.8 190.7L450.3 190L449.8 192.7L449.3 192.5L448.8 190.4L448.3 190L447.8 193.6L447.3 190.4L446.8 190.5L446.3 190.3L445.8 190.2L445.3 190.2L444.8 190.2L444.3 190.9L443.8 190.3L443.3 191.1L442.8 191L442.3 191.4L441.8 190L441.3 192.1L440.8 191.5L440.3 190.2L439.8 190L439.3 191.9L438.8 190.5L438.3 190.4L437.8 192.2L437.3 190.3L436.8 191.7L436.3 192.2L435.8 191.1L435.3 190L434.8 192L434.3 190.2L433.8 190.2L433.3 190.8L432.8 190.5L432.3 191L431.8 193.6L431.3 197.1L430.8 190.5L430.3 190.8L429.8 191.3L429.3 190.5L428.8 191.7L428.3 190.3L427.8 191.1L427.3 190L426.8 192.6L426.3 190.2L425.8 190.4L425.3 190.9L424.8 190.2L424.3 189.9L423.8 190L423.3 191.5L422.8 190.8L422.3 193.4L421.8 192.6L421.3 190.7L420.8 190.4L420.3 190.7L419.8 192.4L419.3 190.3L418.8 190.3L418.3 190.9L417.8 190.6L417.3 190.8L416.8 190.6L416.3 190.8L415.8 189.9L415.3 190.7L414.8 191.4L414.3 191.6L413.8 190.6L413.3 190.1L412.8 191.9L412.3 190.1L411.8 190.2L411.3 190.2L410.8 192.9L410.3 191.4L409.8 191.2L409.3 190L408.8 190.3L408.3 190.4L407.8 191.5L407.3 189.9L406.8 190.8L406.3 190.2L405.8 190.3L405.3 192.2L404.8 190.1L404.3 191L403.8 190.1L403.3 190L402.8 190.6L402.3 191.6L401.8 190.4L401.3 190L400.8 191.4L400.3 190.2L399.8 191.2L399.3 191.7L398.8 191.4L398.3 190.2L397.8 190.2L397.3 190.7L396.8 192.7L396.3 190.3L395.8 190L395.3 189.9L394.8 191.8L394.3 191.4L393.8 191.7L393.3 190.8L392.8 190.6L392.3 192.1L391.8 190.1L391.3 189.9L390.8 190.4L390.3 190.4L389.8 190.3L389.3 190L388.8 190.9L388.3 190.6L387.8 190.2L387.3 190.8L386.8 190.1L386.3 191.2L385.8 190.3L385.3 190L384.8 190.4L384.3 191.9L383.8 191L383.3 189.9L382.8 190.4L382.3 192.4L381.8 190.6L381.3 189.9L380.8 190.5L380.3 191.1L379.8 190.9L379.3 190.8L378.8 191.6L378.3 190L377.8 190.6L377.3 191.3L376.8 190.8L376.3 191.7L375.8 190.3L375.3 190.1L374.8 191L374.3 190.4L373.8 190.2L373.3 190.2L372.8 191.3L372.3 191.4L371.8 190L371.3 190.5L370.8 190.5L370.3 190.5L369.8 191.4L369.3 190L368.8 190L368.3 190L367.8 192.9L367.3 194.5L366.8 190.1L366.3 190.3L365.8 191.3L365.3 190.3L364.8 190.7L364.3 190.6L363.8 190.3L363.3 190L362.8 192L362.3 190.5L361.8 191.1L361.3 189.9L360.8 190.2L360.3 193.2L359.8 190.3L359.3 191L358.8 190L358.3 190.5L357.8 191.1L357.3 190.1L356.8 193.1L356.3 190.4L355.8 190.9L355.3 191.2L354.8 190.6L354.3 190.8L353.8 191.6L353.3 190L352.8 189.9L352.3 190.8L351.8 192L351.3 190.7L350.8 191.4L350.3 191.9L349.8 189.9L349.3 190.2L348.8 190L348.3 190.7L347.8 190L347.3 190.3L346.8 190.6L346.3 190.8L345.8 190.5L345.3 190L344.8 191L344.3 191.8L343.8 190.4L343.3 190.5L342.8 190.3L342.3 191.1L341.8 189.9L341.3 190.2L340.8 190.9L340.3 191L339.8 190.2L339.3 193.1L338.8 190.2L338.3 190L337.8 190L337.3 191.1L336.8 189.9L336.3 190.2L335.8 190.7L335.3 190.9L334.8 190.2L334.3 190.2L333.8 191.7L333.3 191L332.8 190.3L332.3 190.5L331.8 190.3L331.3 190.8L330.8 189.9L330.3 190.6L329.8 190.1L329.3 190.3L328.8 191L328.3 190.1L327.8 190.5L327.3 191L326.8 190.1L326.3 189.9L325.8 191.8L325.3 191.1L324.8 190.2L324.3 191.6L323.8 190.4L323.3 191.9L322.8 190.4L322.3 190.5L321.8 190.1L321.3 190.5L320.8 191.3L320.3 191.7L319.8 190.5L319.3 190.1L318.8 190L318.3 190.1L317.8 191.1L317.3 191.8L316.8 193L316.3 190L315.8 190.2L315.3 190.4L314.8 190.1L314.3 190.8L313.8 190.4L313.3 189.9L312.8 191.1L312.3 191.7L311.8 191.6L311.3 190.1L310.8 191.1L310.3 190.6L309.8 190L309.3 191.4L308.8 190.4L308.3 190.1L307.8 190.3L307.3 190.4L306.8 192.4L306.3 192L305.8 191.1L305.3 190.2L304.8 192L304.3 189.9L303.8 190.5L303.3 191.9L302.8 190.3L302.3 190.1L301.8 190.7L301.3 190.2L300.8 190.1L300.3 191.4L299.8 190.1L299.3 190L298.8 190.8L298.3 190L297.8 190.3L297.3 190.1L296.8 190.2L296.3 191.3L295.8 191.6L295.3 190.8L294.8 189.9L294.3 190.1L293.8 191.4L293.3 191L292.8 191.8L292.3 190.7L291.8 190.1L291.3 190.5L290.8 190L290.3 190.2L289.8 190.6L289.3 190.2L288.8 190.2L288.3 190.8L287.8 190.3L287.3 190.1L286.8 192.6L286.3 191.4L285.8 191.3L285.3 190.3L284.8 191L284.3 190L283.8 190.4L283.3 190.1L282.8 190L282.3 191L281.8 190.5L281.3 190.4L280.8 191.7L280.3 191L279.8 190.2L279.3 191.1L278.8 190.3L278.3 190.4L277.8 190.3L277.3 192.5L276.8 191.1L276.3 190.4L275.8 190.1L275.3 190L274.8 191.3L274.3 190.1L273.8 191.4L273.3 190.2L272.8 190.4L272.3 191.1L271.8 190.3L271.3 190.7L270.8 190.1L270.3 190L269.8 192.2L269.3 190.5L268.8 190.6L268.3 190.6L267.8 190.5L267.3 192.2L266.8 190.1L266.3 192.6L265.8 190.6L265.3 190L264.8 190L264.3 190.3L263.8 191.5L263.3 190.6L262.8 190.9L262.3 190.3L261.8 193.3L261.3 191.1L260.8 190.7L260.3 190.6L259.8 191.3L259.3 190.3L258.8 190.3L258.3 190.2L257.8 189.9L257.3 189.9L256.8 192.8L256.3 190.9L255.8 190L255.3 191.5L254.8 190.1L254.3 190.9L253.8 190L253.3 190.1L252.8 190.1L252.3 192.6L251.8 190.1L251.3 192L250.8 192.3L250.3 190.4L249.8 190.4L249.3 190.7L248.8 191.2L248.3 189.9L247.8 190.1L247.3 192L246.8 192.4L246.3 190.7L245.8 190.2L245.3 190.6L244.8 190.7L244.3 191.8L243.8 191.2L243.3 190.1L242.8 190.3L242.3 190.5L241.8 191.2L241.3 190.6L240.8 190L240.3 190.5L239.8 190.2L239.3 191.4L238.8 191.1L238.3 190.9L237.8 190.1L237.3 190.5L236.8 190.9L236.3 191.6L235.8 191.2L235.3 192.7L234.8 191.5L234.3 190.3L233.8 190.3L233.3 190.5L232.8 189.9L232.3 190.1L231.8 190.1L231.3 191.3L230.8 190.9L230.3 193.1L229.8 191.1L229.3 190.3L228.8 190.3L228.3 189.9L227.8 190.2L227.3 190.1L226.8 192.6L226.3 191L225.8 190.9L225.3 191L224.8 190.4L224.3 190L223.8 189.9L223.3 190.3L222.8 191.5L222.3 190.3L221.8 191.8L221.3 191.1L220.8 190.1L220.3 191.7L219.8 190.4L219.3 190.1L218.8 190L218.3 192.3L217.8 189.9L217.3 193.6L216.8 190L216.3 191.5L215.8 190.4L215.3 195L214.8 193.5L214.3 191.5L213.8 192.2L213.3 190.2L212.8 190.2L212.3 190L211.8 190.1L211.3 190.2L210.8 190.1L210.3 189.9L209.8 190.8L209.3 190.9L208.8 190.8L208.3 190.8L207.8 190.9L207.3 190.3L206.8 190L206.3 189.9L205.8 194.9L205.3 192.7L204.8 191.9L204.3 190.2L203.8 190.2L203.3 190L202.8 191.8L202.3 191.9L201.8 190.4L201.3 190.5L200.8 190.2L200.3 190L199.8 190.3L199.3 193.1L198.8 191.1L198.3 191.7L197.8 189.9L197.3 190.5L196.8 191.3L196.3 190.4L195.8 190.2L195.3 190L194.8 190.3L194.3 192.4L193.8 190.2L193.3 189.9L192.8 191.9L192.3 190.7L191.8 190.1L191.3 190.4L190.8 190.3L190.3 190.6L189.8 190.2L189.3 191.6L188.8 190.4L188.3 189.9L187.8 190.3L187.3 190.3L186.8 190.5L186.3 190.3L185.8 190.3L185.3 190.5L184.8 190.1L184.3 191.2L183.8 190.8L183.3 191.9L182.8 192L182.3 190.9L181.8 191.5L181.3 190.1L180.8 190.2L180.3 191.9L179.8 190L179.3 189.9L178.8 190.7L178.3 190.8L177.8 190.6L177.3 192.2L176.8 191.8L176.3 190.1L175.8 190L175.3 189.9L174.8 191.6L174.3 190.6L173.8 191L173.3 192.4L172.8 190.3L172.3 193.1L171.8 190.6L171.3 191.4L170.8 191.5L170.3 190.5L169.8 190.1L169.3 190.4L168.8 191.1L168.3 191L167.8 190.2L167.3 191.3L166.8 190.1L166.3 190.5L165.8 193.2L165.3 190.3L164.8 191.7L164.3 190.2L163.8 193.3L163.3 189.9L162.8 190.5L162.3 192.6L161.8 191.5L161.3 189.9L160.8 190.5L160.3 191.8L159.8 191.3L159.3 190.7L158.8 190.4L158.3 190.7L157.8 190.1L157.3 190.4L156.8 190.1L156.3 193.1L155.8 191.5L155.3 191.8L154.8 190.1L154.3 190.6L153.8 190L153.3 190.7L152.8 190.5L152.3 190L151.8 190.2L151.3 189.9L150.8 191.9L150.3 190.2L149.8 191.3L149.3 190.2L148.8 190.1L148.3 190.3L147.8 190.4L147.3 190.1L146.8 190.5L146.3 191L145.8 190.2L145.3 190.2L144.8 190.1L144.3 190.5L143.8 190.5L143.3 190.7L142.8 191L142.3 190L141.8 190.2L141.3 190.2L140.8 190.1L140.3 190.1L139.8 190L139.3 192.3L138.8 189.9L138.3 190.6L137.8 192.6L137.3 190.2L136.8 191.4L136.3 190.3L135.8 190.1L135.3 193.1L134.8 190.6L134.3 190.4L133.8 190.9L133.3 190.2L132.8 190.1L132.3 190.6L131.8 190.4L131.3 190.1L130.8 190.3L130.3 190.2L129.8 190.4L129.3 191.1L128.8 190L128.3 191.2L127.8 192.9L127.3 190.9L126.8 190.9L126.3 190.7L125.8 190.3L125.3 190.6L124.8 191.1L124.3 190.3L123.8 191.2L123.3 191.6L122.8 190.2L122.3 191.4L121.8 190.2L121.3 190.1L120.8 193.4L120.3 190.6L119.8 190.9L119.3 191.4L118.8 191.9L118.3 190.3L117.8 191L117.3 190L116.8 190.4L116.3 189.9L115.8 191.1L115.3 190L114.8 190.3L114.3 190.1L113.8 192L113.3 190.8L112.8 192.2L112.3 190L111.8 191.1L111.3 190.2L110.8 192.4L110.3 190L109.8 191L109.3 191.3L108.8 191.2L108.3 191L107.8 190.1L107.3 190.5L106.8 191.1L106.3 190.2L105.8 191.3L105.3 190.4L104.8 190.3L104.3 191.6L103.8 190.4L103.3 190.6L102.8 190.9L102.3 191.4L101.8 190L101.3 190.3L100.8 190.2L100.3 190.2L99.8 190L99.3 191.5L98.8 190.2L98.3 190.1L97.8 190.6L97.3 192.3L96.8 189.9L96.3 190.1L95.8 191.4L95.3 190.3L94.8 191.8L94.3 190L93.8 190.1L93.3 191.4L92.8 190.2L92.3 189.9L91.8 190.2L91.3 191.4L90.8 192.3L90.3 190.4L89.8 190.2L89.3 191.5L88.8 190.8L88.3 191.1L87.8 191.5L87.3 192.4L86.8 190.1L86.3 192.4L85.8 190.8L85.3 192.1L84.8 190.1L84.3 190L83.8 190.1L83.3 192.7L82.8 190.7L82.3 191.1L81.8 190L81.3 190L80.8 190.4L80.3 189.9L79.8 190.4L79.3 190.1L78.8 190.4L78.3 190.4L77.8 190.8L77.3 190.4L76.8 192.8L76.3 190.4L75.8 190.9L75.3 190.5L74.8 190L74.3 193.8L73.8 190.2L73.3 191.5L72.8 190.6L72.3 189.9L71.8 190.4L71.3 190L70.8 190.1L70.3 190.7L69.8 190.9L69.3 190.9L68.8 192.3L68.3 190.7L67.8 190L67.3 191L66.8 190.8L66.3 191.8L65.8 190.1L65.3 190.4L64.8 191.4L64.3 190.3L63.8 189.9L63.3 192.9L62.8 190.2L62.3 191.7L61.8 190.4L61.3 191.4L60.8 189.9L60.3 190.3L59.8 190.7L59.3 190.1L58.8 190.4L58.3 191.9L57.8 190.5L57.3 190.7L56.8 190.1L56.3 191.6L55.8 190L55.3 192.2L54.8 189.9L54.3 191.3L53.8 190.8L53.3 192.4L52.8 193.5L52.3 191.1L51.8 193.4L51.3 191.7L50.8 190.1L50.3 191.1L49.8 191.7L49.3 191L48.8 189.9L48.3 190.2L47.8 190.2L47.3 190.5L46.8 190.4L46.3 190.3L45.8 192.3L45.3 193.5L44.8 192.5L44.3 190.2L43.8 192.4L43.3 189.9L42.8 190.1L42.3 190.5L41.8 190.5L41.3 189.9L40.8 190.9L40.3 190.1L39.8 190.7L39.3 190.1L38.8 190.4L38.3 190.7L37.8 191.5L37.3 190.4L36.8 190L36.3 190L35.8 189.9L35.3 191.3L34.8 190L34.3 190.5L33.8 190.1L33.3 190.5L32.8 190L32.3 190.1L31.8 190.7L31.3 189.9L30.8 190.3L30.3 190L29.8 191.1L29.3 189.9L28.8 190.7L28.3 190.3L27.8 190.6L27.3 189.9L26.8 190.1L26.3 190L25.8 192.2L25.3 191.7L24.8 191.8L24.3 191.3L23.8 190L23.3 190.3L22.8 191.7L22.3 189.9L21.8 190L21.3 190.1L20.8 190.3L20.3 190.7L19.8 194.5L19.3 190.7L18.8 190.1L18.3 190.9L17.8 191.4Z" fill="#c08838" stroke="none"/>
<rect x="17.8" y="181.9" width="491" height="7.9" fill="#a25a12"/>
<path d="M17.8 183.3 v3M19.1 183.9 v3M20.4 184.3 v4.3M21.7 184.4 v3.5M23 183.2 v4M24.3 183.2 v4.1M25.6 184 v3.5M26.9 184.3 v3.9M28.2 183.4 v3.2M29.5 183.9 v4M30.8 183.2 v4.9M32.1 184.3 v4.8M33.4 184.3 v3.4M34.7 184.1 v3.9M36 184.1 v3.3M37.3 183.7 v3.7M38.6 183.9 v4.7M39.9 183.2 v4.6M41.2 184.2 v4.3M42.5 183.3 v3.7M43.8 183.7 v4.1M45.1 184 v4.6M46.4 184 v3.7M47.7 184.5 v3.1M49 183.7 v4.7M50.3 184 v5M51.6 184.2 v3.7M52.9 184 v3.7M54.2 183.9 v3.4M55.5 184.2 v5M56.8 183.5 v4.6M58.1 184.1 v4.7M59.4 184 v4.2M60.7 184.4 v4M62 184.2 v4.4M63.3 183.1 v4M64.6 183.1 v4.5M65.9 183.8 v3.8M67.2 183.9 v4.5M68.5 183.4 v4.4M69.8 183.8 v3.1M71.1 184.3 v4.9M72.4 184.1 v3.9M73.7 184.3 v4M75 183.8 v4.6M76.3 183.9 v3.5M77.6 184.2 v4.4M78.9 183.4 v3.6M80.2 184.5 v4.8M81.5 183.3 v3.7M82.8 183 v3.8M84.1 184.5 v4.2M85.4 183.9 v4.2M86.7 183.4 v3.4M88 183.7 v4.5M89.3 184.4 v3.2M90.6 184.3 v3.2M91.9 184.3 v4.4M93.2 183.2 v4.7M94.5 183.1 v3.8M95.8 184.1 v3.7M97.1 183.3 v4.9M98.4 183.2 v4.5M99.7 183.9 v4.7M101 183.1 v3.4M102.3 183.4 v3M103.6 184.2 v3.5M104.9 183.3 v4.8M106.2 183.1 v4.2M107.5 184 v4M108.8 183.6 v3.3M110.1 183 v3.2M111.4 183.8 v3.2M112.7 184.2 v4.9M114 184.4 v3.4M115.3 183.3 v4.5M116.6 183.8 v4M117.9 183.7 v4.1M119.2 184.1 v4.9M120.5 183.6 v4.4M121.8 184.1 v3.5M123.1 183.9 v4.7M124.4 184 v3.8M125.7 183.7 v4.7M127 183.9 v4.3M128.3 183.4 v3.1M129.6 183.3 v3.8M130.9 183.2 v3.5M132.2 184 v3.4M133.5 184.2 v3.8M134.8 184.2 v4.5M136.1 183 v4.9M137.4 184 v3.8M138.7 183.1 v4.7M140 183.6 v3.5M141.3 183.2 v3.6M142.6 183.2 v3.6M143.9 184.4 v3.2M145.2 183.4 v4.8M146.5 183.5 v4.7M147.8 183.6 v4M149.1 184 v3.8M150.4 183.9 v4.8M151.7 183.5 v3.3M153 184.1 v4.1M154.3 183.8 v3.3M155.6 183.2 v3.8M156.9 184.5 v3M158.2 183.6 v3.1M159.5 183.5 v3.5M160.8 184 v3.5M162.1 183.3 v3.1M163.4 184.3 v4.5M164.7 183.8 v4.2M166 183.8 v4.8M167.3 183 v3.1M168.6 184.2 v4.8M169.9 184.1 v4M171.2 184.1 v4.2M172.5 183.9 v3.8M173.8 183.2 v3.2M175.1 183.4 v3.2M176.4 184 v3.4M177.7 183.1 v4.2M179 184.1 v4.5M180.3 184.1 v4.5M181.6 183.1 v4.4M182.9 183.4 v3.4M184.2 184.4 v5M185.5 184 v4.4M186.8 183.7 v4.9M188.1 184.2 v4.3M189.4 183.5 v4.9M190.7 183.3 v4.1M192 183.1 v3.4M193.3 183.1 v3.5M194.6 184 v4.7M195.9 183.4 v3.8M197.2 183.7 v4.5M198.5 183 v3.3M199.8 184.3 v3.1M201.1 183 v4.7M202.4 184 v4.2M203.7 184.1 v3.1M205 183.1 v4.7M206.3 183.9 v3.3M207.6 183.2 v4.9M208.9 183.9 v5M210.2 183.1 v4M211.5 183.6 v3.5M212.8 183.4 v3.1M214.1 184 v4.5M215.4 183.1 v4.2M216.7 183.9 v4.5M218 184.4 v4.3M219.3 183.8 v3.6M220.6 183.8 v4.3M221.9 183.3 v4.5M223.2 183.1 v4.5M224.5 184.4 v3.6M225.8 183.7 v4.7M227.1 184.2 v3.6M228.4 184.3 v4.8M229.7 184.3 v4.7M231 183.3 v3.9M232.3 183.5 v4.6M233.6 183.6 v4.2M234.9 183.9 v3.1M236.2 183.6 v4.8M237.5 183.9 v3.9M238.8 183.7 v3.3M240.1 184.2 v3.8M241.4 183.5 v3.2M242.7 184.4 v3.2M244 183.5 v4.2M245.3 183 v4.3M246.6 183.3 v3.5M247.9 183.6 v4.8M249.2 184.3 v3.6M250.5 183.4 v4.1M251.8 184.4 v4.1M253.1 183 v3.1M254.4 183.4 v3.4M255.7 183.2 v4.3M257 184.4 v3M258.3 183.5 v4.7M259.6 183.4 v4.9M260.9 183.5 v4.2M262.2 183.6 v3.3M263.5 183.6 v4.5M264.8 184 v4.6M266.1 184.4 v4.3M267.4 184.2 v3.1M268.7 183.4 v3.9M270 184.2 v4.6M271.3 184 v3.7M272.6 183.8 v3.7M273.9 183.8 v4.4M275.2 184.2 v3.4M276.5 183.6 v3.4M277.8 183.5 v4.6M279.1 183 v5M280.4 183 v3.9M281.7 184.5 v3.8M283 184 v4.6M284.3 184.4 v4.2M285.6 183.7 v3.6M286.9 183.6 v3.1M288.2 183.2 v4.5M289.5 183.9 v4.9M290.8 183.9 v3.5M292.1 184.2 v4.8M293.4 183.8 v3.5M294.7 184.4 v4.8M296 184.2 v4.4M297.3 183.7 v3.7M298.6 183.5 v3.4M299.9 183.1 v5M301.2 184.1 v3.3M302.5 183.4 v4.8M303.8 183.4 v3.1M305.1 184.5 v3.8M306.4 183.9 v3.5M307.7 183.6 v3.1M309 183.8 v3.6M310.3 183.2 v3.2M311.6 184 v3.3M312.9 183.7 v4M314.2 184.1 v4.2M315.5 183.9 v3.4M316.8 183.8 v4.7M318.1 183.1 v4.7M319.4 184.5 v3.3M320.7 184 v3.5M322 184.2 v4.5M323.3 184.3 v3.1M324.6 184.2 v3.2M325.9 183.2 v4.2M327.2 183.6 v4M328.5 183.8 v3.2M329.8 183.7 v4.7M331.1 184.3 v4.7M332.4 184.3 v4.7M333.7 184 v4.9M335 183.3 v3.4M336.3 184.1 v4.6M337.6 183.1 v4M338.9 183.5 v4.9M340.2 183.7 v4.1M341.5 184.1 v4.2M342.8 183.1 v4.3M344.1 183.1 v4.5M345.4 183.2 v3.5M346.7 183.5 v3.3M348 184.4 v4.9M349.3 184 v3.1M350.6 184.2 v4.6M351.9 183.1 v3.4M353.2 183.9 v3.8M354.5 183.6 v4.3M355.8 184.1 v4.5M357.1 183.9 v4.5M358.4 184.5 v4.7M359.7 183.2 v4.4M361 184 v4.4M362.3 183.8 v3.8M363.6 184 v4.4M364.9 183.9 v4M366.2 183.9 v4.6M367.5 184.2 v3.9M368.8 183.1 v3.4M370.1 183.8 v3.2M371.4 184.1 v3.5M372.7 183.4 v4.5M374 184.1 v3.5M375.3 183.1 v4M376.6 183.5 v4.1M377.9 184.1 v4.1M379.2 184.3 v4M380.5 183.1 v4.3M381.8 184.1 v3.5M383.1 183.3 v4.4M384.4 184.3 v3.8M385.7 184 v4.8M387 183.3 v4M388.3 183.4 v3.8M389.6 183.3 v4.3M390.9 183 v4.1M392.2 183.9 v3M393.5 184.4 v3.2M394.8 183.5 v4M396.1 184.2 v4.2M397.4 183.3 v4.4M398.7 183.3 v3.8M400 184 v3.4M401.3 184.3 v4.7M402.6 183.6 v3.9M403.9 183.5 v3.3M405.2 184.4 v3.8M406.5 184.1 v3.8M407.8 183.2 v4.8M409.1 184.1 v4.4M410.4 183.9 v4.4M411.7 184.2 v3.4M413 184 v4.5M414.3 183.9 v4.7M415.6 183.4 v4.1M416.9 184.3 v3.2M418.2 183.9 v4.7M419.5 184.4 v4.6M420.8 183.3 v3.8M422.1 184 v3.9M423.4 184.2 v3.7M424.7 183.7 v4.8M426 183.4 v4M427.3 183.2 v4.9M428.6 183.9 v4.7M429.9 183.1 v4.3M431.2 184.4 v4.4M432.5 184.2 v3.2M433.8 183.4 v3.7M435.1 183.7 v3.2M436.4 183.8 v4.1M437.7 184.4 v3M439 183.3 v3.3M440.3 184.1 v4M441.6 184.5 v3.4M442.9 183.1 v3.8M444.2 183.6 v4.1M445.5 183.4 v5M446.8 184.1 v4.1M448.1 184.5 v4.5M449.4 184.1 v3.1M450.7 184.2 v4.4M452 184.5 v3.7M453.3 183.4 v4.8M454.6 183.5 v3.4M455.9 184.1 v4.2M457.2 184.1 v4.6M458.5 184.4 v4.1M459.8 184.5 v3.6M461.1 183.8 v3.1M462.4 183.4 v3.5M463.7 183.3 v4.6M465 184.2 v4M466.3 183.7 v4M467.6 183.6 v4.9M468.9 183.2 v4.1M470.2 184 v4.9M471.5 183.2 v4.2M472.8 183.5 v4.6M474.1 183.9 v3.2M475.4 184.2 v4M476.7 184.3 v3.5M478 183.2 v3.3M479.3 183.6 v3.1M480.6 184.1 v4.7M481.9 183.1 v3.6M483.2 184.5 v3.8M484.5 183.7 v3.3M485.8 184 v4.5M487.1 183.4 v4.5M488.4 183.4 v3.6M489.7 183.7 v3.1M491 184.1 v3.2M492.3 183.5 v3.1M493.6 184 v4.8M494.9 184 v4.7M496.2 183.8 v4.8M497.5 183 v4M498.8 183.2 v4.7M500.1 184.3 v3.9M501.4 184.1 v3.9M502.7 184.4 v3.3M504 183.8 v3.1M505.3 183.8 v3.9M506.6 183.9 v4.5M507.9 183.9 v3.5" stroke="#8c4a0c" stroke-width="0.6" fill="none"/>
<path d="M20.1 211.2 v-4.5M21 211.2 v-2.1M22.8 211.2 v-5.2M25.5 211.2 v-3.2M27.3 211.2 v-7.2M28.2 211.2 v-3.3M29.1 211.2 v-6.2M30 211.2 v-2.6M30.9 211.2 v-15M31.8 211.2 v-5M32.7 211.2 v-12.4M33.6 211.2 v-6.7M37.2 211.2 v-3.1M38.1 211.2 v-3.8M39 211.2 v-2.9M39.9 211.2 v-15M40.8 211.2 v-3.4M42.6 211.2 v-5.5M43.5 211.2 v-2.8M44.4 211.2 v-3.1M45.3 211.2 v-6.5M46.2 211.2 v-8.9M47.1 211.2 v-12.2M48.9 211.2 v-3.2M49.8 211.2 v-8.8M50.7 211.2 v-8.6M52.5 211.2 v-2.9M54.3 211.2 v-3.1M55.2 211.2 v-2.9M56.1 211.2 v-3.7M57 211.2 v-15M59.7 211.2 v-4.5M60.6 211.2 v-2.7M61.5 211.2 v-6M62.4 211.2 v-10.2M63.3 211.2 v-4M66 211.2 v-10.2M66.9 211.2 v-4.9M67.8 211.2 v-15M68.7 211.2 v-4.7M69.6 211.2 v-3M70.5 211.2 v-2.8M72.3 211.2 v-2.2M73.2 211.2 v-4.2M75.9 211.2 v-3.8M76.8 211.2 v-2.4M77.7 211.2 v-5.9M78.6 211.2 v-2.5M80.4 211.2 v-3.1M81.3 211.2 v-4.5M33 211.2 v-14M37 211.2 v-9.4M41 211.2 v-9.8M45.5 211.2 v-14.6M52 211.2 v-11.5M55 211.2 v-13M58 211.2 v-11.7M70.5 211.2 v-5.5M72 211.2 v-5.8M73.5 211.2 v-13M75 211.2 v-12.3M86.5 211.2 v-13.5M92.5 211.2 v-9.6M102.5 211.2 v-9.9M107.5 211.2 v-9.7M120.5 211.2 v-11.7M122 211.2 v-9.5M127 211.2 v-9.1M140 211.2 v-8.1M144.5 211.2 v-10.2M147.5 211.2 v-7.6M155 211.2 v-14.1M165 211.2 v-8.5M175.5 211.2 v-12.2M177 211.2 v-13.1M185.5 211.2 v-10M187 211.2 v-7.5M203 211.2 v-13.3M208 211.2 v-11.5M228 211.2 v-5.3M230.5 211.2 v-10.4M238.5 211.2 v-8M253 211.2 v-6.4M262 211.2 v-12M271 211.2 v-10.5M281 211.2 v-5.7M283 211.2 v-8.3M287 211.2 v-12.7M293 211.2 v-6.4M301 211.2 v-7.4M322 211.2 v-14.6M338 211.2 v-9.2M340 211.2 v-9M346 211.2 v-9.5M361 211.2 v-13M366 211.2 v-5.6M369 211.2 v-13M372 211.2 v-9.3M380 211.2 v-12.1M388 211.2 v-7M407 211.2 v-6.4M414 211.2 v-10.3M427 211.2 v-5.8M451 211.2 v-11M472 211.2 v-7.3M474 211.2 v-6.4M492 211.2 v-9.3M496 211.2 v-6.6M505 211.2 v-5" stroke="#d98f38" stroke-width="0.75" fill="none"/>
<path d="M45.5 211.2 v-7.6M58 211.2 v-9.9M72 211.2 v-11.5M73.5 211.2 v-7M120.5 211.2 v-6.5M144.5 211.2 v-6.7M177 211.2 v-12.7M229 211.2 v-8.4M262 211.2 v-10.8M340 211.2 v-9.6M369 211.2 v-10.1M451 211.2 v-6.1M474 211.2 v-10.8" stroke="#b0621c" stroke-width="0.8" fill="none"/>
<text x="18.3" y="27.2" font-size="4.50" fill="#4a48d8" text-anchor="start" textLength="94" lengthAdjust="spacingAndGlyphs" font-family="Liberation Mono, monospace">INPUT-chip: E-20-24h DOSAGEx3 (0, 113,691.368)</text>
<text x="18.3" y="46.2" font-size="4.50" fill="#4a48d8" text-anchor="start" textLength="94" lengthAdjust="spacingAndGlyphs" font-family="Liberation Mono, monospace">INPUT-chip: E-16-20h DOSAGEx3 (0, 139,737.652)</text>
<text x="18.3" y="65.2" font-size="4.50" fill="#4a48d8" text-anchor="start" textLength="94" lengthAdjust="spacingAndGlyphs" font-family="Liberation Mono, monospace">INPUT-chip: E-12-16h DOSAGEx3 (0, 191,945.405)</text>
<text x="18.3" y="84.2" font-size="4.50" fill="#4a48d8" text-anchor="start" textLength="90" lengthAdjust="spacingAndGlyphs" font-family="Liberation Mono, monospace">INPUT-chip: E-0-4h DOSAGEx3 (0, 130,591.364)</text>
<text x="18.3" y="103" font-size="4.50" fill="#e04058" text-anchor="start" textLength="87" lengthAdjust="spacingAndGlyphs" font-family="Liberation Mono, monospace">INPUT-seq: E-20-24h (density) (0, 30.220)</text>
<text x="18.3" y="121.7" font-size="4.50" fill="#e04058" text-anchor="start" textLength="85" lengthAdjust="spacingAndGlyphs" font-family="Liberation Mono, monospace">INPUT-seq: E-16-20h (density) (0, 16.342)</text>
<text x="18.3" y="140.5" font-size="4.50" fill="#e04058" text-anchor="start" textLength="86" lengthAdjust="spacingAndGlyphs" font-family="Liberation Mono, monospace">INPUT-seq: E-12-16h (density) (0, .52.997)</text>
<text x="18.3" y="159.2" font-size="4.50" fill="#e04058" text-anchor="start" textLength="82" lengthAdjust="spacingAndGlyphs" font-family="Liberation Mono, monospace">INPUT-seq: E-0-4h (density) (0, 30.845)</text>
<text x="18.3" y="177.6" font-size="4.30" fill="#b06a20" text-anchor="start" textLength="41" lengthAdjust="spacingAndGlyphs" font-family="Liberation Mono, monospace">GC content (0, 0.54)</text>
<text x="18.3" y="196.6" font-size="4.30" fill="#c88a30" text-anchor="start" textLength="41" lengthAdjust="spacingAndGlyphs" font-family="Liberation Mono, monospace">RepeatM (1., 11,216)</text>
<rect x="97.4" y="103.2" width="13.8" height="75" fill="none" stroke="#6e6e6e" stroke-width="1.25" stroke-dasharray="5 2.6"/>
<rect x="222.5" y="100.2" width="14.4" height="73.8" fill="none" stroke="#6e6e6e" stroke-width="1.25" stroke-dasharray="5 2.6"/>
<rect x="308.9" y="102.6" width="13.9" height="75.2" fill="none" stroke="#6e6e6e" stroke-width="1.25" stroke-dasharray="5 2.6"/>
<text x="391" y="33.7" font-size="10.35" fill="#111" text-anchor="start">E20a</text>
<text x="391" y="53.2" font-size="10.35" fill="#111" text-anchor="start">E16a</text>
<text x="391" y="73.8" font-size="10.35" fill="#111" text-anchor="start">E12a</text>
<text x="391" y="92.4" font-size="10.35" fill="#111" text-anchor="start">E0a</text>
<text x="391" y="109.4" font-size="10.35" fill="#111" text-anchor="start">E20</text>
<text x="391" y="127.2" font-size="10.35" fill="#111" text-anchor="start">E16</text>
<text x="391" y="145.5" font-size="10.35" fill="#111" text-anchor="start">E12</text>
<text x="391" y="163.9" font-size="10.35" fill="#111" text-anchor="start">E0</text>
<text x="391" y="181.4" font-size="10.35" fill="#111" text-anchor="start">GC content</text>
<text x="391" y="201.6" font-size="10.35" fill="#111" text-anchor="start">RepeatMarker score</text>
<rect x="17.8" y="215.9" width="491" height="0.9" fill="#2a8a3a"/>
<text x="65.9" y="215.2" font-size="4.10" fill="#0d4a1c" text-anchor="start" textLength="18.5" lengthAdjust="spacingAndGlyphs" font-weight="bold">7,000,000</text>
<text x="115.5" y="215.2" font-size="4.10" fill="#0d4a1c" text-anchor="start" textLength="18.5" lengthAdjust="spacingAndGlyphs" font-weight="bold">8,000,000</text>
<text x="165.1" y="215.2" font-size="4.10" fill="#0d4a1c" text-anchor="start" textLength="18.5" lengthAdjust="spacingAndGlyphs" font-weight="bold">9,000,000</text>
<text x="214.7" y="215.2" font-size="4.10" fill="#0d4a1c" text-anchor="start" textLength="18.5" lengthAdjust="spacingAndGlyphs" font-weight="bold">9,500,000</text>
<text x="264.3" y="215.2" font-size="4.10" fill="#0d4a1c" text-anchor="start" textLength="18.5" lengthAdjust="spacingAndGlyphs" font-weight="bold">10,000,000</text>
<text x="313.9" y="215.2" font-size="4.10" fill="#0d4a1c" text-anchor="start" textLength="18.5" lengthAdjust="spacingAndGlyphs" font-weight="bold">11,000,000</text>
<text x="363.5" y="215.2" font-size="4.10" fill="#0d4a1c" text-anchor="start" textLength="18.5" lengthAdjust="spacingAndGlyphs" font-weight="bold">12,000,000</text>
<text x="413.1" y="215.2" font-size="4.10" fill="#0d4a1c" text-anchor="start" textLength="18.5" lengthAdjust="spacingAndGlyphs" font-weight="bold">13,000,000</text>
<text x="462.7" y="215.2" font-size="4.10" fill="#0d4a1c" text-anchor="start" textLength="18.5" lengthAdjust="spacingAndGlyphs" font-weight="bold">14,000,000</text>
<path d="M65.1 212.6 V216.4M114.7 212.6 V216.4M164.3 212.6 V216.4M213.9 212.6 V216.4M263.5 212.6 V216.4M313.1 212.6 V216.4M362.7 212.6 V216.4M412.3 212.6 V216.4M461.9 212.6 V216.4" stroke="#1d7a34" stroke-width="0.7" fill="none"/>
</g>
<g id="panel-b">
<text x="519.5" y="13.1" font-size="17.60" fill="#111" text-anchor="start">(b)</text>
<text x="662.5" y="6.3" font-size="8.60" fill="#111" text-anchor="middle" textLength="155" lengthAdjust="spacingAndGlyphs">Correlation among INPUT−DNA profiles</text>
<rect x="749.4" y="21.8" width="35.6" height="93.1" fill="#ffc6d3"/>
<rect x="749.4" y="114.9" width="35.6" height="74.5" fill="#c3cff2"/>
<rect x="572.6" y="189.4" width="98.2" height="33.4" fill="#ffc6d3"/>
<rect x="670.8" y="189.4" width="78.6" height="33.4" fill="#c3cff2"/>
<rect x="572.6" y="11.0" width="98.2" height="7.8" fill="#f8302a"/>
<rect x="670.8" y="11.0" width="78.6" height="7.8" fill="#00a4ee"/>
<rect x="611.9" y="11.0" width="9.8" height="7.8" fill="#000"/>
<g shape-rendering="crispEdges">
<rect x="572.6" y="21.8" width="10.1" height="9.6" fill="#ff0000"/>
<rect x="582.4" y="21.8" width="10.1" height="9.6" fill="#ffffff"/>
<rect x="592.2" y="21.8" width="10.1" height="9.6" fill="#4040ff"/>
<rect x="602.1" y="21.8" width="10.1" height="9.6" fill="#3333ff"/>
<rect x="611.9" y="21.8" width="10.1" height="9.6" fill="#0d0dff"/>
<rect x="621.7" y="21.8" width="10.1" height="9.6" fill="#9999ff"/>
<rect x="631.5" y="21.8" width="10.1" height="9.6" fill="#5959ff"/>
<rect x="641.4" y="21.8" width="10.1" height="9.6" fill="#8c8cff"/>
<rect x="651.2" y="21.8" width="10.1" height="9.6" fill="#6666ff"/>
<rect x="661" y="21.8" width="10.1" height="9.6" fill="#6666ff"/>
<rect x="670.8" y="21.8" width="10.1" height="9.6" fill="#2626ff"/>
<rect x="680.6" y="21.8" width="10.1" height="9.6" fill="#2626ff"/>
<rect x="690.5" y="21.8" width="10.1" height="9.6" fill="#1919ff"/>
<rect x="700.3" y="21.8" width="10.1" height="9.6" fill="#1414ff"/>
<rect x="710.1" y="21.8" width="10.1" height="9.6" fill="#4d4dff"/>
<rect x="719.9" y="21.8" width="10.1" height="9.6" fill="#4d4dff"/>
<rect x="729.8" y="21.8" width="10.1" height="9.6" fill="#5252ff"/>
<rect x="739.6" y="21.8" width="10.1" height="9.6" fill="#5252ff"/>
<rect x="572.6" y="31.1" width="10.1" height="9.6" fill="#ffffff"/>
<rect x="582.4" y="31.1" width="10.1" height="9.6" fill="#ff0000"/>
<rect x="592.2" y="31.1" width="10.1" height="9.6" fill="#4d4dff"/>
<rect x="602.1" y="31.1" width="10.1" height="9.6" fill="#4040ff"/>
<rect x="611.9" y="31.1" width="10.1" height="9.6" fill="#1212ff"/>
<rect x="621.7" y="31.1" width="10.1" height="9.6" fill="#a6a6ff"/>
<rect x="631.5" y="31.1" width="10.1" height="9.6" fill="#6666ff"/>
<rect x="641.4" y="31.1" width="10.1" height="9.6" fill="#9999ff"/>
<rect x="651.2" y="31.1" width="10.1" height="9.6" fill="#7373ff"/>
<rect x="661" y="31.1" width="10.1" height="9.6" fill="#7373ff"/>
<rect x="670.8" y="31.1" width="10.1" height="9.6" fill="#3333ff"/>
<rect x="680.6" y="31.1" width="10.1" height="9.6" fill="#3333ff"/>
<rect x="690.5" y="31.1" width="10.1" height="9.6" fill="#2e2eff"/>
<rect x="700.3" y="31.1" width="10.1" height="9.6" fill="#2626ff"/>
<rect x="710.1" y="31.1" width="10.1" height="9.6" fill="#6161ff"/>
<rect x="719.9" y="31.1" width="10.1" height="9.6" fill="#5959ff"/>
<rect x="729.8" y="31.1" width="10.1" height="9.6" fill="#6666ff"/>
<rect x="739.6" y="31.1" width="10.1" height="9.6" fill="#6666ff"/>
<rect x="572.6" y="40.4" width="10.1" height="9.6" fill="#4040ff"/>
<rect x="582.4" y="40.4" width="10.1" height="9.6" fill="#4d4dff"/>
<rect x="592.2" y="40.4" width="10.1" height="9.6" fill="#ff0000"/>
<rect x="602.1" y="40.4" width="10.1" height="9.6" fill="#fff5f5"/>
<rect x="611.9" y="40.4" width="10.1" height="9.6" fill="#ffbfbf"/>
<rect x="621.7" y="40.4" width="10.1" height="9.6" fill="#ffe0e0"/>
<rect x="631.5" y="40.4" width="10.1" height="9.6" fill="#ffd9d9"/>
<rect x="641.4" y="40.4" width="10.1" height="9.6" fill="#e0e0ff"/>
<rect x="651.2" y="40.4" width="10.1" height="9.6" fill="#d9d9ff"/>
<rect x="661" y="40.4" width="10.1" height="9.6" fill="#e6e6ff"/>
<rect x="670.8" y="40.4" width="10.1" height="9.6" fill="#b2b2ff"/>
<rect x="680.6" y="40.4" width="10.1" height="9.6" fill="#b2b2ff"/>
<rect x="690.5" y="40.4" width="10.1" height="9.6" fill="#e6e6ff"/>
<rect x="700.3" y="40.4" width="10.1" height="9.6" fill="#e6e6ff"/>
<rect x="710.1" y="40.4" width="10.1" height="9.6" fill="#bfbfff"/>
<rect x="719.9" y="40.4" width="10.1" height="9.6" fill="#e6e6ff"/>
<rect x="729.8" y="40.4" width="10.1" height="9.6" fill="#ccccff"/>
<rect x="739.6" y="40.4" width="10.1" height="9.6" fill="#ccccff"/>
<rect x="572.6" y="49.7" width="10.1" height="9.6" fill="#3333ff"/>
<rect x="582.4" y="49.7" width="10.1" height="9.6" fill="#4040ff"/>
<rect x="592.2" y="49.7" width="10.1" height="9.6" fill="#fff5f5"/>
<rect x="602.1" y="49.7" width="10.1" height="9.6" fill="#ff0000"/>
<rect x="611.9" y="49.7" width="10.1" height="9.6" fill="#ff5959"/>
<rect x="621.7" y="49.7" width="10.1" height="9.6" fill="#ff9999"/>
<rect x="631.5" y="49.7" width="10.1" height="9.6" fill="#ff8c8c"/>
<rect x="641.4" y="49.7" width="10.1" height="9.6" fill="#f7f7ff"/>
<rect x="651.2" y="49.7" width="10.1" height="9.6" fill="#ffffff"/>
<rect x="661" y="49.7" width="10.1" height="9.6" fill="#ffe0e0"/>
<rect x="670.8" y="49.7" width="10.1" height="9.6" fill="#e6e6ff"/>
<rect x="680.6" y="49.7" width="10.1" height="9.6" fill="#e6e6ff"/>
<rect x="690.5" y="49.7" width="10.1" height="9.6" fill="#ffd9d9"/>
<rect x="700.3" y="49.7" width="10.1" height="9.6" fill="#ffbfbf"/>
<rect x="710.1" y="49.7" width="10.1" height="9.6" fill="#ffe0e0"/>
<rect x="719.9" y="49.7" width="10.1" height="9.6" fill="#ffb8b8"/>
<rect x="729.8" y="49.7" width="10.1" height="9.6" fill="#ffbfbf"/>
<rect x="739.6" y="49.7" width="10.1" height="9.6" fill="#ffbfbf"/>
<rect x="572.6" y="59" width="10.1" height="9.6" fill="#0d0dff"/>
<rect x="582.4" y="59" width="10.1" height="9.6" fill="#1212ff"/>
<rect x="592.2" y="59" width="10.1" height="9.6" fill="#ffbfbf"/>
<rect x="602.1" y="59" width="10.1" height="9.6" fill="#ff5959"/>
<rect x="611.9" y="59" width="10.1" height="9.6" fill="#ff0000"/>
<rect x="621.7" y="59" width="10.1" height="9.6" fill="#ffbfbf"/>
<rect x="631.5" y="59" width="10.1" height="9.6" fill="#ffa6a6"/>
<rect x="641.4" y="59" width="10.1" height="9.6" fill="#d9d9ff"/>
<rect x="651.2" y="59" width="10.1" height="9.6" fill="#e0e0ff"/>
<rect x="661" y="59" width="10.1" height="9.6" fill="#ffffff"/>
<rect x="670.8" y="59" width="10.1" height="9.6" fill="#ffe6e6"/>
<rect x="680.6" y="59" width="10.1" height="9.6" fill="#ffe0e0"/>
<rect x="690.5" y="59" width="10.1" height="9.6" fill="#ffbfbf"/>
<rect x="700.3" y="59" width="10.1" height="9.6" fill="#ffb2b2"/>
<rect x="710.1" y="59" width="10.1" height="9.6" fill="#ffcccc"/>
<rect x="719.9" y="59" width="10.1" height="9.6" fill="#ffb2b2"/>
<rect x="729.8" y="59" width="10.1" height="9.6" fill="#ffc7c7"/>
<rect x="739.6" y="59" width="10.1" height="9.6" fill="#ffbfbf"/>
<rect x="572.6" y="68.4" width="10.1" height="9.6" fill="#9999ff"/>
<rect x="582.4" y="68.4" width="10.1" height="9.6" fill="#a6a6ff"/>
<rect x="592.2" y="68.4" width="10.1" height="9.6" fill="#ffe0e0"/>
<rect x="602.1" y="68.4" width="10.1" height="9.6" fill="#ff9999"/>
<rect x="611.9" y="68.4" width="10.1" height="9.6" fill="#ffbfbf"/>
<rect x="621.7" y="68.4" width="10.1" height="9.6" fill="#ff0000"/>
<rect x="631.5" y="68.4" width="10.1" height="9.6" fill="#ff6666"/>
<rect x="641.4" y="68.4" width="10.1" height="9.6" fill="#ff7373"/>
<rect x="651.2" y="68.4" width="10.1" height="9.6" fill="#ff8c8c"/>
<rect x="661" y="68.4" width="10.1" height="9.6" fill="#ff9999"/>
<rect x="670.8" y="68.4" width="10.1" height="9.6" fill="#ccccff"/>
<rect x="680.6" y="68.4" width="10.1" height="9.6" fill="#ccccff"/>
<rect x="690.5" y="68.4" width="10.1" height="9.6" fill="#ffffff"/>
<rect x="700.3" y="68.4" width="10.1" height="9.6" fill="#ffffff"/>
<rect x="710.1" y="68.4" width="10.1" height="9.6" fill="#ebebff"/>
<rect x="719.9" y="68.4" width="10.1" height="9.6" fill="#ffebeb"/>
<rect x="729.8" y="68.4" width="10.1" height="9.6" fill="#ffffff"/>
<rect x="739.6" y="68.4" width="10.1" height="9.6" fill="#ffffff"/>
<rect x="572.6" y="77.7" width="10.1" height="9.6" fill="#5959ff"/>
<rect x="582.4" y="77.7" width="10.1" height="9.6" fill="#6666ff"/>
<rect x="592.2" y="77.7" width="10.1" height="9.6" fill="#ffd9d9"/>
<rect x="602.1" y="77.7" width="10.1" height="9.6" fill="#ff8c8c"/>
<rect x="611.9" y="77.7" width="10.1" height="9.6" fill="#ffa6a6"/>
<rect x="621.7" y="77.7" width="10.1" height="9.6" fill="#ff6666"/>
<rect x="631.5" y="77.7" width="10.1" height="9.6" fill="#ff0000"/>
<rect x="641.4" y="77.7" width="10.1" height="9.6" fill="#ff5959"/>
<rect x="651.2" y="77.7" width="10.1" height="9.6" fill="#ff6666"/>
<rect x="661" y="77.7" width="10.1" height="9.6" fill="#ff5959"/>
<rect x="670.8" y="77.7" width="10.1" height="9.6" fill="#c7c7ff"/>
<rect x="680.6" y="77.7" width="10.1" height="9.6" fill="#bfbfff"/>
<rect x="690.5" y="77.7" width="10.1" height="9.6" fill="#fffafa"/>
<rect x="700.3" y="77.7" width="10.1" height="9.6" fill="#fff7f7"/>
<rect x="710.1" y="77.7" width="10.1" height="9.6" fill="#e6e6ff"/>
<rect x="719.9" y="77.7" width="10.1" height="9.6" fill="#ffffff"/>
<rect x="729.8" y="77.7" width="10.1" height="9.6" fill="#fafaff"/>
<rect x="739.6" y="77.7" width="10.1" height="9.6" fill="#fafaff"/>
<rect x="572.6" y="87" width="10.1" height="9.6" fill="#8c8cff"/>
<rect x="582.4" y="87" width="10.1" height="9.6" fill="#9999ff"/>
<rect x="592.2" y="87" width="10.1" height="9.6" fill="#e0e0ff"/>
<rect x="602.1" y="87" width="10.1" height="9.6" fill="#f7f7ff"/>
<rect x="611.9" y="87" width="10.1" height="9.6" fill="#d9d9ff"/>
<rect x="621.7" y="87" width="10.1" height="9.6" fill="#ff7373"/>
<rect x="631.5" y="87" width="10.1" height="9.6" fill="#ff5959"/>
<rect x="641.4" y="87" width="10.1" height="9.6" fill="#ff0000"/>
<rect x="651.2" y="87" width="10.1" height="9.6" fill="#ff6666"/>
<rect x="661" y="87" width="10.1" height="9.6" fill="#ff6666"/>
<rect x="670.8" y="87" width="10.1" height="9.6" fill="#8c8cff"/>
<rect x="680.6" y="87" width="10.1" height="9.6" fill="#8c8cff"/>
<rect x="690.5" y="87" width="10.1" height="9.6" fill="#b2b2ff"/>
<rect x="700.3" y="87" width="10.1" height="9.6" fill="#b2b2ff"/>
<rect x="710.1" y="87" width="10.1" height="9.6" fill="#9494ff"/>
<rect x="719.9" y="87" width="10.1" height="9.6" fill="#adadff"/>
<rect x="729.8" y="87" width="10.1" height="9.6" fill="#9e9eff"/>
<rect x="739.6" y="87" width="10.1" height="9.6" fill="#9e9eff"/>
<rect x="572.6" y="96.3" width="10.1" height="9.6" fill="#6666ff"/>
<rect x="582.4" y="96.3" width="10.1" height="9.6" fill="#7373ff"/>
<rect x="592.2" y="96.3" width="10.1" height="9.6" fill="#d9d9ff"/>
<rect x="602.1" y="96.3" width="10.1" height="9.6" fill="#ffffff"/>
<rect x="611.9" y="96.3" width="10.1" height="9.6" fill="#e0e0ff"/>
<rect x="621.7" y="96.3" width="10.1" height="9.6" fill="#ff8c8c"/>
<rect x="631.5" y="96.3" width="10.1" height="9.6" fill="#ff6666"/>
<rect x="641.4" y="96.3" width="10.1" height="9.6" fill="#ff6666"/>
<rect x="651.2" y="96.3" width="10.1" height="9.6" fill="#ff0000"/>
<rect x="661" y="96.3" width="10.1" height="9.6" fill="#ff4d4d"/>
<rect x="670.8" y="96.3" width="10.1" height="9.6" fill="#8080ff"/>
<rect x="680.6" y="96.3" width="10.1" height="9.6" fill="#8080ff"/>
<rect x="690.5" y="96.3" width="10.1" height="9.6" fill="#b2b2ff"/>
<rect x="700.3" y="96.3" width="10.1" height="9.6" fill="#b2b2ff"/>
<rect x="710.1" y="96.3" width="10.1" height="9.6" fill="#9999ff"/>
<rect x="719.9" y="96.3" width="10.1" height="9.6" fill="#b2b2ff"/>
<rect x="729.8" y="96.3" width="10.1" height="9.6" fill="#adadff"/>
<rect x="739.6" y="96.3" width="10.1" height="9.6" fill="#adadff"/>
<rect x="572.6" y="105.6" width="10.1" height="9.6" fill="#6666ff"/>
<rect x="582.4" y="105.6" width="10.1" height="9.6" fill="#7373ff"/>
<rect x="592.2" y="105.6" width="10.1" height="9.6" fill="#e6e6ff"/>
<rect x="602.1" y="105.6" width="10.1" height="9.6" fill="#ffe0e0"/>
<rect x="611.9" y="105.6" width="10.1" height="9.6" fill="#ffffff"/>
<rect x="621.7" y="105.6" width="10.1" height="9.6" fill="#ff9999"/>
<rect x="631.5" y="105.6" width="10.1" height="9.6" fill="#ff5959"/>
<rect x="641.4" y="105.6" width="10.1" height="9.6" fill="#ff6666"/>
<rect x="651.2" y="105.6" width="10.1" height="9.6" fill="#ff4d4d"/>
<rect x="661" y="105.6" width="10.1" height="9.6" fill="#ff0000"/>
<rect x="670.8" y="105.6" width="10.1" height="9.6" fill="#8c8cff"/>
<rect x="680.6" y="105.6" width="10.1" height="9.6" fill="#8c8cff"/>
<rect x="690.5" y="105.6" width="10.1" height="9.6" fill="#bfbfff"/>
<rect x="700.3" y="105.6" width="10.1" height="9.6" fill="#bfbfff"/>
<rect x="710.1" y="105.6" width="10.1" height="9.6" fill="#9e9eff"/>
<rect x="719.9" y="105.6" width="10.1" height="9.6" fill="#c7c7ff"/>
<rect x="729.8" y="105.6" width="10.1" height="9.6" fill="#b8b8ff"/>
<rect x="739.6" y="105.6" width="10.1" height="9.6" fill="#b8b8ff"/>
<rect x="572.6" y="114.9" width="10.1" height="9.6" fill="#2626ff"/>
<rect x="582.4" y="114.9" width="10.1" height="9.6" fill="#3333ff"/>
<rect x="592.2" y="114.9" width="10.1" height="9.6" fill="#b2b2ff"/>
<rect x="602.1" y="114.9" width="10.1" height="9.6" fill="#e6e6ff"/>
<rect x="611.9" y="114.9" width="10.1" height="9.6" fill="#ffe6e6"/>
<rect x="621.7" y="114.9" width="10.1" height="9.6" fill="#ccccff"/>
<rect x="631.5" y="114.9" width="10.1" height="9.6" fill="#c7c7ff"/>
<rect x="641.4" y="114.9" width="10.1" height="9.6" fill="#8c8cff"/>
<rect x="651.2" y="114.9" width="10.1" height="9.6" fill="#8080ff"/>
<rect x="661" y="114.9" width="10.1" height="9.6" fill="#8c8cff"/>
<rect x="670.8" y="114.9" width="10.1" height="9.6" fill="#ff0000"/>
<rect x="680.6" y="114.9" width="10.1" height="9.6" fill="#ff0505"/>
<rect x="690.5" y="114.9" width="10.1" height="9.6" fill="#ff2626"/>
<rect x="700.3" y="114.9" width="10.1" height="9.6" fill="#ff2626"/>
<rect x="710.1" y="114.9" width="10.1" height="9.6" fill="#ff3838"/>
<rect x="719.9" y="114.9" width="10.1" height="9.6" fill="#ff3838"/>
<rect x="729.8" y="114.9" width="10.1" height="9.6" fill="#ff3838"/>
<rect x="739.6" y="114.9" width="10.1" height="9.6" fill="#ff3838"/>
<rect x="572.6" y="124.2" width="10.1" height="9.6" fill="#2626ff"/>
<rect x="582.4" y="124.2" width="10.1" height="9.6" fill="#3333ff"/>
<rect x="592.2" y="124.2" width="10.1" height="9.6" fill="#b2b2ff"/>
<rect x="602.1" y="124.2" width="10.1" height="9.6" fill="#e6e6ff"/>
<rect x="611.9" y="124.2" width="10.1" height="9.6" fill="#ffe0e0"/>
<rect x="621.7" y="124.2" width="10.1" height="9.6" fill="#ccccff"/>
<rect x="631.5" y="124.2" width="10.1" height="9.6" fill="#bfbfff"/>
<rect x="641.4" y="124.2" width="10.1" height="9.6" fill="#8c8cff"/>
<rect x="651.2" y="124.2" width="10.1" height="9.6" fill="#8080ff"/>
<rect x="661" y="124.2" width="10.1" height="9.6" fill="#8c8cff"/>
<rect x="670.8" y="124.2" width="10.1" height="9.6" fill="#ff0505"/>
<rect x="680.6" y="124.2" width="10.1" height="9.6" fill="#ff0000"/>
<rect x="690.5" y="124.2" width="10.1" height="9.6" fill="#ff2626"/>
<rect x="700.3" y="124.2" width="10.1" height="9.6" fill="#ff2626"/>
<rect x="710.1" y="124.2" width="10.1" height="9.6" fill="#ff3838"/>
<rect x="719.9" y="124.2" width="10.1" height="9.6" fill="#ff3838"/>
<rect x="729.8" y="124.2" width="10.1" height="9.6" fill="#ff3838"/>
<rect x="739.6" y="124.2" width="10.1" height="9.6" fill="#ff3838"/>
<rect x="572.6" y="133.5" width="10.1" height="9.6" fill="#1919ff"/>
<rect x="582.4" y="133.5" width="10.1" height="9.6" fill="#2e2eff"/>
<rect x="592.2" y="133.5" width="10.1" height="9.6" fill="#e6e6ff"/>
<rect x="602.1" y="133.5" width="10.1" height="9.6" fill="#ffd9d9"/>
<rect x="611.9" y="133.5" width="10.1" height="9.6" fill="#ffbfbf"/>
<rect x="621.7" y="133.5" width="10.1" height="9.6" fill="#ffffff"/>
<rect x="631.5" y="133.5" width="10.1" height="9.6" fill="#fffafa"/>
<rect x="641.4" y="133.5" width="10.1" height="9.6" fill="#b2b2ff"/>
<rect x="651.2" y="133.5" width="10.1" height="9.6" fill="#b2b2ff"/>
<rect x="661" y="133.5" width="10.1" height="9.6" fill="#bfbfff"/>
<rect x="670.8" y="133.5" width="10.1" height="9.6" fill="#ff2626"/>
<rect x="680.6" y="133.5" width="10.1" height="9.6" fill="#ff2626"/>
<rect x="690.5" y="133.5" width="10.1" height="9.6" fill="#ff0000"/>
<rect x="700.3" y="133.5" width="10.1" height="9.6" fill="#ff0505"/>
<rect x="710.1" y="133.5" width="10.1" height="9.6" fill="#ff3333"/>
<rect x="719.9" y="133.5" width="10.1" height="9.6" fill="#ff2626"/>
<rect x="729.8" y="133.5" width="10.1" height="9.6" fill="#ff3333"/>
<rect x="739.6" y="133.5" width="10.1" height="9.6" fill="#ff3333"/>
<rect x="572.6" y="142.8" width="10.1" height="9.6" fill="#1414ff"/>
<rect x="582.4" y="142.8" width="10.1" height="9.6" fill="#2626ff"/>
<rect x="592.2" y="142.8" width="10.1" height="9.6" fill="#e6e6ff"/>
<rect x="602.1" y="142.8" width="10.1" height="9.6" fill="#ffbfbf"/>
<rect x="611.9" y="142.8" width="10.1" height="9.6" fill="#ffb2b2"/>
<rect x="621.7" y="142.8" width="10.1" height="9.6" fill="#ffffff"/>
<rect x="631.5" y="142.8" width="10.1" height="9.6" fill="#fff7f7"/>
<rect x="641.4" y="142.8" width="10.1" height="9.6" fill="#b2b2ff"/>
<rect x="651.2" y="142.8" width="10.1" height="9.6" fill="#b2b2ff"/>
<rect x="661" y="142.8" width="10.1" height="9.6" fill="#bfbfff"/>
<rect x="670.8" y="142.8" width="10.1" height="9.6" fill="#ff2626"/>
<rect x="680.6" y="142.8" width="10.1" height="9.6" fill="#ff2626"/>
<rect x="690.5" y="142.8" width="10.1" height="9.6" fill="#ff0505"/>
<rect x="700.3" y="142.8" width="10.1" height="9.6" fill="#ff0000"/>
<rect x="710.1" y="142.8" width="10.1" height="9.6" fill="#ff3333"/>
<rect x="719.9" y="142.8" width="10.1" height="9.6" fill="#ff2424"/>
<rect x="729.8" y="142.8" width="10.1" height="9.6" fill="#ff3333"/>
<rect x="739.6" y="142.8" width="10.1" height="9.6" fill="#ff3333"/>
<rect x="572.6" y="152.2" width="10.1" height="9.6" fill="#4d4dff"/>
<rect x="582.4" y="152.2" width="10.1" height="9.6" fill="#6161ff"/>
<rect x="592.2" y="152.2" width="10.1" height="9.6" fill="#bfbfff"/>
<rect x="602.1" y="152.2" width="10.1" height="9.6" fill="#ffe0e0"/>
<rect x="611.9" y="152.2" width="10.1" height="9.6" fill="#ffcccc"/>
<rect x="621.7" y="152.2" width="10.1" height="9.6" fill="#ebebff"/>
<rect x="631.5" y="152.2" width="10.1" height="9.6" fill="#e6e6ff"/>
<rect x="641.4" y="152.2" width="10.1" height="9.6" fill="#9494ff"/>
<rect x="651.2" y="152.2" width="10.1" height="9.6" fill="#9999ff"/>
<rect x="661" y="152.2" width="10.1" height="9.6" fill="#9e9eff"/>
<rect x="670.8" y="152.2" width="10.1" height="9.6" fill="#ff3838"/>
<rect x="680.6" y="152.2" width="10.1" height="9.6" fill="#ff3838"/>
<rect x="690.5" y="152.2" width="10.1" height="9.6" fill="#ff3333"/>
<rect x="700.3" y="152.2" width="10.1" height="9.6" fill="#ff3333"/>
<rect x="710.1" y="152.2" width="10.1" height="9.6" fill="#ff0000"/>
<rect x="719.9" y="152.2" width="10.1" height="9.6" fill="#ff1f1f"/>
<rect x="729.8" y="152.2" width="10.1" height="9.6" fill="#ff0f0f"/>
<rect x="739.6" y="152.2" width="10.1" height="9.6" fill="#ff0f0f"/>
<rect x="572.6" y="161.5" width="10.1" height="9.6" fill="#4d4dff"/>
<rect x="582.4" y="161.5" width="10.1" height="9.6" fill="#5959ff"/>
<rect x="592.2" y="161.5" width="10.1" height="9.6" fill="#e6e6ff"/>
<rect x="602.1" y="161.5" width="10.1" height="9.6" fill="#ffb8b8"/>
<rect x="611.9" y="161.5" width="10.1" height="9.6" fill="#ffb2b2"/>
<rect x="621.7" y="161.5" width="10.1" height="9.6" fill="#ffebeb"/>
<rect x="631.5" y="161.5" width="10.1" height="9.6" fill="#ffffff"/>
<rect x="641.4" y="161.5" width="10.1" height="9.6" fill="#adadff"/>
<rect x="651.2" y="161.5" width="10.1" height="9.6" fill="#b2b2ff"/>
<rect x="661" y="161.5" width="10.1" height="9.6" fill="#c7c7ff"/>
<rect x="670.8" y="161.5" width="10.1" height="9.6" fill="#ff3838"/>
<rect x="680.6" y="161.5" width="10.1" height="9.6" fill="#ff3838"/>
<rect x="690.5" y="161.5" width="10.1" height="9.6" fill="#ff2626"/>
<rect x="700.3" y="161.5" width="10.1" height="9.6" fill="#ff2424"/>
<rect x="710.1" y="161.5" width="10.1" height="9.6" fill="#ff1f1f"/>
<rect x="719.9" y="161.5" width="10.1" height="9.6" fill="#ff0000"/>
<rect x="729.8" y="161.5" width="10.1" height="9.6" fill="#ff1919"/>
<rect x="739.6" y="161.5" width="10.1" height="9.6" fill="#ff1919"/>
<rect x="572.6" y="170.8" width="10.1" height="9.6" fill="#5252ff"/>
<rect x="582.4" y="170.8" width="10.1" height="9.6" fill="#6666ff"/>
<rect x="592.2" y="170.8" width="10.1" height="9.6" fill="#ccccff"/>
<rect x="602.1" y="170.8" width="10.1" height="9.6" fill="#ffbfbf"/>
<rect x="611.9" y="170.8" width="10.1" height="9.6" fill="#ffc7c7"/>
<rect x="621.7" y="170.8" width="10.1" height="9.6" fill="#ffffff"/>
<rect x="631.5" y="170.8" width="10.1" height="9.6" fill="#fafaff"/>
<rect x="641.4" y="170.8" width="10.1" height="9.6" fill="#9e9eff"/>
<rect x="651.2" y="170.8" width="10.1" height="9.6" fill="#adadff"/>
<rect x="661" y="170.8" width="10.1" height="9.6" fill="#b8b8ff"/>
<rect x="670.8" y="170.8" width="10.1" height="9.6" fill="#ff3838"/>
<rect x="680.6" y="170.8" width="10.1" height="9.6" fill="#ff3838"/>
<rect x="690.5" y="170.8" width="10.1" height="9.6" fill="#ff3333"/>
<rect x="700.3" y="170.8" width="10.1" height="9.6" fill="#ff3333"/>
<rect x="710.1" y="170.8" width="10.1" height="9.6" fill="#ff0f0f"/>
<rect x="719.9" y="170.8" width="10.1" height="9.6" fill="#ff1919"/>
<rect x="729.8" y="170.8" width="10.1" height="9.6" fill="#ff0000"/>
<rect x="739.6" y="170.8" width="10.1" height="9.6" fill="#ff0505"/>
<rect x="572.6" y="180.1" width="10.1" height="9.6" fill="#5252ff"/>
<rect x="582.4" y="180.1" width="10.1" height="9.6" fill="#6666ff"/>
<rect x="592.2" y="180.1" width="10.1" height="9.6" fill="#ccccff"/>
<rect x="602.1" y="180.1" width="10.1" height="9.6" fill="#ffbfbf"/>
<rect x="611.9" y="180.1" width="10.1" height="9.6" fill="#ffbfbf"/>
<rect x="621.7" y="180.1" width="10.1" height="9.6" fill="#ffffff"/>
<rect x="631.5" y="180.1" width="10.1" height="9.6" fill="#fafaff"/>
<rect x="641.4" y="180.1" width="10.1" height="9.6" fill="#9e9eff"/>
<rect x="651.2" y="180.1" width="10.1" height="9.6" fill="#adadff"/>
<rect x="661" y="180.1" width="10.1" height="9.6" fill="#b8b8ff"/>
<rect x="670.8" y="180.1" width="10.1" height="9.6" fill="#ff3838"/>
<rect x="680.6" y="180.1" width="10.1" height="9.6" fill="#ff3838"/>
<rect x="690.5" y="180.1" width="10.1" height="9.6" fill="#ff3333"/>
<rect x="700.3" y="180.1" width="10.1" height="9.6" fill="#ff3333"/>
<rect x="710.1" y="180.1" width="10.1" height="9.6" fill="#ff0f0f"/>
<rect x="719.9" y="180.1" width="10.1" height="9.6" fill="#ff1919"/>
<rect x="729.8" y="180.1" width="10.1" height="9.6" fill="#ff0505"/>
<rect x="739.6" y="180.1" width="10.1" height="9.6" fill="#ff0000"/>
</g>
<rect x="749.4" y="21.8" width="1" height="93.1" fill="#fff"/>
<text x="752" y="28.8" font-size="6.50" fill="#111" text-anchor="start" stroke="#111" stroke-width="0.18">E20(2.0M)</text>
<text x="752" y="38.1" font-size="6.50" fill="#111" text-anchor="start" stroke="#111" stroke-width="0.18">E16(3.9M)</text>
<text x="752" y="47.4" font-size="6.50" fill="#111" text-anchor="start" stroke="#111" stroke-width="0.18">E0(2.1M)</text>
<text x="752" y="56.7" font-size="6.50" fill="#111" text-anchor="start" stroke="#111" stroke-width="0.18">AF(2.9M)</text>
<text x="752" y="66" font-size="6.50" fill="#3a28c0" text-anchor="start" stroke="#3a28c0" stroke-width="0.18">GC</text>
<text x="752" y="75.3" font-size="6.50" fill="#111" text-anchor="start" stroke="#111" stroke-width="0.18">AM(13.4M)</text>
<text x="752" y="84.6" font-size="6.50" fill="#111" text-anchor="start" stroke="#111" stroke-width="0.18">E4(8.9M)</text>
<text x="752" y="93.9" font-size="6.50" fill="#111" text-anchor="start" stroke="#111" stroke-width="0.18">E12(12.6M)</text>
<text x="752" y="103.2" font-size="6.50" fill="#111" text-anchor="start" stroke="#111" stroke-width="0.18">C200(7.3M)</text>
<text x="752" y="112.6" font-size="6.50" fill="#111" text-anchor="start" stroke="#111" stroke-width="0.18">C500(8.1M)</text>
<text x="752" y="121.9" font-size="6.50" fill="#111" text-anchor="start" stroke="#111" stroke-width="0.18">E12b,chip</text>
<text x="752" y="131.2" font-size="6.50" fill="#111" text-anchor="start" stroke="#111" stroke-width="0.18">E12a,chip</text>
<text x="752" y="140.5" font-size="6.50" fill="#111" text-anchor="start" stroke="#111" stroke-width="0.18">E0b,chip</text>
<text x="752" y="149.8" font-size="6.50" fill="#111" text-anchor="start" stroke="#111" stroke-width="0.18">E0a,chip</text>
<text x="752" y="159.1" font-size="6.50" fill="#111" text-anchor="start" stroke="#111" stroke-width="0.18">E16a,chip</text>
<text x="752" y="168.4" font-size="6.50" fill="#111" text-anchor="start" stroke="#111" stroke-width="0.18">E16b,chip</text>
<text x="752" y="177.7" font-size="6.50" fill="#111" text-anchor="start" stroke="#111" stroke-width="0.18">E20b,chip</text>
<text x="752" y="187" font-size="6.50" fill="#111" text-anchor="start" stroke="#111" stroke-width="0.18">E20a,chip</text>
<text x="579.8" y="192.5" font-size="6.50" fill="#111" text-anchor="end" transform="rotate(-90 579.8 192.5)" stroke="#111" stroke-width="0.18">E20</text>
<text x="589.6" y="192.5" font-size="6.50" fill="#111" text-anchor="end" transform="rotate(-90 589.6 192.5)" stroke="#111" stroke-width="0.18">E16</text>
<text x="599.5" y="192.5" font-size="6.50" fill="#111" text-anchor="end" transform="rotate(-90 599.5 192.5)" stroke="#111" stroke-width="0.18">E0</text>
<text x="609.3" y="192.5" font-size="6.50" fill="#111" text-anchor="end" transform="rotate(-90 609.3 192.5)" stroke="#111" stroke-width="0.18">AF</text>
<text x="619.1" y="192.5" font-size="6.50" fill="#3a28c0" text-anchor="end" transform="rotate(-90 619.1 192.5)" stroke="#3a28c0" stroke-width="0.18">GC</text>
<text x="628.9" y="192.5" font-size="6.50" fill="#111" text-anchor="end" transform="rotate(-90 628.9 192.5)" stroke="#111" stroke-width="0.18">AM</text>
<text x="638.7" y="192.5" font-size="6.50" fill="#111" text-anchor="end" transform="rotate(-90 638.7 192.5)" stroke="#111" stroke-width="0.18">E4</text>
<text x="648.6" y="192.5" font-size="6.50" fill="#111" text-anchor="end" transform="rotate(-90 648.6 192.5)" stroke="#111" stroke-width="0.18">E12</text>
<text x="658.4" y="192.5" font-size="6.50" fill="#111" text-anchor="end" transform="rotate(-90 658.4 192.5)" stroke="#111" stroke-width="0.18">C200</text>
<text x="668.2" y="192.5" font-size="6.50" fill="#111" text-anchor="end" transform="rotate(-90 668.2 192.5)" stroke="#111" stroke-width="0.18">C500</text>
<text x="678" y="192.5" font-size="6.50" fill="#111" text-anchor="end" transform="rotate(-90 678 192.5)" stroke="#111" stroke-width="0.18">E12b,chip</text>
<text x="687.9" y="192.5" font-size="6.50" fill="#111" text-anchor="end" transform="rotate(-90 687.9 192.5)" stroke="#111" stroke-width="0.18">E12a,chip</text>
<text x="697.7" y="192.5" font-size="6.50" fill="#111" text-anchor="end" transform="rotate(-90 697.7 192.5)" stroke="#111" stroke-width="0.18">E0b,chip</text>
<text x="707.5" y="192.5" font-size="6.50" fill="#111" text-anchor="end" transform="rotate(-90 707.5 192.5)" stroke="#111" stroke-width="0.18">E0a,chip</text>
<text x="717.3" y="192.5" font-size="6.50" fill="#111" text-anchor="end" transform="rotate(-90 717.3 192.5)" stroke="#111" stroke-width="0.18">E16a,chip</text>
<text x="727.1" y="192.5" font-size="6.50" fill="#111" text-anchor="end" transform="rotate(-90 727.1 192.5)" stroke="#111" stroke-width="0.18">E16b,chip</text>
<text x="737" y="192.5" font-size="6.50" fill="#111" text-anchor="end" transform="rotate(-90 737 192.5)" stroke="#111" stroke-width="0.18">E20b,chip</text>
<text x="746.8" y="192.5" font-size="6.50" fill="#111" text-anchor="end" transform="rotate(-90 746.8 192.5)" stroke="#111" stroke-width="0.18">E20a,chip</text>
<rect x="611.8" y="10.8" width="10.5" height="194.8" fill="none" stroke="#000" stroke-width="1.5"/>
<rect x="572.6" y="59.9" width="195" height="9.5" fill="none" stroke="#000" stroke-width="1.5"/>
<path d="M556.5 26.5 H571.2M556.5 35.8 H571.2M556.5 26.5 V35.8M519.5 31.1 H556.5M563.8 54.4 H571.2M563.8 63.7 H571.2M563.8 54.4 V63.7M553 45.1 H571.2M553 59 H563.8M553 45.1 V59M562.3 73 H571.2M562.3 82.3 H571.2M562.3 73 V82.3M565.3 100.9 H571.2M565.3 110.3 H571.2M565.3 100.9 V110.3M562 91.6 H571.2M562 105.6 H565.3M562 91.6 V105.6M553.5 77.7 H562.3M553.5 98.6 H562M553.5 77.7 V98.6M542.6 52.1 H553M542.6 88.1 H553.5M542.6 52.1 V88.1M569 119.6 H571.2M569 128.9 H571.2M569 119.6 V128.9M569.4 138.2 H571.2M569.4 147.5 H571.2M569.4 138.2 V147.5M570.3 175.4 H571.2M570.3 184.7 H571.2M570.3 175.4 V184.7M568.3 166.1 H571.2M568.3 180.1 H570.3M568.3 166.1 V180.1M566.7 156.8 H571.2M566.7 173.1 H568.3M566.7 156.8 V173.1M564.1 142.8 H569.4M564.1 165 H566.7M564.1 142.8 V165M561 124.2 H569M561 153.9 H564.1M561 124.2 V153.9M530.9 70.1 H542.6M530.9 139.1 H561M530.9 70.1 V139.1M519.5 104.6 H530.9M519.5 31.1 V104.6" fill="none" stroke="#000" stroke-width="1.1" stroke-linecap="square"/>
<defs><linearGradient id="bwr" x1="0" x2="1" y1="0" y2="0"><stop offset="0" stop-color="#0000ff"/><stop offset="0.12" stop-color="#0000ff"/><stop offset="0.55" stop-color="#ffffff"/><stop offset="0.9" stop-color="#ff0000"/><stop offset="1" stop-color="#ff0000"/></linearGradient></defs>
<rect x="533.3" y="160.4" width="23.6" height="9.2" fill="url(#bwr)" stroke="#000" stroke-width="0.8"/>
<path d="M534.6 169.7 v3.3M538.9 169.7 v3.3M543.2 169.7 v3.3M547.5 169.7 v3.3M551.8 169.7 v3.3M556.1 169.7 v3.3" stroke="#000" stroke-width="1.2" fill="none"/>
<text x="535" y="179.7" font-size="5.40" fill="#222" text-anchor="middle">0</text>
<text x="548" y="179.7" font-size="5.40" fill="#222" text-anchor="middle">0.6</text>
<text x="556.8" y="179.7" font-size="5.40" fill="#222" text-anchor="middle">1</text>
<text x="545.2" y="186.4" font-size="5.70" fill="#222" text-anchor="middle" textLength="25.5" lengthAdjust="spacingAndGlyphs">Spearman</text>
<text x="545.2" y="193.7" font-size="5.70" fill="#222" text-anchor="middle" textLength="26.5" lengthAdjust="spacingAndGlyphs">correlation</text>
</g>
<g id="panel-c">
<rect x="7" y="243.3" width="491.3" height="387.5" fill="#fff" stroke="#777" stroke-width="2"/>
<text x="18.5" y="271.7" font-size="17.60" fill="#111" text-anchor="start">(c)</text>
<rect x="96.2" y="257.3" width="112.7" height="22.7" fill="#ffbfcf"/>
<text x="150.4" y="273.8" font-size="14.30" fill="#111" text-anchor="middle">INPUT-seq, TSS</text>
<path d="M150.5 290 V408.5" stroke="#b8b8b8" stroke-width="1.8" stroke-dasharray="5.5 3.6" fill="none"/>
<path d="M50.6 344.9 L52.6 346.2 L54.6 347.4 L56.6 348.5 L58.6 349.5 L60.6 350.3 L62.6 350.8 L64.6 351.1 L66.6 351.2 L68.6 351.1 L70.6 351 L72.6 350.9 L74.6 350.8 L76.6 350.6 L78.6 350.4 L80.6 350.3 L82.6 350 L84.6 349.6 L86.6 349.1 L88.6 348.6 L90.6 348.2 L92.6 347.8 L94.6 347.6 L96.6 347.6 L98.6 347.6 L100.6 347.6 L102.5 347.6 L104.5 347.6 L106.5 347.6 L108.5 348 L110.5 348.7 L112.5 349.6 L114.5 350.6 L116.5 351.8 L118.5 353.7 L120.5 356.2 L122.5 359.2 L124.5 363.4 L126.5 369.6 L128.5 376.6 L130.5 383.2 L132.5 390.2 L134.5 397 L136.5 400.1 L138.5 399.9 L140.5 399.2 L142.5 392.2 L144.5 379.6 L146.5 364.4 L148.5 349.7 L150.5 338.7 L152.5 330.3 L154.5 323.4 L156.5 318.7 L158.5 314.9 L160.5 312.9 L162.5 312.3 L164.5 312 L166.5 312.2 L168.5 313.7 L170.5 315.6 L172.5 317.6 L174.5 320 L176.5 322.6 L178.5 325.1 L180.5 327.5 L182.5 330 L184.5 332.3 L186.5 334.3 L188.5 336.2 L190.5 337.8 L192.5 339.3 L194.5 340.5 L196.5 341.7 L198.5 342.6 L200.5 343.2 L202.4 343.4 L204.4 343.7 L206.4 343.9 L208.4 344 L210.4 344 L212.4 344 L214.4 344 L216.4 344 L218.4 344 L220.4 344 L222.4 343.8 L224.4 343.3 L226.4 342.5 L228.4 341.9 L230.4 341.4 L232.4 341 L234.4 340.7 L236.4 340.5 L238.4 340.5 L240.4 341.1 L242.4 342.2 L244.4 343.5 L246.4 344.6 L248.4 345.6" fill="none" stroke="#FF0000" stroke-width="2.1" stroke-linejoin="round" stroke-linecap="round"/>
<path d="M50.6 356.5 L52.6 356.5 L54.6 356.5 L56.6 356.5 L58.6 356.5 L60.6 356.5 L62.6 356.5 L64.6 356.5 L66.6 356.5 L68.6 356.3 L70.6 356.1 L72.6 355.7 L74.6 355.3 L76.6 354.8 L78.6 354.3 L80.6 353.8 L82.6 353.3 L84.6 352.6 L86.6 351.8 L88.6 350.9 L90.6 350.1 L92.6 349.4 L94.6 348.7 L96.6 348.3 L98.6 347.8 L100.6 347.3 L102.5 346.9 L104.5 346.7 L106.5 346.7 L108.5 346.8 L110.5 346.9 L112.5 347.2 L114.5 347.4 L116.5 348 L118.5 349.7 L120.5 352.5 L122.5 355.7 L124.5 359.5 L126.5 364.6 L128.5 370.4 L130.5 376.1 L132.5 382.6 L134.5 389.1 L136.5 392.1 L138.5 391.6 L140.5 390.3 L142.5 381.2 L144.5 365.4 L146.5 346.6 L148.5 330 L150.5 319.1 L152.5 312.3 L154.5 308.4 L156.5 307.1 L158.5 306.7 L160.5 307.9 L162.5 309.8 L164.5 311.5 L166.5 313.2 L168.5 315.2 L170.5 317.3 L172.5 319.9 L174.5 322.9 L176.5 325.9 L178.5 328.7 L180.5 331.2 L182.5 333.6 L184.5 335.8 L186.5 337.9 L188.5 339.9 L190.5 341.7 L192.5 343.6 L194.5 345.6 L196.5 347.7 L198.5 349.7 L200.5 351.2 L202.4 352.1 L204.4 352.9 L206.4 353.6 L208.4 354.2 L210.4 354.7 L212.4 355.2 L214.4 355.7 L216.4 356.1 L218.4 356.4 L220.4 356.5 L222.4 356.5 L224.4 356.5 L226.4 356.5 L228.4 356.5 L230.4 356.5 L232.4 356.6 L234.4 357 L236.4 357.4 L238.4 357.9 L240.4 358.3 L242.4 358.6 L244.4 359 L246.4 359.3 L248.4 359.7" fill="none" stroke="#FF9900" stroke-width="2.1" stroke-linejoin="round" stroke-linecap="round"/>
<path d="M50.6 356.5 L52.6 356.4 L54.6 356.3 L56.6 356.2 L58.6 356.1 L60.6 356 L62.6 355.8 L64.6 355.7 L66.6 355.5 L68.6 355.4 L70.6 355.2 L72.6 355 L74.6 354.7 L76.6 354.5 L78.6 354.2 L80.6 353.8 L82.6 353.4 L84.6 352.7 L86.6 351.9 L88.6 351 L90.6 350.2 L92.6 349.4 L94.6 348.7 L96.6 348.3 L98.6 347.8 L100.6 347.3 L102.5 346.9 L104.5 346.7 L106.5 346.7 L108.5 346.7 L110.5 346.7 L112.5 346.7 L114.5 346.7 L116.5 346.9 L118.5 348 L120.5 350 L122.5 352.3 L124.5 355.3 L126.5 359.7 L128.5 364.7 L130.5 369 L132.5 373.1 L134.5 376.8 L136.5 377.7 L138.5 373.8 L140.5 365.5 L142.5 347.3 L144.5 323.3 L146.5 300 L148.5 289.4 L150.5 289.2 L152.5 294.2 L154.5 300.3 L156.5 305.2 L158.5 308.9 L160.5 312 L162.5 314.6 L164.5 317 L166.5 319.2 L168.5 321.5 L170.5 323.9 L172.5 326.3 L174.5 328.7 L176.5 330.9 L178.5 333.2 L180.5 335.3 L182.5 337.5 L184.5 339.5 L186.5 341.5 L188.5 343.4 L190.5 345.3 L192.5 347.1 L194.5 348.7 L196.5 350 L198.5 351.2 L200.5 352.4 L202.4 353.4 L204.4 354.3 L206.4 355.1 L208.4 356 L210.4 356.7 L212.4 357.4 L214.4 358 L216.4 358.5 L218.4 359 L220.4 359.5 L222.4 359.8 L224.4 360 L226.4 360.1 L228.4 360.1 L230.4 360.1 L232.4 360.1 L234.4 360.1 L236.4 360.1 L238.4 360.1 L240.4 360.1 L242.4 360.1 L244.4 360.3 L246.4 360.5 L248.4 360.7" fill="none" stroke="#CCFF00" stroke-width="2.1" stroke-linejoin="round" stroke-linecap="round"/>
<path d="M50.6 353.8 L52.6 355.3 L54.6 355.8 L56.6 357.3 L58.6 356.2 L60.6 356.7 L62.6 357 L64.6 356.7 L66.6 356.8 L68.6 357.8 L70.6 357.9 L72.6 358 L74.6 357.8 L76.6 358.4 L78.6 359.7 L80.6 359.8 L82.6 358.3 L84.6 356.6 L86.6 355.9 L88.6 354.6 L90.6 352.4 L92.6 352 L94.6 350.4 L96.6 348.9 L98.6 348.6 L100.6 348.5 L102.5 347.8 L104.5 348.3 L106.5 347.9 L108.5 348 L110.5 347.7 L112.5 347.9 L114.5 348 L116.5 348.5 L118.5 348.8 L120.5 349.3 L122.5 350.4 L124.5 351.9 L126.5 355.7 L128.5 356.3 L130.5 359.5 L132.5 362.5 L134.5 363.5 L136.5 363.5 L138.5 362.4 L140.5 362.4 L142.5 356.9 L144.5 348.3 L146.5 340.6 L148.5 330.6 L150.5 320.6 L152.5 312.2 L154.5 304.8 L156.5 301.2 L158.5 298.6 L160.5 297.7 L162.5 297.4 L164.5 299.4 L166.5 300.8 L168.5 305 L170.5 311.1 L172.5 313.9 L174.5 319.3 L176.5 322.8 L178.5 325 L180.5 329.8 L182.5 332.8 L184.5 335 L186.5 339.9 L188.5 342.9 L190.5 345.5 L192.5 348.7 L194.5 351.8 L196.5 354.6 L198.5 356.3 L200.5 358.2 L202.4 360 L204.4 361.8 L206.4 362.5 L208.4 363.7 L210.4 362.7 L212.4 364.4 L214.4 363.1 L216.4 362.6 L218.4 364.1 L220.4 363.7 L222.4 363.4 L224.4 362.4 L226.4 363 L228.4 361.8 L230.4 361.1 L232.4 360 L234.4 358.6 L236.4 359.9 L238.4 360.7 L240.4 362.3 L242.4 363.1 L244.4 364.3 L246.4 362.8 L248.4 362.6" fill="none" stroke="#33FF00" stroke-width="2.1" stroke-linejoin="round" stroke-linecap="round"/>
<path d="M50.6 356 L52.6 357 L54.6 358.4 L56.6 358.3 L58.6 357.7 L60.6 358.3 L62.6 358.3 L64.6 357.3 L66.6 357.1 L68.6 358.3 L70.6 357.2 L72.6 359.5 L74.6 360 L76.6 359 L78.6 360 L80.6 359.8 L82.6 359.3 L84.6 358.4 L86.6 356.4 L88.6 355.1 L90.6 354.6 L92.6 352.7 L94.6 351.7 L96.6 349.8 L98.6 350.6 L100.6 349.4 L102.5 349.1 L104.5 348.5 L106.5 347.1 L108.5 347.5 L110.5 347.8 L112.5 347.5 L114.5 347.2 L116.5 348.1 L118.5 347.7 L120.5 346.8 L122.5 347.8 L124.5 349.8 L126.5 351.9 L128.5 353.4 L130.5 356.3 L132.5 356.9 L134.5 358.1 L136.5 357.9 L138.5 357.8 L140.5 355.7 L142.5 350.2 L144.5 343.7 L146.5 337 L148.5 327.4 L150.5 318.6 L152.5 311.9 L154.5 305.3 L156.5 302.2 L158.5 300.5 L160.5 299.2 L162.5 300 L164.5 301.1 L166.5 304.4 L168.5 308.3 L170.5 312 L172.5 316.5 L174.5 320.6 L176.5 324.9 L178.5 327.6 L180.5 330.1 L182.5 333.5 L184.5 336.8 L186.5 341.2 L188.5 344.1 L190.5 347.8 L192.5 349.9 L194.5 353.2 L196.5 355.5 L198.5 357.2 L200.5 357.5 L202.4 358.7 L204.4 359.5 L206.4 361.2 L208.4 361.6 L210.4 363.6 L212.4 363.1 L214.4 364.5 L216.4 364.4 L218.4 364.4 L220.4 365.1 L222.4 364.7 L224.4 363.8 L226.4 362.7 L228.4 363.7 L230.4 363 L232.4 362.2 L234.4 362.8 L236.4 362.9 L238.4 363.3 L240.4 364.5 L242.4 365.6 L244.4 364.5 L246.4 365 L248.4 363.8" fill="none" stroke="#00FF66" stroke-width="2.1" stroke-linejoin="round" stroke-linecap="round"/>
<path d="M50.6 354.7 L52.6 354.6 L54.6 354.5 L56.6 354.4 L58.6 354.2 L60.6 354.1 L62.6 354 L64.6 353.9 L66.6 353.8 L68.6 353.7 L70.6 353.6 L72.6 353.5 L74.6 353.4 L76.6 353.3 L78.6 353.1 L80.6 352.9 L82.6 352.7 L84.6 352.3 L86.6 351.8 L88.6 351.3 L90.6 350.8 L92.6 350.2 L94.6 349.6 L96.6 349.1 L98.6 348.4 L100.6 347.7 L102.5 347.1 L104.5 346.8 L106.5 346.7 L108.5 346.8 L110.5 346.9 L112.5 347.2 L114.5 347.4 L116.5 347.9 L118.5 349.3 L120.5 351.4 L122.5 354 L124.5 357.5 L126.5 362.8 L128.5 368.7 L130.5 374.3 L132.5 380.2 L134.5 386 L136.5 388.5 L138.5 388 L140.5 386.8 L142.5 380 L144.5 367.7 L146.5 356.2 L148.5 344.2 L150.5 333.4 L152.5 324.2 L154.5 316.5 L156.5 311.5 L158.5 307.7 L160.5 305.8 L162.5 305.2 L164.5 304.9 L166.5 305.4 L168.5 308.4 L170.5 312 L172.5 315.2 L174.5 318.7 L176.5 322.1 L178.5 325.2 L180.5 328.2 L182.5 331.1 L184.5 333.8 L186.5 336.4 L188.5 339 L190.5 341.5 L192.5 343.6 L194.5 345.3 L196.5 346.9 L198.5 348.3 L200.5 349.4 L202.4 350.4 L204.4 351.3 L206.4 352.1 L208.4 352.7 L210.4 352.9 L212.4 352.9 L214.4 352.9 L216.4 352.9 L218.4 352.9 L220.4 352.9 L222.4 352.9 L224.4 352.9 L226.4 352.9 L228.4 352.9 L230.4 352.9 L232.4 353.1 L234.4 353.4 L236.4 353.8 L238.4 354.3 L240.4 354.7 L242.4 355.2 L244.4 355.7 L246.4 356.2 L248.4 356.8" fill="none" stroke="#00FFFF" stroke-width="2.1" stroke-linejoin="round" stroke-linecap="round"/>
<path d="M50.6 351.2 L52.6 351.7 L54.6 352.2 L56.6 352.6 L58.6 352.8 L60.6 352.9 L62.6 352.9 L64.6 352.9 L66.6 352.8 L68.6 352.6 L70.6 352.5 L72.6 352.3 L74.6 352.1 L76.6 352 L78.6 351.7 L80.6 351.4 L82.6 351 L84.6 350.6 L86.6 350.2 L88.6 349.8 L90.6 349.4 L92.6 348.9 L94.6 348.3 L96.6 347.7 L98.6 347.1 L100.6 346.5 L102.5 346.1 L104.5 345.9 L106.5 345.8 L108.5 346 L110.5 346.3 L112.5 346.7 L114.5 347.3 L116.5 348.1 L118.5 349.8 L120.5 352.5 L122.5 355.7 L124.5 359.8 L126.5 366 L128.5 373 L130.5 379.6 L132.5 386.9 L134.5 394.2 L136.5 397.4 L138.5 396.9 L140.5 395.7 L142.5 391.3 L144.5 383.6 L146.5 375.5 L148.5 365.7 L150.5 356.5 L152.5 348.7 L154.5 341.8 L156.5 335.8 L158.5 330.4 L160.5 326.2 L162.5 323 L164.5 320.6 L166.5 319.7 L168.5 319.3 L170.5 319.1 L172.5 320 L174.5 321.9 L176.5 323.4 L178.5 324.9 L180.5 326.3 L182.5 327.7 L184.5 329 L186.5 330.2 L188.5 331.4 L190.5 332.5 L192.5 333.5 L194.5 334.5 L196.5 335.5 L198.5 336.3 L200.5 336.9 L202.4 337.4 L204.4 337.9 L206.4 338.3 L208.4 338.6 L210.4 338.7 L212.4 338.7 L214.4 338.7 L216.4 338.7 L218.4 338.7 L220.4 338.7 L222.4 338.5 L224.4 338.1 L226.4 337.5 L228.4 337.1 L230.4 336.9 L232.4 336.9 L234.4 336.9 L236.4 336.9 L238.4 336.9 L240.4 337.6 L242.4 338.7 L244.4 339.9 L246.4 341 L248.4 342.1" fill="none" stroke="#0066FF" stroke-width="2.1" stroke-linejoin="round" stroke-linecap="round"/>
<path d="M50.6 350.3 L52.6 351.9 L54.6 355.1 L56.6 355.8 L58.6 356.2 L60.6 358.8 L62.6 359.7 L64.6 360.6 L66.6 360.5 L68.6 358.7 L70.6 355.7 L72.6 353.4 L74.6 352.6 L76.6 353 L78.6 354.1 L80.6 354.4 L82.6 356.6 L84.6 357.8 L86.6 358.2 L88.6 357.9 L90.6 354.9 L92.6 354.4 L94.6 352.3 L96.6 350.4 L98.6 348.9 L100.6 346.8 L102.5 347.2 L104.5 344 L106.5 341.9 L108.5 339.9 L110.5 337 L112.5 337.8 L114.5 338.3 L116.5 340.4 L118.5 344.4 L120.5 348 L122.5 351.6 L124.5 356.2 L126.5 360.5 L128.5 367.3 L130.5 372.9 L132.5 377.8 L134.5 382.9 L136.5 385.1 L138.5 384.5 L140.5 381.8 L142.5 373.5 L144.5 359.1 L146.5 347.5 L148.5 334.7 L150.5 324.4 L152.5 316.8 L154.5 310.4 L156.5 306.3 L158.5 304 L160.5 304.4 L162.5 304.5 L164.5 305.4 L166.5 306.7 L168.5 308.2 L170.5 311.6 L172.5 314.4 L174.5 317.6 L176.5 322.3 L178.5 325.3 L180.5 328.2 L182.5 330.5 L184.5 333.9 L186.5 336.1 L188.5 338.4 L190.5 340.8 L192.5 343.3 L194.5 345.7 L196.5 347.6 L198.5 347.5 L200.5 349.1 L202.4 351.1 L204.4 352.2 L206.4 353.3 L208.4 354.9 L210.4 354.6 L212.4 355.7 L214.4 355.9 L216.4 355.7 L218.4 356.5 L220.4 356.2 L222.4 356.3 L224.4 356.5 L226.4 356.5 L228.4 355.5 L230.4 356.6 L232.4 355.9 L234.4 357.8 L236.4 357.8 L238.4 359.1 L240.4 360.4 L242.4 362.4 L244.4 361.1 L246.4 363.7 L248.4 364.7" fill="none" stroke="#3300FF" stroke-width="2.1" stroke-linejoin="round" stroke-linecap="round"/>
<path d="M50.6 360 L52.6 360.7 L54.6 361.1 L56.6 361.7 L58.6 362.6 L60.6 361.4 L62.6 362.2 L64.6 361.4 L66.6 360.8 L68.6 360 L70.6 360.2 L72.6 359.4 L74.6 358 L76.6 357.4 L78.6 355.4 L80.6 354.4 L82.6 353.6 L84.6 352.1 L86.6 351.7 L88.6 350 L90.6 349.5 L92.6 350.7 L94.6 349 L96.6 349.1 L98.6 347.8 L100.6 347.5 L102.5 346.6 L104.5 346.5 L106.5 345.8 L108.5 346.1 L110.5 347.2 L112.5 346.6 L114.5 346.9 L116.5 347.3 L118.5 348.4 L120.5 348.5 L122.5 351.9 L124.5 354.1 L126.5 358.9 L128.5 364.2 L130.5 372.3 L132.5 376.3 L134.5 381.8 L136.5 383 L138.5 381.3 L140.5 380.5 L142.5 371.6 L144.5 357.3 L146.5 345.6 L148.5 335 L150.5 323.8 L152.5 315.8 L154.5 308 L156.5 305.2 L158.5 304 L160.5 303.4 L162.5 302.9 L164.5 305.1 L166.5 305.9 L168.5 308.3 L170.5 311.5 L172.5 314.8 L174.5 319.4 L176.5 320.9 L178.5 325.3 L180.5 328.2 L182.5 331.1 L184.5 333.9 L186.5 336.9 L188.5 339.1 L190.5 340.7 L192.5 344.3 L194.5 346.8 L196.5 347.1 L198.5 348.8 L200.5 349.9 L202.4 350.3 L204.4 352.5 L206.4 352.8 L208.4 353.2 L210.4 353.2 L212.4 353.5 L214.4 354.7 L216.4 355.1 L218.4 354.7 L220.4 355.6 L222.4 354.4 L224.4 355.6 L226.4 355.9 L228.4 356.6 L230.4 355.7 L232.4 356.7 L234.4 357.4 L236.4 357.1 L238.4 357.9 L240.4 358 L242.4 358.2 L244.4 359.8 L246.4 360.3 L248.4 361.4" fill="none" stroke="#CC00FF" stroke-width="2.1" stroke-linejoin="round" stroke-linecap="round"/>
<path d="M50.6 342.3 L51.8 344.9 L53.1 347.6 L54.3 346.3 L55.6 344.9 L56.8 343.6 L58.1 342.3 L59.3 342.5 L60.6 342.7 L61.8 342.9 L63.1 343.2 L64.3 344.3 L65.6 345.4 L66.8 346.5 L68.1 347.6 L69.3 347.4 L70.6 347.2 L71.8 346.9 L73.1 346.7 L74.3 344.5 L75.6 342.3 L76.8 343.4 L78.1 344.5 L79.3 345.6 L80.6 344.5 L81.8 343 L83.1 341.4 L84.3 342.3 L85.6 343.2 L86.8 344 L88.1 344.9 L89.3 344.7 L90.6 344.5 L91.8 344.3 L93.1 344 L94.3 344.9 L95.6 345.8 L96.8 346.7 L98.1 347.6 L99.3 347.4 L100.6 347.2 L101.8 346.9 L103 346.7 L104.3 347.4 L105.5 348 L106.8 348.7 L108 349.4 L109.3 349.6 L110.5 349.8 L111.8 350 L113 350.3 L114.3 351.4 L115.5 352.5 L116.8 353.6 L118 354.7 L119.3 356.9 L120.5 359.2 L121.8 361.4 L123 363.6 L124.3 367.2 L125.5 370.7 L126.8 374.3 L128 377.9 L129.3 382.3 L130.5 386.8 L131.8 391.2 L133 395.7 L134.3 397.9 L135.5 400.1 L136.8 402.3 L138 403.8 L139.3 404.2 L140.5 404.6 L141.8 402.3 L143 400.1 L144.3 393 L145.5 382.6 L146.8 372.2 L148 361.5 L149.3 352.6 L150.5 350.8 L151.7 348.5 L153 344 L154.2 340.5 L155.5 337.5 L156.7 335.1 L158 334.7 L159.2 334.3 L160.5 333.5 L161.7 332.5 L163 331.6 L164.2 331 L165.5 330.5 L166.7 329.9 L168 329.4 L169.2 328.9 L170.5 328.4 L171.7 328.2 L173 329.4 L174.2 330.5 L175.5 331.6 L176.7 333.8 L178 336 L179.2 336.8 L180.5 336.5 L181.7 336.3 L183 336 L184.2 337.6 L185.5 339.2 L186.7 340.4 L188 339.8 L189.2 339.3 L190.5 338.7 L191.7 339.4 L193 340 L194.2 340.7 L195.5 341.4 L196.7 340.9 L198 340.5 L199.2 340 L200.5 339.6 L201.7 339.8 L202.9 340 L204.2 340.3 L205.4 340.5 L206.7 340 L207.9 339.6 L209.2 339.1 L210.4 338.7 L211.7 338.9 L212.9 339.1 L214.2 339.4 L215.4 339.6 L216.7 339.1 L217.9 338.7 L219.2 338.3 L220.4 337.8 L221.7 338.7 L222.9 339.6 L224.2 337.4 L225.4 335.1 L226.7 334.5 L227.9 333.8 L229.2 333.1 L230.4 332.5 L231.7 332 L232.9 331.6 L234.2 331.1 L235.4 330.7 L236.7 331.8 L237.9 332.9 L239.2 332.9 L240.4 332.2 L241.7 332.1 L242.9 334.6 L244.2 337.1 L245.4 339.6 L246.7 339.1 L247.9 338.7 L249.2 339.6" fill="none" stroke="#FF0099" stroke-width="2.1" stroke-linejoin="round" stroke-linecap="round"/>
<path d="M50.6 408.9 H250.4M50.6 408.9 v3.4M100.6 408.9 v3.4M150.5 408.9 v3.4M200.5 408.9 v3.4M250.4 408.9 v3.4M43 401 V294.2M43 401 h-3.8M43 383.2 h-3.8M43 365.4 h-3.8M43 347.6 h-3.8M43 329.8 h-3.8M43 312 h-3.8M43 294.2 h-3.8" fill="none" stroke="#000" stroke-width="1.1"/>
<text x="50.6" y="420" font-size="7.50" fill="#111" text-anchor="middle">−2000</text>
<text x="100.6" y="420" font-size="7.50" fill="#111" text-anchor="middle">−1000</text>
<text x="150.5" y="420" font-size="7.50" fill="#111" text-anchor="middle">0</text>
<text x="200.5" y="420" font-size="7.50" fill="#111" text-anchor="middle">1000</text>
<text x="250.4" y="420" font-size="7.50" fill="#111" text-anchor="middle">2000</text>
<text x="35.2" y="401" font-size="7.50" fill="#111" text-anchor="middle" transform="rotate(-90 35.2 401)">−3</text>
<text x="35.2" y="383.2" font-size="7.50" fill="#111" text-anchor="middle" transform="rotate(-90 35.2 383.2)">−2</text>
<text x="35.2" y="365.4" font-size="7.50" fill="#111" text-anchor="middle" transform="rotate(-90 35.2 365.4)">−1</text>
<text x="35.2" y="347.6" font-size="7.50" fill="#111" text-anchor="middle" transform="rotate(-90 35.2 347.6)">0</text>
<text x="35.2" y="329.8" font-size="7.50" fill="#111" text-anchor="middle" transform="rotate(-90 35.2 329.8)">1</text>
<text x="35.2" y="312" font-size="7.50" fill="#111" text-anchor="middle" transform="rotate(-90 35.2 312)">2</text>
<text x="35.2" y="294.2" font-size="7.50" fill="#111" text-anchor="middle" transform="rotate(-90 35.2 294.2)">3</text>
<text x="23.2" y="347.6" font-size="11.30" fill="#111" text-anchor="middle" transform="rotate(-90 23.2 347.6)">Scaled density</text>
<rect x="316.7" y="256.6" width="114" height="22.3" fill="#ffbfcf"/>
<text x="373.7" y="272.9" font-size="14.30" fill="#111" text-anchor="middle">INPUT-seq, TES</text>
<path d="M385 290 V408.5" stroke="#b8b8b8" stroke-width="1.8" stroke-dasharray="5.5 3.6" fill="none"/>
<path d="M285.1 306 L287.6 306.2 L290.1 306.5 L292.6 306.9 L295.1 306 L297.6 306.9 L300.1 305.4 L302.6 305.7 L305.1 305.1 L307.6 305.7 L310.1 305.8 L312.6 305.7 L315.1 304.2 L317.6 305.1 L320.1 305.2 L322.6 306.3 L325.1 305 L327.6 307.6 L330.1 304 L332.6 305.2 L335.1 305.3 L337.6 306.7 L340.1 306.7 L342.6 305.8 L345.1 306.8 L347.6 306.8 L350.1 306.8 L352.6 308.4 L355.1 312.1 L357.6 313.4 L360.1 315.7 L362.6 318.3 L365.1 322.6 L367.6 327.5 L370.1 332.8 L372.6 340.3 L375.1 348.7 L377.6 361.8 L380.1 373.7 L382.6 389.7 L385.1 392.4 L387.5 384.5 L390 371.2 L392.5 360.7 L395 350.4 L397.5 344 L400 338.8 L402.5 335.4 L405 331.4 L407.5 328.4 L410 326.6 L412.5 324.7 L415 324.9 L417.5 323.6 L420 325.1 L422.5 322.5 L425 321.7 L427.5 323 L430 322.2 L432.5 324.2 L435 323.2 L437.5 324.2 L440 322.9 L442.5 323 L445 324.6 L447.5 324.4 L450 324.3 L452.5 322.1 L455 323.9 L457.5 323.8 L460 323.6 L462.5 323.6 L465 324 L467.5 324.9 L470 324.4 L472.5 322.6 L475 323.7 L477.5 324.1 L480 324.9 L482.5 323.9" fill="none" stroke="#FF0000" stroke-width="2.1" stroke-linejoin="round" stroke-linecap="round"/>
<path d="M285.1 309.4 L287.6 309.7 L290.1 308.7 L292.6 309.3 L295.1 308.9 L297.6 308.2 L300.1 308.4 L302.6 307.7 L305.1 308.3 L307.6 308.2 L310.1 307.5 L312.6 307.5 L315.1 306.9 L317.6 307.4 L320.1 307.6 L322.6 307.3 L325.1 307.2 L327.6 308.2 L330.1 307.7 L332.6 307.9 L335.1 307.2 L337.6 308.5 L340.1 307.9 L342.6 309.6 L345.1 309.4 L347.6 309.2 L350.1 310.5 L352.6 310.3 L355.1 312.8 L357.6 312.6 L360.1 314.4 L362.6 317.5 L365.1 321.9 L367.6 325.6 L370.1 333.6 L372.6 339.3 L375.1 348.9 L377.6 361.7 L380.1 376.3 L382.6 390.7 L385.1 393.5 L387.5 386.7 L390 371.9 L392.5 360.7 L395 350.7 L397.5 344.4 L400 339 L402.5 336.7 L405 332.5 L407.5 329.2 L410 327.2 L412.5 326.7 L415 325.6 L417.5 324.8 L420 324.3 L422.5 324.3 L425 324.2 L427.5 324.5 L430 324.1 L432.5 323.1 L435 324.4 L437.5 323.4 L440 323 L442.5 324.2 L445 323.2 L447.5 324.8 L450 323.9 L452.5 324.8 L455 325.5 L457.5 324.6 L460 323.7 L462.5 325.1 L465 324.5 L467.5 325.3 L470 325.3 L472.5 324.5 L475 324.9 L477.5 324.5 L480 324.1 L482.5 325.4" fill="none" stroke="#FF9900" stroke-width="2.1" stroke-linejoin="round" stroke-linecap="round"/>
<path d="M285.1 308 L287.1 309 L289.1 310 L291.1 311 L293.1 312 L295.1 313.1 L297.1 314.2 L299.1 315.1 L301.1 315.7 L303.1 316.1 L305.1 316.5 L307.1 316.8 L309.1 317.1 L311.1 317.5 L313.1 318 L315.1 318.5 L317.1 318.9 L319.1 319.2 L321.1 319.2 L323.1 319.2 L325.1 319.2 L327.1 319.2 L329.1 319.2 L331.1 319.2 L333.1 319.3 L335.1 319.5 L337.1 319.7 L339.1 320 L341.1 320.3 L343.1 320.6 L345.1 321 L347.1 321.5 L349.1 321.8 L351.1 322.1 L353.1 322.4 L355.1 322.6 L357.1 322.9 L359.1 323.2 L361.1 323.5 L363.1 324.1 L365.1 324.8 L367.1 326.8 L369.1 330.2 L371.1 334.7 L373.1 341 L375.1 349.1 L377.1 360.4 L379.1 374.2 L381.1 388.6 L383.1 402.5 L385.1 400.9 L387 391.6 L389 373.4 L391 357.2 L393 344.7 L395 335.7 L397 329.5 L399 326.4 L401 324.2 L403 322.6 L405 321.1 L407 319.6 L409 318.2 L411 317 L413 316.2 L415 315.6 L417 315.1 L419 314.7 L421 314.3 L423 313.8 L425 313.3 L427 312.9 L429 312.7 L431 312.7 L433 312.8 L435 313 L437 313.2 L439 313.5 L441 313.7 L443 314 L445 314.4 L447 314.8 L449 315.3 L451 315.6 L453 316 L455 316.4 L457 316.8 L459 317.1 L461 317.5 L463 317.9 L465 318.3 L467 318.7 L469 319 L471 319.3 L473 319.7 L475 320 L477 320.1 L479 320.1 L481 319.9 L483 319.6" fill="none" stroke="#CCFF00" stroke-width="2.1" stroke-linejoin="round" stroke-linecap="round"/>
<path d="M285.1 332.3 L286.3 334.2 L287.6 336 L288.8 337.9 L290.1 339.8 L291.3 341.2 L292.6 342.6 L293.8 344 L295.1 345.4 L296.3 344.9 L297.6 344.4 L298.8 344 L300.1 343.5 L301.3 345.8 L302.6 348.2 L303.8 350.5 L305.1 352.9 L306.3 354.7 L307.6 356.6 L308.8 358.5 L310.1 360.3 L311.3 358.5 L312.6 356.6 L313.8 354.7 L315.1 352.9 L316.3 353.5 L317.6 354.2 L318.8 355 L320.1 356.1 L321.3 357.3 L322.6 358.5 L323.8 352.4 L325.1 346.4 L326.3 341.9 L327.6 343 L328.8 344.2 L330.1 345.4 L331.3 346.7 L332.6 348 L333.8 348.6 L335.1 346.3 L336.3 344 L337.6 341.6 L338.8 339.8 L340.1 337.9 L341.3 336 L342.6 334.2 L343.8 334.4 L345.1 334.6 L346.3 334.9 L347.6 335.1 L348.8 333.4 L350.1 331.8 L351.3 330.2 L352.6 328.5 L353.8 326.2 L355.1 323.9 L356.3 321.5 L357.6 319.2 L358.8 317.8 L360.1 316.4 L361.3 315 L362.6 313.6 L363.8 311.9 L365.1 310.3 L366.3 308.7 L367.6 307 L368.8 306.6 L370.1 306.1 L371.3 305.6 L372.6 305.2 L373.8 307.5 L375.1 309.8 L376.3 312.9 L377.6 318.7 L378.8 324.6 L380.1 330.4 L381.3 337.1 L382.6 343.8 L383.8 349.3 L385.1 350 L386.3 350.8 L387.5 349.4 L388.8 347.4 L390 345.4 L391.3 343.5 L392.5 341.6 L393.8 339.8 L395 337.9 L396.3 335.6 L397.5 333.2 L398.8 330.9 L400 328.5 L401.3 325.7 L402.5 322.9 L403.8 320.1 L405 317.3 L406.3 315.4 L407.5 313.6 L408.8 311.7 L410 309.8 L411.3 309.1 L412.5 308.4 L413.8 307.7 L415 307 L416.3 306.8 L417.5 306.6 L418.8 306.3 L420 306.1 L421.3 307.9 L422.5 309.6 L423.8 311.4 L425 310.8 L426.3 309.6 L427.5 308.4 L428.8 307 L430 305.5 L431.3 303.9 L432.5 302.4 L433.8 302.8 L435 303.3 L436.3 303.8 L437.5 304.2 L438.8 304.7 L440 305.2 L441.3 305.6 L442.5 306.1 L443.8 306.3 L445 306.6 L446.3 306.8 L447.5 307 L448.8 307.3 L450 307.5 L451.3 307.7 L452.5 308 L453.8 307.5 L455 307 L456.3 306.6 L457.5 306.1 L458.8 307.3 L460 308.4 L461.3 309.6 L462.5 310.8 L463.8 311.9 L465 313.1 L466.3 314.3 L467.5 315.4 L468.8 316.2 L470 316.9 L471.3 317.6 L472.5 318.3 L473.8 317.8 L475 317.3 L476.3 316.9 L477.5 316.4 L478.8 317 L480 317.6 L481.3 318.1 L482.5 317.5 L483.8 316.5" fill="none" stroke="#33FF00" stroke-width="2.1" stroke-linejoin="round" stroke-linecap="round"/>
<path d="M285.1 340.7 L286.3 341.4 L287.6 342.1 L288.8 342.8 L290.1 343.5 L291.3 344.9 L292.6 346.3 L293.8 347.7 L295.1 349.1 L296.3 350 L297.6 351 L298.8 351.9 L300.1 352.9 L301.3 353.8 L302.6 354.7 L303.8 355.7 L305.1 356.6 L306.3 358 L307.6 359.4 L308.8 360.8 L310.1 362.2 L311.3 361.3 L312.6 360.3 L313.8 359.4 L315.1 358.5 L316.3 357.1 L317.6 355.7 L318.8 356.8 L320.1 358 L321.3 359.2 L322.6 360.3 L323.8 355.9 L325.1 351.4 L326.3 347 L327.6 342.6 L328.8 342.9 L330.1 343.2 L331.3 343.7 L332.6 344.9 L333.8 346.1 L335.1 347.2 L336.3 344.9 L337.6 342.6 L338.8 340.2 L340.1 337.9 L341.3 336.5 L342.6 335.1 L343.8 333.7 L345.1 332.3 L346.3 332.3 L347.6 332.3 L348.8 332.3 L350.1 332.3 L351.3 329.9 L352.6 327.6 L353.8 325.3 L355.1 322.7 L356.3 320 L357.6 317.3 L358.8 315.9 L360.1 314.5 L361.3 313.1 L362.6 311.7 L363.8 310.5 L365.1 309.4 L366.3 308.2 L367.6 307 L368.8 306.6 L370.1 306.3 L371.3 305.9 L372.6 305.5 L373.8 305.6 L375.1 307.6 L376.3 309.7 L377.6 311.7 L378.8 315.7 L380.1 319.7 L381.3 323.6 L382.6 326.9 L383.8 329.3 L385.1 328.4 L386.3 327.5 L387.5 327 L388.8 326.4 L390 325.3 L391.3 324.1 L392.5 322.9 L393.8 321.3 L395 319.7 L396.3 318 L397.5 316.4 L398.8 314.7 L400 313.1 L401.3 311.5 L402.5 309.8 L403.8 308 L405 306.1 L406.3 304.2 L407.5 302.4 L408.8 300.4 L410 298.4 L411.3 297.4 L412.5 300.5 L413.8 303.6 L415 307.2 L416.3 310.8 L417.5 314.5 L418.8 313.2 L420 311.8 L421.3 310.3 L422.5 308 L423.8 305.6 L425 303.3 L426.3 302.4 L427.5 301.5 L428.8 300.7 L430 297.8 L431.3 294.5 L432.5 291.1 L433.8 289.7 L435 288.3 L436.3 291.6 L437.5 294.9 L438.8 298.2 L440 301.4 L441.3 302 L442.5 302.6 L443.8 303.2 L445 303.8 L446.3 304.5 L447.5 305.2 L448.8 304.3 L450 303.4 L451.3 302.5 L452.5 301.3 L453.8 300 L455 298.6 L456.3 300.6 L457.5 302.6 L458.8 304.5 L460 306 L461.3 307.4 L462.5 308.9 L463.8 311 L465 313 L466.3 315 L467.5 316.5 L468.8 317.9 L470 319.2 L471.3 318.3 L472.5 317.4 L473.8 316.6 L475 316.9 L476.3 317.6 L477.5 318.3 L478.8 317.3 L480 316.3 L481.3 315.2 L482.5 314 L483.8 312.9" fill="none" stroke="#00FF66" stroke-width="2.1" stroke-linejoin="round" stroke-linecap="round"/>
<path d="M285.1 310.2 L287.1 310.1 L289.1 310 L291.1 309.8 L293.1 309.7 L295.1 309.6 L297.1 309.5 L299.1 309.3 L301.1 309.2 L303.1 309.1 L305.1 308.9 L307.1 308.7 L309.1 308.6 L311.1 308.5 L313.1 308.4 L315.1 308.3 L317.1 308.3 L319.1 308.3 L321.1 308.3 L323.1 308.3 L325.1 308.3 L327.1 308.3 L329.1 308.3 L331.1 308.4 L333.1 308.5 L335.1 308.7 L337.1 308.9 L339.1 309.2 L341.1 309.4 L343.1 309.7 L345.1 310.1 L347.1 310.5 L349.1 311 L351.1 311.3 L353.1 311.6 L355.1 312 L357.1 312.5 L359.1 313.5 L361.1 315.4 L363.1 318.1 L365.1 321.1 L367.1 324.8 L369.1 329.6 L371.1 335.1 L373.1 341.8 L375.1 349.1 L377.1 357.4 L379.1 366.4 L381.1 375.4 L383.1 384.8 L385.1 385.7 L387 381.3 L389 371.7 L391 363.4 L393 356.7 L395 351 L397 346.1 L399 341.8 L401 337.7 L403 333.6 L405 330.4 L407 328.1 L409 326.4 L411 325.2 L413 324.3 L415 323.6 L417 323 L419 322.7 L421 322.3 L423 322.1 L425 322 L427 322 L429 322 L431 322 L433 322 L435 322 L437 322 L439 322.2 L441 322.3 L443 322.5 L445 322.7 L447 322.8 L449 322.9 L451 322.9 L453 322.9 L455 322.9 L457 322.9 L459 322.9 L461 322.9 L463 322.9 L465 322.9 L467 322.9 L469 322.9 L471 322.9 L473 322.9 L475 322.9 L477 322.9 L479 322.9 L481 322.9 L483 322.9" fill="none" stroke="#00FFFF" stroke-width="2.1" stroke-linejoin="round" stroke-linecap="round"/>
<path d="M285.1 308.2 L287.1 307.5 L289.1 306.2 L291.1 306.8 L293.1 306.5 L295.1 305.8 L297.1 304.8 L299.1 305.5 L301.1 305.1 L303.1 304.6 L305.1 304 L307.1 303.2 L309.1 304.2 L311.1 304.1 L313.1 303.3 L315.1 303.1 L317.1 304.1 L319.1 303.5 L321.1 302.9 L323.1 303.5 L325.1 303.1 L327.1 303.1 L329.1 302.7 L331.1 302.5 L333.1 302.3 L335.1 301.9 L337.1 302.6 L339.1 302.7 L341.1 302.7 L343.1 303.9 L345.1 304.3 L347.1 305 L349.1 305.8 L351.1 305.5 L353.1 307.1 L355.1 307.9 L357.1 310.1 L359.1 312.4 L361.1 314.9 L363.1 317.5 L365.1 321 L367.1 324.8 L369.1 330.1 L371.1 334.6 L373.1 339.7 L375.1 345.4 L377.1 351.4 L379.1 357.3 L381.1 363 L383.1 368.7 L385.1 369.6 L387 369.6 L389 364.6 L391 359.9 L393 355.8 L395 351.1 L397 347 L399 343.9 L401 341.6 L403 338.6 L405 336.7 L407 335 L409 333.2 L411 332.8 L413 331.6 L415 331.1 L417 330.1 L419 329.7 L421 329.6 L423 329.3 L425 329.8 L427 329.2 L429 329.9 L431 328.6 L433 329 L435 330 L437 330.4 L439 328.9 L441 329.6 L443 328.9 L445 329.4 L447 328.7 L449 328.8 L451 328.2 L453 328.3 L455 327.4 L457 328 L459 327.1 L461 327.7 L463 328 L465 329.6 L467 330.5 L469 329.9 L471 330.8 L473 330.2 L475 329.8 L477 329.8 L479 329.4 L481 330.2 L483 330.4" fill="none" stroke="#0066FF" stroke-width="2.1" stroke-linejoin="round" stroke-linecap="round"/>
<path d="M285.1 310.7 L287.6 312.4 L290.1 310.6 L292.6 310.5 L295.1 309.4 L297.6 310.4 L300.1 312.8 L302.6 311.3 L305.1 310.9 L307.6 308.8 L310.1 309.6 L312.6 310.4 L315.1 309.3 L317.6 310.2 L320.1 309.2 L322.6 309.7 L325.1 308.6 L327.6 309.5 L330.1 308.7 L332.6 309.9 L335.1 309.4 L337.6 310.6 L340.1 310.1 L342.6 311 L345.1 312 L347.6 312.9 L350.1 313 L352.6 312.1 L355.1 315.2 L357.6 311.3 L360.1 316.6 L362.6 317.4 L365.1 321.4 L367.6 325.1 L370.1 332 L372.6 340.1 L375.1 349 L377.6 358.6 L380.1 368 L382.6 382.5 L385.1 388 L387.5 379.8 L390 366.6 L392.5 354.6 L395 351.8 L397.5 345.4 L400 339.1 L402.5 334.2 L405 331.9 L407.5 326.6 L410 327.2 L412.5 324.8 L415 322.1 L417.5 324.4 L420 322.9 L422.5 320.3 L425 322.3 L427.5 323.2 L430 322.6 L432.5 321.1 L435 323.8 L437.5 322.8 L440 323.9 L442.5 323.8 L445 321.2 L447.5 323 L450 323.4 L452.5 322.5 L455 323.7 L457.5 324.3 L460 321.6 L462.5 321.9 L465 323.9 L467.5 322.1 L470 321.3 L472.5 322.4 L475 322.4 L477.5 324.3 L480 323.1 L482.5 325" fill="none" stroke="#3300FF" stroke-width="2.1" stroke-linejoin="round" stroke-linecap="round"/>
<path d="M285.1 309 L287.6 309.8 L290.1 308.5 L292.6 310 L295.1 308.6 L297.6 310.3 L300.1 309.2 L302.6 308.3 L305.1 308.3 L307.6 308.4 L310.1 309.4 L312.6 307 L315.1 307.5 L317.6 307.1 L320.1 307.1 L322.6 308.3 L325.1 307.7 L327.6 306 L330.1 308.6 L332.6 307.8 L335.1 308.7 L337.6 307.3 L340.1 308.8 L342.6 310.1 L345.1 310.2 L347.6 311.3 L350.1 312.5 L352.6 313.3 L355.1 312.4 L357.6 313.5 L360.1 314.3 L362.6 318 L365.1 320.9 L367.6 324.6 L370.1 333.2 L372.6 340.9 L375.1 348.4 L377.6 358.5 L380.1 372.7 L382.6 386 L385.1 387.8 L387.5 381.4 L390 367.9 L392.5 359.7 L395 351.2 L397.5 345.3 L400 341 L402.5 335 L405 328.6 L407.5 325.7 L410 324.8 L412.5 321.8 L415 321.4 L417.5 321.1 L420 320.5 L422.5 320.4 L425 320 L427.5 319.8 L430 320.5 L432.5 322.1 L435 320.6 L437.5 321.2 L440 321.6 L442.5 320.5 L445 322.6 L447.5 320.7 L450 321.9 L452.5 322.4 L455 322.1 L457.5 319.7 L460 320.3 L462.5 321.7 L465 320.6 L467.5 320.1 L470 322.1 L472.5 321.7 L475 320.7 L477.5 321.1 L480 321.7 L482.5 320.2" fill="none" stroke="#CC00FF" stroke-width="2.1" stroke-linejoin="round" stroke-linecap="round"/>
<path d="M285.1 307.2 L287.6 306.5 L290.1 303.8 L292.6 306.7 L295.1 303.1 L297.6 306.7 L300.1 307.3 L302.6 306.7 L305.1 305.2 L307.6 305.4 L310.1 305.7 L312.6 308.6 L315.1 307.9 L317.6 306.5 L320.1 304.9 L322.6 303.8 L325.1 310 L327.6 306.4 L330.1 306.9 L332.6 306.4 L335.1 306.1 L337.6 308.1 L340.1 309.2 L342.6 305.8 L345.1 306.6 L347.6 309 L350.1 309.1 L352.6 311 L355.1 313.4 L357.6 311.6 L360.1 315.9 L362.6 319.4 L365.1 322.1 L367.6 323.3 L370.1 331.6 L372.6 339.4 L375.1 349 L377.6 361.2 L380.1 375.7 L382.6 393.1 L385.1 394.6 L387.5 388.5 L390 372.6 L392.5 360.9 L395 354.3 L397.5 342.6 L400 339.4 L402.5 339.7 L405 332.7 L407.5 331.8 L410 329.1 L412.5 328.6 L415 327.5 L417.5 327.9 L420 329.4 L422.5 327.3 L425 325.9 L427.5 326.1 L430 325.1 L432.5 326.3 L435 329.8 L437.5 325.1 L440 327.7 L442.5 328.8 L445 327.4 L447.5 329.3 L450 326.6 L452.5 328.6 L455 324 L457.5 327.6 L460 328.1 L462.5 328.2 L465 330.7 L467.5 328.6 L470 328.4 L472.5 327.7 L475 330.8 L477.5 327.1 L480 325.1 L482.5 327.9" fill="none" stroke="#FF0099" stroke-width="2.1" stroke-linejoin="round" stroke-linecap="round"/>
<path d="M285.1 408.9 H485M285.1 408.9 v3.4M335.1 408.9 v3.4M385.1 408.9 v3.4M435 408.9 v3.4M485 408.9 v3.4M277.5 399.6 V287.4M277.5 399.6 h-3.8M277.5 380.9 h-3.8M277.5 362.2 h-3.8M277.5 343.5 h-3.8M277.5 324.8 h-3.8M277.5 306.1 h-3.8M277.5 287.4 h-3.8" fill="none" stroke="#000" stroke-width="1.1"/>
<text x="285.1" y="420" font-size="7.50" fill="#111" text-anchor="middle">−2000</text>
<text x="335.1" y="420" font-size="7.50" fill="#111" text-anchor="middle">−1000</text>
<text x="385.1" y="420" font-size="7.50" fill="#111" text-anchor="middle">0</text>
<text x="435" y="420" font-size="7.50" fill="#111" text-anchor="middle">1000</text>
<text x="485" y="420" font-size="7.50" fill="#111" text-anchor="middle">2000</text>
<text x="269.7" y="399.6" font-size="7.50" fill="#111" text-anchor="middle" transform="rotate(-90 269.7 399.6)">−4</text>
<text x="269.7" y="380.9" font-size="7.50" fill="#111" text-anchor="middle" transform="rotate(-90 269.7 380.9)">−3</text>
<text x="269.7" y="362.2" font-size="7.50" fill="#111" text-anchor="middle" transform="rotate(-90 269.7 362.2)">−2</text>
<text x="269.7" y="343.5" font-size="7.50" fill="#111" text-anchor="middle" transform="rotate(-90 269.7 343.5)">−1</text>
<text x="269.7" y="324.8" font-size="7.50" fill="#111" text-anchor="middle" transform="rotate(-90 269.7 324.8)">0</text>
<text x="269.7" y="306.1" font-size="7.50" fill="#111" text-anchor="middle" transform="rotate(-90 269.7 306.1)">1</text>
<text x="269.7" y="287.4" font-size="7.50" fill="#111" text-anchor="middle" transform="rotate(-90 269.7 287.4)">2</text>
<path d="M402.4 358.4 H416.8" stroke="#FF0000" stroke-width="2.1"/>
<text x="424.1" y="361.1" font-size="7.50" fill="#111" text-anchor="start">E0</text>
<path d="M402.4 367.5 H416.8" stroke="#FF9900" stroke-width="2.1"/>
<text x="424.1" y="370.2" font-size="7.50" fill="#111" text-anchor="start">E4</text>
<path d="M402.4 376.5 H416.8" stroke="#CCFF00" stroke-width="2.1"/>
<text x="424.1" y="379.2" font-size="7.50" fill="#111" text-anchor="start">E12</text>
<path d="M402.4 385.6 H416.8" stroke="#33FF00" stroke-width="2.1"/>
<text x="424.1" y="388.3" font-size="7.50" fill="#111" text-anchor="start">E16</text>
<path d="M402.4 394.7 H416.8" stroke="#00FF66" stroke-width="2.1"/>
<text x="424.1" y="397.4" font-size="7.50" fill="#111" text-anchor="start">E20</text>
<path d="M445.2 358.4 H459.7" stroke="#00FFFF" stroke-width="2.1"/>
<text x="466" y="361.1" font-size="7.50" fill="#111" text-anchor="start">AM</text>
<path d="M445.2 367.5 H459.7" stroke="#0066FF" stroke-width="2.1"/>
<text x="466" y="370.2" font-size="7.50" fill="#111" text-anchor="start">AF</text>
<path d="M445.2 376.5 H459.7" stroke="#3300FF" stroke-width="2.1"/>
<text x="466" y="379.2" font-size="7.50" fill="#111" text-anchor="start">C200</text>
<path d="M445.2 385.6 H459.7" stroke="#CC00FF" stroke-width="2.1"/>
<text x="466" y="388.3" font-size="7.50" fill="#111" text-anchor="start">C500</text>
<path d="M445.2 394.7 H459.7" stroke="#FF0099" stroke-width="2.1"/>
<text x="466" y="397.4" font-size="7.50" fill="#111" text-anchor="start">GC</text>
<rect x="94.5" y="450.3" width="114" height="19.7" fill="#bfcbf2"/>
<text x="150.5" y="465.3" font-size="14.30" fill="#111" text-anchor="middle">INPUT-chip, TSS</text>
<path d="M150.5 472 V591.3" stroke="#b8b8b8" stroke-width="1.8" stroke-dasharray="5.5 3.6" fill="none"/>
<path d="M50.6 512.6 L53.1 511.2 L55.6 511.5 L58.1 510.7 L60.6 509.3 L63.1 510.2 L65.6 511.8 L68.1 512.7 L70.6 509.4 L73.1 510.8 L75.6 512.1 L78.1 510.2 L80.6 509.6 L83.1 510 L85.6 511.7 L88.1 508.6 L90.6 509.6 L93.1 510.7 L95.6 510.8 L98.1 512.8 L100.6 514 L103 514 L105.5 517.7 L108 516.5 L110.5 518.6 L113 520.1 L115.5 522.6 L118 526.8 L120.5 533 L123 539.4 L125.5 546.6 L128 551.8 L130.5 558.7 L133 565.3 L135.5 568.7 L138 571 L140.5 568.9 L143 564.9 L145.5 551.1 L148 537.3 L150.5 524.4 L153 512.5 L155.5 509.9 L158 507.4 L160.5 505 L163 501.6 L165.5 500.3 L168 497.7 L170.5 496.2 L173 498.5 L175.5 500.1 L178 499.6 L180.5 495.5 L183 495.8 L185.5 493.8 L188 492.7 L190.5 496.7 L193 499.8 L195.5 501.1 L198 500.2 L200.5 500.8 L202.9 500.1 L205.4 499.1 L207.9 495.2 L210.4 491.8 L212.9 489.4 L215.4 489.2 L217.9 490.1 L220.4 491 L222.9 490.8 L225.4 492 L227.9 488.7 L230.4 489.4 L232.9 488.3 L235.4 488 L237.9 487.2 L240.4 488.1 L242.9 494 L245.4 495.2 L247.9 496.5" fill="none" stroke="#FF0000" stroke-width="2.1" stroke-linejoin="round" stroke-linecap="round"/>
<path d="M50.6 513.7 L53.1 510.9 L55.6 512 L58.1 511.4 L60.6 512.3 L63.1 511.3 L65.6 511.2 L68.1 512.2 L70.6 512.4 L73.1 511.1 L75.6 511 L78.1 511.1 L80.6 511.5 L83.1 512.1 L85.6 509.4 L88.1 512.1 L90.6 510.3 L93.1 511.3 L95.6 512.7 L98.1 512.5 L100.6 515 L103 514.4 L105.5 517.5 L108 517.6 L110.5 518.5 L113 522.3 L115.5 522.3 L118 528.1 L120.5 536.8 L123 539.7 L125.5 545.3 L128 553.3 L130.5 559.2 L133 564.9 L135.5 571.5 L138 571.9 L140.5 569.8 L143 564.3 L145.5 551.5 L148 536.2 L150.5 525 L153 513.7 L155.5 506.5 L158 502.3 L160.5 499.2 L163 497.6 L165.5 495.6 L168 493.4 L170.5 490.6 L173 495.8 L175.5 498.5 L178 496.3 L180.5 495.9 L183 495 L185.5 491.5 L188 491.7 L190.5 495.9 L193 499.6 L195.5 499.3 L198 500.7 L200.5 499.9 L202.9 498.5 L205.4 496.3 L207.9 496 L210.4 491.9 L212.9 488.8 L215.4 487.1 L217.9 487.5 L220.4 488.6 L222.9 490.8 L225.4 491.7 L227.9 490 L230.4 489.5 L232.9 486.9 L235.4 488.1 L237.9 488.3 L240.4 489.4 L242.9 493.7 L245.4 495.3 L247.9 496.7" fill="none" stroke="#FFAA00" stroke-width="2.1" stroke-linejoin="round" stroke-linecap="round"/>
<path d="M50.6 505.4 L53.1 504.3 L55.6 504.1 L58.1 503.5 L60.6 503.7 L63.1 502.5 L65.6 502.2 L68.1 500.6 L70.6 502.1 L73.1 501.7 L75.6 501.4 L78.1 501.2 L80.6 503 L83.1 503.3 L85.6 504.2 L88.1 504.9 L90.6 503.1 L93.1 504.6 L95.6 507.7 L98.1 508.6 L100.6 508.9 L103 511.8 L105.5 514.5 L108 515 L110.5 518.9 L113 521.5 L115.5 524 L118 530.1 L120.5 535.3 L123 541.2 L125.5 546.8 L128 554.2 L130.5 558.6 L133 565 L135.5 567.6 L138 570 L140.5 569.1 L143 562.3 L145.5 552.6 L148 541.9 L150.5 534.2 L153 528.6 L155.5 525.4 L158 522.8 L160.5 518.6 L163 517.7 L165.5 515 L168 512.1 L170.5 511.4 L173 514 L175.5 514.8 L178 513 L180.5 510 L183 507.2 L185.5 505 L188 505.9 L190.5 503.1 L193 503.4 L195.5 502.3 L198 501.6 L200.5 500.1 L202.9 497.2 L205.4 493.9 L207.9 490.6 L210.4 487.2 L212.9 481.9 L215.4 481 L217.9 484 L220.4 484.8 L222.9 485.6 L225.4 485.3 L227.9 481.4 L230.4 478.7 L232.9 482 L235.4 483.7 L237.9 482.5 L240.4 482.1 L242.9 483.5 L245.4 486.9 L247.9 488.3" fill="none" stroke="#AAFF00" stroke-width="2.1" stroke-linejoin="round" stroke-linecap="round"/>
<path d="M50.6 505.5 L53.1 503.5 L55.6 503.8 L58.1 502.3 L60.6 503.5 L63.1 501.7 L65.6 500.4 L68.1 499.9 L70.6 501.1 L73.1 500.6 L75.6 500.4 L78.1 501.1 L80.6 501.7 L83.1 501.5 L85.6 503.5 L88.1 504.2 L90.6 503.3 L93.1 503.7 L95.6 507.3 L98.1 505.5 L100.6 508.2 L103 509.7 L105.5 513.2 L108 515 L110.5 515.9 L113 518.5 L115.5 522.9 L118 528.6 L120.5 534.3 L123 539.1 L125.5 546.9 L128 553.3 L130.5 558.5 L133 563.4 L135.5 568.9 L138 568.8 L140.5 567.2 L143 560.7 L145.5 550.7 L148 539.7 L150.5 531.4 L153 526.5 L155.5 519.3 L158 517 L160.5 513.2 L163 510.5 L165.5 508.2 L168 508.3 L170.5 505.6 L173 506.2 L175.5 508.2 L178 508.8 L180.5 507.2 L183 503.9 L185.5 502.7 L188 501 L190.5 503.1 L193 501.3 L195.5 500.3 L198 499.7 L200.5 499.4 L202.9 499.4 L205.4 492.8 L207.9 489.6 L210.4 485.7 L212.9 483.6 L215.4 481.7 L217.9 481.2 L220.4 484.9 L222.9 486.1 L225.4 484.8 L227.9 479.7 L230.4 480.3 L232.9 481.7 L235.4 483.3 L237.9 481.9 L240.4 479.3 L242.9 481.5 L245.4 483.6 L247.9 487.1" fill="none" stroke="#00FF00" stroke-width="2.1" stroke-linejoin="round" stroke-linecap="round"/>
<path d="M50.6 513.9 L53.1 512.6 L55.6 513.6 L58.1 510.3 L60.6 512.1 L63.1 510.6 L65.6 510.7 L68.1 511.5 L70.6 512.4 L73.1 512.9 L75.6 513.8 L78.1 511 L80.6 511.5 L83.1 509.9 L85.6 511.6 L88.1 510.8 L90.6 511.7 L93.1 511.3 L95.6 512.9 L98.1 513.9 L100.6 516.6 L103 516.6 L105.5 517.3 L108 517.5 L110.5 519.9 L113 523.1 L115.5 523.2 L118 529 L120.5 534.5 L123 542.2 L125.5 550.3 L128 554.2 L130.5 560.4 L133 565.5 L135.5 571.7 L138 573.3 L140.5 572.3 L143 564.2 L145.5 553.8 L148 536.7 L150.5 521 L153 509.3 L155.5 502.5 L158 497.4 L160.5 492.9 L163 491.1 L165.5 486.1 L168 485.6 L170.5 486 L173 487.2 L175.5 488.6 L178 491.3 L180.5 488.7 L183 489.4 L185.5 489.8 L188 490.5 L190.5 494.8 L193 497.4 L195.5 499.8 L198 499 L200.5 499.4 L202.9 501 L205.4 497.1 L207.9 493.6 L210.4 489.9 L212.9 486.4 L215.4 484.1 L217.9 486.3 L220.4 488.9 L222.9 487.6 L225.4 487.2 L227.9 487.5 L230.4 485.4 L232.9 485.2 L235.4 485.2 L237.9 484.7 L240.4 486.2 L242.9 488.7 L245.4 490.8 L247.9 491.7" fill="none" stroke="#00FFAA" stroke-width="2.1" stroke-linejoin="round" stroke-linecap="round"/>
<path d="M50.6 514.4 L53.1 515.3 L55.6 514.7 L58.1 513.3 L60.6 512.6 L63.1 512.4 L65.6 513.1 L68.1 513.5 L70.6 515 L73.1 513.7 L75.6 514.2 L78.1 512.8 L80.6 512.2 L83.1 513.6 L85.6 513.2 L88.1 510.9 L90.6 513.6 L93.1 513.8 L95.6 515.2 L98.1 516.7 L100.6 515.8 L103 518.3 L105.5 519.4 L108 520.9 L110.5 524.2 L113 523 L115.5 526.7 L118 531.1 L120.5 535.9 L123 543.2 L125.5 549 L128 555.1 L130.5 560.1 L133 568.6 L135.5 572.5 L138 576 L140.5 572.8 L143 565.5 L145.5 555.3 L148 536 L150.5 516.5 L153 502.7 L155.5 494 L158 484.4 L160.5 480.8 L163 476 L165.5 473.5 L168 472.6 L170.5 474.3 L173 480 L175.5 485.9 L178 487.8 L180.5 489.7 L183 490.6 L185.5 490.8 L188 492.4 L190.5 495.2 L193 498.9 L195.5 501.2 L198 502 L200.5 501.7 L202.9 502.8 L205.4 498.9 L207.9 496.2 L210.4 496.5 L212.9 493.7 L215.4 494.9 L217.9 495 L220.4 496.4 L222.9 496.3 L225.4 497.5 L227.9 495.2 L230.4 494.8 L232.9 495.1 L235.4 493.8 L237.9 492.4 L240.4 494.6 L242.9 500.4 L245.4 498.7 L247.9 501.9" fill="none" stroke="#00AAFF" stroke-width="2.1" stroke-linejoin="round" stroke-linecap="round"/>
<path d="M50.6 513.2 L53.1 511.9 L55.6 509.5 L58.1 509.8 L60.6 509.6 L63.1 509 L65.6 510.5 L68.1 511.5 L70.6 510.1 L73.1 511.3 L75.6 511.8 L78.1 511.8 L80.6 510 L83.1 508.5 L85.6 509.5 L88.1 510.1 L90.6 509.1 L93.1 511.7 L95.6 511 L98.1 513 L100.6 512.5 L103 515.5 L105.5 515.3 L108 517.2 L110.5 518.9 L113 520.2 L115.5 523.5 L118 526.9 L120.5 534.4 L123 542 L125.5 545 L128 551.2 L130.5 557.9 L133 563.3 L135.5 568.6 L138 572 L140.5 571.7 L143 564 L145.5 552 L148 536.8 L150.5 523.4 L153 511.3 L155.5 501.5 L158 498.7 L160.5 494.7 L163 491.6 L165.5 486.3 L168 485.3 L170.5 486.8 L173 488.2 L175.5 489.6 L178 489.7 L180.5 489.9 L183 488.9 L185.5 489.4 L188 490.2 L190.5 495.2 L193 498.2 L195.5 500 L198 501 L200.5 500.2 L202.9 497.7 L205.4 495.9 L207.9 493.2 L210.4 489.5 L212.9 485.1 L215.4 485.8 L217.9 486.3 L220.4 487 L222.9 486.9 L225.4 487.7 L227.9 487.5 L230.4 488.5 L232.9 486.6 L235.4 485.3 L237.9 484.5 L240.4 486.4 L242.9 491.6 L245.4 491.9 L247.9 492.8" fill="none" stroke="#0000FF" stroke-width="2.1" stroke-linejoin="round" stroke-linecap="round"/>
<path d="M50.6 515.1 L53.1 513.7 L55.6 512.3 L58.1 512 L60.6 511.9 L63.1 511.6 L65.6 511.7 L68.1 513.3 L70.6 514.1 L73.1 513.7 L75.6 513.1 L78.1 512.3 L80.6 513.3 L83.1 512.7 L85.6 512.3 L88.1 510.9 L90.6 511.6 L93.1 512.5 L95.6 512.6 L98.1 514.4 L100.6 515.5 L103 515.8 L105.5 517.6 L108 519.1 L110.5 520.2 L113 523.2 L115.5 525.3 L118 531.8 L120.5 536.5 L123 540.8 L125.5 548.5 L128 554.3 L130.5 560.6 L133 567.3 L135.5 570.7 L138 573.2 L140.5 570.9 L143 565.8 L145.5 553.8 L148 538.1 L150.5 520.2 L153 505.5 L155.5 498.2 L158 492.6 L160.5 485.9 L163 484.9 L165.5 481.7 L168 479.3 L170.5 483.3 L173 485.7 L175.5 488.6 L178 488.8 L180.5 488.9 L183 487.3 L185.5 488 L188 487.4 L190.5 488.2 L193 495.8 L195.5 500 L198 500.5 L200.5 499.8 L202.9 497 L205.4 494.7 L207.9 493.1 L210.4 490 L212.9 487.1 L215.4 485.7 L217.9 487.3 L220.4 490.5 L222.9 489.9 L225.4 491.4 L227.9 491.6 L230.4 490.3 L232.9 489.4 L235.4 488.2 L237.9 488.1 L240.4 491.1 L242.9 496.2 L245.4 497.8 L247.9 500" fill="none" stroke="#AA00FF" stroke-width="2.1" stroke-linejoin="round" stroke-linecap="round"/>
<path d="M50.6 510.1 L51.6 508.7 L52.6 507.2 L53.6 505.8 L54.6 504.3 L55.6 502.9 L56.6 503.6 L57.6 504.3 L58.6 505 L59.6 505.8 L60.6 506.5 L61.6 507.2 L62.6 507.9 L63.6 508.7 L64.6 509.4 L65.6 510.1 L66.6 509.8 L67.6 509.5 L68.6 509.2 L69.6 508.9 L70.6 507.5 L71.6 506.1 L72.6 504.8 L73.6 504.9 L74.6 506.6 L75.6 508.3 L76.6 510 L77.6 511.7 L78.6 511.5 L79.6 509.5 L80.6 507.4 L81.6 505.4 L82.6 503.4 L83.6 502.9 L84.6 504 L85.6 505 L86.6 506.1 L87.6 507.2 L88.6 507.5 L89.6 507.2 L90.6 506.8 L91.6 506.5 L92.6 508 L93.6 509.5 L94.6 511 L95.6 512.5 L96.6 512.3 L97.6 512 L98.6 511.8 L99.6 511.5 L100.6 511.3 L101.5 512 L102.5 512.8 L103.5 513.5 L104.5 514.2 L105.5 514.9 L106.5 515.4 L107.5 515.9 L108.5 516.4 L109.5 516.8 L110.5 517.3 L111.5 518.5 L112.5 519.7 L113.5 520.9 L114.5 522.1 L115.5 521.5 L116.5 520.9 L117.5 520.2 L118.5 524.1 L119.5 527.9 L120.5 531.8 L121.5 532.8 L122.5 533.7 L123.5 536.3 L124.5 540.4 L125.5 544.5 L126.5 548.7 L127.5 551.4 L128.5 554.1 L129.5 556.8 L130.5 559.5 L131.5 560 L132.5 560.5 L133.5 564.6 L134.5 572.3 L135.5 580 L136.5 581.6 L137.5 583.2 L138.5 584.9 L139.5 586.5 L140.5 585.3 L141.5 584.2 L142.5 583 L143.5 576.6 L144.5 565 L145.5 553.5 L146.5 536.6 L147.5 519.7 L148.5 516.2 L149.5 514.6 L150.5 515 L151.5 515.4 L152.5 515.1 L153.5 511.9 L154.5 505.9 L155.5 501.3 L156.5 498.1 L157.5 494.8 L158.5 492.7 L159.5 491.8 L160.5 490.8 L161.5 489.9 L162.5 488.9 L163.5 488 L164.5 487.3 L165.5 486.6 L166.5 485.9 L167.5 485.2 L168.5 484.6 L169.5 484.3 L170.5 483.9 L171.5 483.6 L172.5 486 L173.5 488.4 L174.5 490.8 L175.5 491.5 L176.5 492.2 L177.5 492.9 L178.5 493.7 L179.5 494.8 L180.5 495.8 L181.5 496.8 L182.5 497.1 L183.5 497.4 L184.5 497.7 L185.5 498.1 L186.5 497.1 L187.5 496.1 L188.5 495.2 L189.5 494.2 L190.5 493.2 L191.5 496.1 L192.5 499 L193.5 501.2 L194.5 502.6 L195.5 504.1 L196.5 502.9 L197.5 501.7 L198.5 500.5 L199.5 499.3 L200.5 498.9 L201.4 498.6 L202.4 498.2 L203.4 498.5 L204.4 499.4 L205.4 500.3 L206.4 501.2 L207.4 501.5 L208.4 501.1 L209.4 500.8 L210.4 500.5 L211.4 499.9 L212.4 499.3 L213.4 498.7 L214.4 498.1 L215.4 498.1 L216.4 498.1 L217.4 498.1 L218.4 498.6 L219.4 499.8 L220.4 500.9 L221.4 499.3 L222.4 497.7 L223.4 496.1 L224.4 494.7 L225.4 493.2 L226.4 493.5 L227.4 493.8 L228.4 494.1 L229.4 494.4 L230.4 494 L231.4 493.5 L232.4 493 L233.4 492.5 L234.4 491.9 L235.4 491.4 L236.4 490.8 L237.4 490.2 L238.4 489.6 L239.4 489 L240.4 488.4 L241.4 491.3 L242.4 494.2 L243.4 496.7 L244.4 498.8 L245.4 500.9 L246.4 500 L247.4 499 L248.4 498.1" fill="none" stroke="#FF00AA" stroke-width="2.1" stroke-linejoin="round" stroke-linecap="round"/>
<path d="M50.6 591.7 H250.4M50.6 591.7 v3.4M100.6 591.7 v3.4M150.5 591.7 v3.4M200.5 591.7 v3.4M250.4 591.7 v3.4M43 582.4 V486M43 582.4 h-3.8M43 558.3 h-3.8M43 534.2 h-3.8M43 510.1 h-3.8M43 486 h-3.8" fill="none" stroke="#000" stroke-width="1.1"/>
<text x="50.6" y="602.8" font-size="7.50" fill="#111" text-anchor="middle">−2000</text>
<text x="100.6" y="602.8" font-size="7.50" fill="#111" text-anchor="middle">−1000</text>
<text x="150.5" y="602.8" font-size="7.50" fill="#111" text-anchor="middle">0</text>
<text x="200.5" y="602.8" font-size="7.50" fill="#111" text-anchor="middle">1000</text>
<text x="250.4" y="602.8" font-size="7.50" fill="#111" text-anchor="middle">2000</text>
<text x="35.2" y="582.4" font-size="7.50" fill="#111" text-anchor="middle" transform="rotate(-90 35.2 582.4)">−3</text>
<text x="35.2" y="558.3" font-size="7.50" fill="#111" text-anchor="middle" transform="rotate(-90 35.2 558.3)">−2</text>
<text x="35.2" y="534.2" font-size="7.50" fill="#111" text-anchor="middle" transform="rotate(-90 35.2 534.2)">−1</text>
<text x="35.2" y="510.1" font-size="7.50" fill="#111" text-anchor="middle" transform="rotate(-90 35.2 510.1)">0</text>
<text x="35.2" y="486" font-size="7.50" fill="#111" text-anchor="middle" transform="rotate(-90 35.2 486)">1</text>
<text x="23.2" y="529.6" font-size="11.30" fill="#111" text-anchor="middle" transform="rotate(-90 23.2 529.6)">Scaled density</text>
<text x="150.5" y="616" font-size="11.40" fill="#111" text-anchor="middle">Relative distance to TSS</text>
<rect x="322" y="448.4" width="113" height="19.9" fill="#bfcbf2"/>
<text x="378.5" y="463.5" font-size="14.30" fill="#111" text-anchor="middle">INPUT-chip, TES</text>
<path d="M385 471 V591.3" stroke="#b8b8b8" stroke-width="1.8" stroke-dasharray="5.5 3.6" fill="none"/>
<path d="M285.1 487.3 L287.6 487 L290.1 484 L292.6 483.6 L295.1 482.5 L297.6 481.8 L300.1 481.1 L302.6 479.5 L305.1 480.7 L307.6 479.6 L310.1 478.9 L312.6 477.7 L315.1 477.8 L317.6 475.9 L320.1 477.8 L322.6 474.8 L325.1 475.3 L327.6 474.7 L330.1 476.1 L332.6 475.4 L335.1 476.7 L337.6 475.4 L340.1 475.2 L342.6 472.7 L345.1 473.9 L347.6 476.8 L350.1 476.5 L352.6 477.8 L355.1 478.4 L357.6 481.4 L360.1 484.1 L362.6 487.6 L365.1 494 L367.6 497.1 L370.1 504.5 L372.6 512 L375.1 522.1 L377.6 533.1 L380.1 543.4 L382.6 555.4 L385.1 560.8 L387.5 556.4 L390 545.9 L392.5 539.3 L395 536.2 L397.5 532.4 L400 526.6 L402.5 524.4 L405 522 L407.5 518 L410 517.7 L412.5 515.3 L415 512.4 L417.5 512.5 L420 512.3 L422.5 510.8 L425 507.6 L427.5 508.2 L430 505.7 L432.5 504.3 L435 505.3 L437.5 504.9 L440 506.3 L442.5 507.1 L445 509.4 L447.5 509.1 L450 507.1 L452.5 507.9 L455 509 L457.5 508.1 L460 508.3 L462.5 508.6 L465 508 L467.5 510 L470 508.3 L472.5 509.1 L475 510.1 L477.5 508.5 L480 509.1 L482.5 510.7" fill="none" stroke="#FF0000" stroke-width="2.1" stroke-linejoin="round" stroke-linecap="round"/>
<path d="M285.1 487.4 L287.6 485.7 L290.1 486.5 L292.6 484 L295.1 483.2 L297.6 481.5 L300.1 479.3 L302.6 480.7 L305.1 480 L307.6 480.1 L310.1 478.5 L312.6 477.6 L315.1 479.4 L317.6 475.8 L320.1 475.2 L322.6 478.1 L325.1 476.7 L327.6 475 L330.1 475.6 L332.6 475.3 L335.1 476.7 L337.6 474.6 L340.1 475.1 L342.6 472.8 L345.1 474.3 L347.6 475.7 L350.1 477.8 L352.6 477.9 L355.1 477.9 L357.6 481.4 L360.1 484.4 L362.6 488.5 L365.1 494 L367.6 498.3 L370.1 504.2 L372.6 512 L375.1 522.3 L377.6 530.5 L380.1 545.3 L382.6 557.1 L385.1 562.7 L387.5 559.7 L390 548.1 L392.5 539.4 L395 534.9 L397.5 530.1 L400 526 L402.5 524.9 L405 520.5 L407.5 519.3 L410 516.9 L412.5 516.3 L415 513.7 L417.5 513.7 L420 511.3 L422.5 510.8 L425 507.8 L427.5 506.9 L430 505.3 L432.5 504.7 L435 504.4 L437.5 505.2 L440 504.9 L442.5 507 L445 509.5 L447.5 507.2 L450 507.2 L452.5 507.2 L455 507.9 L457.5 507.3 L460 506.1 L462.5 508.7 L465 506.8 L467.5 509.2 L470 506.8 L472.5 507.9 L475 510.1 L477.5 508.6 L480 509.1 L482.5 510.5" fill="none" stroke="#FFAA00" stroke-width="2.1" stroke-linejoin="round" stroke-linecap="round"/>
<path d="M285.1 493.1 L287.6 491.7 L290.1 490.8 L292.6 488.1 L295.1 487.6 L297.6 486 L300.1 483.1 L302.6 483.1 L305.1 480.4 L307.6 478.7 L310.1 478.4 L312.6 477.8 L315.1 476.9 L317.6 476.6 L320.1 476.9 L322.6 478.7 L325.1 475.9 L327.6 476.4 L330.1 474.8 L332.6 476.5 L335.1 476.2 L337.6 474.9 L340.1 473.1 L342.6 473.8 L345.1 472.2 L347.6 474.6 L350.1 475.8 L352.6 478.2 L355.1 477.3 L357.6 480.3 L360.1 483.3 L362.6 488.8 L365.1 491.7 L367.6 497.3 L370.1 504.6 L372.6 510.2 L375.1 521.8 L377.6 530.9 L380.1 542.9 L382.6 553.4 L385.1 559.7 L387.5 556.3 L390 545.3 L392.5 538.6 L395 535 L397.5 531 L400 527.7 L402.5 523.2 L405 521.8 L407.5 519.8 L410 518.8 L412.5 516.9 L415 514.9 L417.5 514.5 L420 512.1 L422.5 510.4 L425 509.3 L427.5 507.6 L430 506.4 L432.5 507 L435 504.7 L437.5 507.7 L440 504.8 L442.5 509.3 L445 509.6 L447.5 508.8 L450 507.1 L452.5 508.6 L455 508.1 L457.5 509.2 L460 506.8 L462.5 508.2 L465 508.2 L467.5 507.7 L470 509.5 L472.5 509.5 L475 510.2 L477.5 509.7 L480 509.5 L482.5 509.7" fill="none" stroke="#AAFF00" stroke-width="2.1" stroke-linejoin="round" stroke-linecap="round"/>
<path d="M285.1 495.1 L287.6 493.9 L290.1 491.7 L292.6 489.6 L295.1 487.8 L297.6 485 L300.1 485.3 L302.6 482.8 L305.1 482.3 L307.6 480.3 L310.1 478.2 L312.6 477 L315.1 477.8 L317.6 476.6 L320.1 476.4 L322.6 475.6 L325.1 475.4 L327.6 475.7 L330.1 477.4 L332.6 477.4 L335.1 476.2 L337.6 475.7 L340.1 472.4 L342.6 473.1 L345.1 473.3 L347.6 476.3 L350.1 477.5 L352.6 477.4 L355.1 477.7 L357.6 480.6 L360.1 484.5 L362.6 488.3 L365.1 492.8 L367.6 498.2 L370.1 504.6 L372.6 512.7 L375.1 522.1 L377.6 532.1 L380.1 543 L382.6 554 L385.1 556.9 L387.5 554.6 L390 546.4 L392.5 538.9 L395 533.1 L397.5 530.7 L400 527.1 L402.5 523.5 L405 522.8 L407.5 519.9 L410 518 L412.5 515 L415 515.4 L417.5 512.7 L420 512.2 L422.5 510.6 L425 509.4 L427.5 506.6 L430 507.4 L432.5 506.9 L435 505.4 L437.5 506.4 L440 506.4 L442.5 508.7 L445 510 L447.5 508.9 L450 509.2 L452.5 510 L455 507.4 L457.5 509.3 L460 507.5 L462.5 509.3 L465 509 L467.5 509.2 L470 507.8 L472.5 509.7 L475 511.3 L477.5 511.2 L480 509.8 L482.5 510.1" fill="none" stroke="#00FF00" stroke-width="2.1" stroke-linejoin="round" stroke-linecap="round"/>
<path d="M285.1 486 L287.6 484.8 L290.1 486.4 L292.6 484.3 L295.1 484 L297.6 481.6 L300.1 480.3 L302.6 481.7 L305.1 479 L307.6 478.6 L310.1 478.9 L312.6 478.6 L315.1 476.2 L317.6 477.1 L320.1 477.3 L322.6 475.9 L325.1 474.8 L327.6 474.8 L330.1 477.2 L332.6 477.3 L335.1 476.8 L337.6 475.5 L340.1 473.9 L342.6 474.1 L345.1 473.3 L347.6 475 L350.1 477.7 L352.6 478.3 L355.1 479.1 L357.6 482.1 L360.1 484.2 L362.6 488.5 L365.1 493.6 L367.6 498.1 L370.1 503.2 L372.6 512.4 L375.1 520.8 L377.6 532.1 L380.1 541.7 L382.6 552 L385.1 558.1 L387.5 555.6 L390 545.4 L392.5 539.6 L395 536 L397.5 531.7 L400 527.4 L402.5 522.7 L405 520.9 L407.5 518.4 L410 516.6 L412.5 514.5 L415 512.9 L417.5 513.8 L420 511.4 L422.5 509.6 L425 507.9 L427.5 506.7 L430 508 L432.5 505.2 L435 506 L437.5 504.6 L440 506.5 L442.5 508.2 L445 509.5 L447.5 509.9 L450 507.3 L452.5 508.7 L455 507.6 L457.5 508.2 L460 508.1 L462.5 506.8 L465 508.5 L467.5 509.1 L470 508.4 L472.5 509 L475 509.2 L477.5 510.2 L480 508.6 L482.5 509.8" fill="none" stroke="#00FFAA" stroke-width="2.1" stroke-linejoin="round" stroke-linecap="round"/>
<path d="M285.1 485.2 L287.6 484.9 L290.1 485.1 L292.6 482.5 L295.1 482.4 L297.6 481.1 L300.1 482.3 L302.6 480.8 L305.1 478.4 L307.6 478.2 L310.1 480.1 L312.6 477.9 L315.1 477.3 L317.6 476 L320.1 477.3 L322.6 477.3 L325.1 475.3 L327.6 475.9 L330.1 476.1 L332.6 476.9 L335.1 475.5 L337.6 476.3 L340.1 473.3 L342.6 472.7 L345.1 474.5 L347.6 474.6 L350.1 475.4 L352.6 477.3 L355.1 479.2 L357.6 480.3 L360.1 484.8 L362.6 488.2 L365.1 492.1 L367.6 499.6 L370.1 506 L372.6 511.3 L375.1 521.9 L377.6 532.1 L380.1 542.2 L382.6 552.5 L385.1 556.9 L387.5 554.8 L390 546.2 L392.5 539.6 L395 534.6 L397.5 531.2 L400 527 L402.5 523.9 L405 521.4 L407.5 519.5 L410 516.3 L412.5 516.2 L415 513.2 L417.5 512.1 L420 511.1 L422.5 511.1 L425 508.9 L427.5 508 L430 508.3 L432.5 506.9 L435 507.3 L437.5 506.3 L440 506.3 L442.5 508.6 L445 511.5 L447.5 510.4 L450 508.7 L452.5 509.2 L455 509 L457.5 509.3 L460 507.6 L462.5 509.5 L465 508.8 L467.5 510.7 L470 510 L472.5 510.1 L475 510.1 L477.5 510.3 L480 511.4 L482.5 512.4" fill="none" stroke="#00AAFF" stroke-width="2.1" stroke-linejoin="round" stroke-linecap="round"/>
<path d="M285.1 488.6 L287.6 487.5 L290.1 486.6 L292.6 485.1 L295.1 484.8 L297.6 482.1 L300.1 480.7 L302.6 481.3 L305.1 480.6 L307.6 478.3 L310.1 477.8 L312.6 478.7 L315.1 478 L317.6 478.3 L320.1 476.1 L322.6 475.8 L325.1 475.5 L327.6 473.6 L330.1 475.8 L332.6 476.3 L335.1 476.3 L337.6 475.7 L340.1 473.1 L342.6 473.3 L345.1 473.9 L347.6 473.6 L350.1 476.8 L352.6 478.5 L355.1 478.8 L357.6 481.3 L360.1 484.7 L362.6 488.4 L365.1 492.6 L367.6 499.7 L370.1 504.8 L372.6 513.4 L375.1 520.8 L377.6 532.5 L380.1 539.4 L382.6 546.5 L385.1 551.5 L387.5 549.5 L390 546.4 L392.5 538.3 L395 535.4 L397.5 530.3 L400 527.7 L402.5 524.5 L405 520.5 L407.5 520.7 L410 518.3 L412.5 515.8 L415 513.2 L417.5 514.7 L420 510.9 L422.5 511.6 L425 510.2 L427.5 507.6 L430 508.1 L432.5 506.9 L435 506.3 L437.5 508 L440 508.4 L442.5 510.5 L445 511.7 L447.5 511 L450 510 L452.5 510.6 L455 510.1 L457.5 511.2 L460 509.5 L462.5 509.1 L465 511.8 L467.5 512.1 L470 510.2 L472.5 511.9 L475 512.4 L477.5 511.3 L480 511.6 L482.5 513" fill="none" stroke="#0000FF" stroke-width="2.1" stroke-linejoin="round" stroke-linecap="round"/>
<path d="M285.1 487.8 L287.6 487.6 L290.1 485.8 L292.6 484.3 L295.1 482.6 L297.6 481.4 L300.1 479.6 L302.6 480.3 L305.1 478.9 L307.6 479 L310.1 479.4 L312.6 477.9 L315.1 477.3 L317.6 476.4 L320.1 476.1 L322.6 475.9 L325.1 476.3 L327.6 475.6 L330.1 475.4 L332.6 475.7 L335.1 475.8 L337.6 475.3 L340.1 473.5 L342.6 472.1 L345.1 473.8 L347.6 475.8 L350.1 477.5 L352.6 477.6 L355.1 478.5 L357.6 481.2 L360.1 483.1 L362.6 489.3 L365.1 493.6 L367.6 498.6 L370.1 505.6 L372.6 511.1 L375.1 522.3 L377.6 532.7 L380.1 540.8 L382.6 546.2 L385.1 550.5 L387.5 549.6 L390 545.7 L392.5 540.3 L395 535.1 L397.5 531.3 L400 527 L402.5 525.2 L405 520.2 L407.5 519.2 L410 516.6 L412.5 515.9 L415 513.3 L417.5 511.3 L420 512.4 L422.5 511.7 L425 511.1 L427.5 510.6 L430 510.3 L432.5 509.3 L435 508.1 L437.5 508.6 L440 510.1 L442.5 511.2 L445 514.7 L447.5 511.8 L450 510 L452.5 510.6 L455 512.2 L457.5 511.1 L460 510.6 L462.5 511.4 L465 512.5 L467.5 513 L470 512.3 L472.5 513.4 L475 514.6 L477.5 512.1 L480 514.2 L482.5 514.2" fill="none" stroke="#AA00FF" stroke-width="2.1" stroke-linejoin="round" stroke-linecap="round"/>
<path d="M285.1 487.5 L286.1 487.1 L287.1 486.6 L288.1 486.2 L289.1 485.8 L290.1 485.3 L291.1 485.1 L292.1 484.9 L293.1 484.7 L294.1 484.4 L295.1 484.2 L296.1 484 L297.1 483.8 L298.1 483.6 L299.1 483.3 L300.1 483.1 L301.1 482.9 L302.1 482.7 L303.1 482.4 L304.1 482.2 L305.1 482 L306.1 480.9 L307.1 479.8 L308.1 478.7 L309.1 477.6 L310.1 476.5 L311.1 477.6 L312.1 478.7 L313.1 479.8 L314.1 480.9 L315.1 481.2 L316.1 481.5 L317.1 481.8 L318.1 481.5 L319.1 480.3 L320.1 479.2 L321.1 478.1 L322.1 477 L323.1 477 L324.1 477.9 L325.1 478.8 L326.1 479.8 L327.1 480.1 L328.1 480.3 L329.1 480.6 L330.1 480.9 L331.1 480.3 L332.1 479.8 L333.1 479.2 L334.1 478.7 L335.1 479.3 L336.1 480 L337.1 480.6 L338.1 481.2 L339.1 481.8 L340.1 482.5 L341.1 483.1 L342.1 483.7 L343.1 484.2 L344.1 484.8 L345.1 485.3 L346.1 484.7 L347.1 484 L348.1 483.3 L349.1 482.7 L350.1 482 L351.1 483.5 L352.1 485 L353.1 486.4 L354.1 487 L355.1 487.5 L356.1 488 L357.1 488.4 L358.1 488.9 L359.1 489.3 L360.1 489.7 L361.1 491.4 L362.1 493.1 L363.1 494.7 L364.1 496.4 L365.1 497.6 L366.1 498.9 L367.1 500.2 L368.1 502.1 L369.1 504.6 L370.1 507.1 L371.1 509.6 L372.1 511.8 L373.1 514 L374.1 516.3 L375.1 518.5 L376.1 523.8 L377.1 529.1 L378.1 535.3 L379.1 542.3 L380.1 549.4 L381.1 559.4 L382.1 569.3 L383.1 580.6 L384.1 583.2 L385.1 576.9 L386 569.3 L387 560.5 L388 553.8 L389 549.4 L390 545 L391 542.2 L392 539.5 L393 536.7 L394 533.9 L395 531.4 L396 528.9 L397 526.4 L398 524.6 L399 523.7 L400 522.7 L401 521.8 L402 521 L403 520.1 L404 519.3 L405 518.5 L406 516.9 L407 515.4 L408 513.8 L409 512.3 L410 511.9 L411 511.5 L412 511.1 L413 510.7 L414 510.4 L415 510 L416 509.7 L417 509.4 L418 509.1 L419 508.9 L420 508.7 L421 508.5 L422 507.1 L423 505.8 L424 504.4 L425 503 L426 505.2 L427 507.4 L428 508.7 L429 509.2 L430 509.6 L431 509 L432 508.3 L433 507.6 L434 507 L435 506.3 L436 506.5 L437 506.8 L438 507 L439 507.2 L440 507.4 L441 508.5 L442 509.6 L443 510.7 L444 511.8 L445 510.6 L446 509.3 L447 508.1 L448 507.1 L449 506.5 L450 505.8 L451 505.2 L452 505.5 L453 505.8 L454 506 L455 506.3 L456 506.1 L457 505.9 L458 505.7 L459 505.4 L460 505.2 L461 504.7 L462 504.1 L463 503.6 L464 503 L465 503.5 L466 504 L467 504.5 L468 504.6 L469 504.2 L470 503.8 L471 503.4 L472 503.6 L473 503.8 L474 503.9 L475 504.1 L476 503.3 L477 502.5 L478 501.7 L479 502.9 L480 504 L481 505.2 L482 506.1 L483 507" fill="none" stroke="#FF00AA" stroke-width="2.1" stroke-linejoin="round" stroke-linecap="round"/>
<path d="M285.1 591.7 H485M285.1 591.7 v3.4M335.1 591.7 v3.4M385.1 591.7 v3.4M435 591.7 v3.4M485 591.7 v3.4M277.5 569.3 V480.9M277.5 569.3 h-3.8M277.5 547.2 h-3.8M277.5 525.1 h-3.8M277.5 503 h-3.8M277.5 480.9 h-3.8" fill="none" stroke="#000" stroke-width="1.1"/>
<text x="285.1" y="602.8" font-size="7.50" fill="#111" text-anchor="middle">−2000</text>
<text x="335.1" y="602.8" font-size="7.50" fill="#111" text-anchor="middle">−1000</text>
<text x="385.1" y="602.8" font-size="7.50" fill="#111" text-anchor="middle">0</text>
<text x="435" y="602.8" font-size="7.50" fill="#111" text-anchor="middle">1000</text>
<text x="485" y="602.8" font-size="7.50" fill="#111" text-anchor="middle">2000</text>
<text x="269.7" y="569.3" font-size="7.50" fill="#111" text-anchor="middle" transform="rotate(-90 269.7 569.3)">−3</text>
<text x="269.7" y="547.2" font-size="7.50" fill="#111" text-anchor="middle" transform="rotate(-90 269.7 547.2)">−2</text>
<text x="269.7" y="525.1" font-size="7.50" fill="#111" text-anchor="middle" transform="rotate(-90 269.7 525.1)">−1</text>
<text x="269.7" y="503" font-size="7.50" fill="#111" text-anchor="middle" transform="rotate(-90 269.7 503)">0</text>
<text x="269.7" y="480.9" font-size="7.50" fill="#111" text-anchor="middle" transform="rotate(-90 269.7 480.9)">1</text>
<text x="385.1" y="616" font-size="11.40" fill="#111" text-anchor="middle">Relative distance to TES</text>
<path d="M311 504.7 H325.4" stroke="#FF0000" stroke-width="2.1"/>
<text x="331.8" y="507.4" font-size="7.50" fill="#111" text-anchor="start">E0a</text>
<path d="M311 513.9 H325.4" stroke="#FFAA00" stroke-width="2.1"/>
<text x="331.8" y="516.6" font-size="7.50" fill="#111" text-anchor="start">E0b</text>
<path d="M311 523.2 H325.4" stroke="#AAFF00" stroke-width="2.1"/>
<text x="331.8" y="525.9" font-size="7.50" fill="#111" text-anchor="start">E12a</text>
<path d="M311 532.4 H325.4" stroke="#00FF00" stroke-width="2.1"/>
<text x="331.8" y="535.1" font-size="7.50" fill="#111" text-anchor="start">E12b</text>
<path d="M311 541.6 H325.4" stroke="#00FFAA" stroke-width="2.1"/>
<text x="331.8" y="544.3" font-size="7.50" fill="#111" text-anchor="start">E16a</text>
<path d="M311 550.9 H325.4" stroke="#00AAFF" stroke-width="2.1"/>
<text x="331.8" y="553.6" font-size="7.50" fill="#111" text-anchor="start">E16b</text>
<path d="M311 560.1 H325.4" stroke="#0000FF" stroke-width="2.1"/>
<text x="331.8" y="562.8" font-size="7.50" fill="#111" text-anchor="start">E20a</text>
<path d="M311 569.3 H325.4" stroke="#AA00FF" stroke-width="2.1"/>
<text x="331.8" y="572" font-size="7.50" fill="#111" text-anchor="start">E20b</text>
<path d="M311 578.5 H325.4" stroke="#FF00AA" stroke-width="2.1"/>
<text x="331.8" y="581.2" font-size="7.50" fill="#111" text-anchor="start">GC</text>
</g>
<g id="panel-d">
<text x="524.8" y="250.8" font-size="17.60" fill="#111" text-anchor="start">(d)</text>
<text x="657.5" y="243.6" font-size="8.30" fill="#111" text-anchor="middle" textLength="101" lengthAdjust="spacingAndGlyphs">Subsampling of INPUT-seq</text>
<rect x="566.6" y="247.9" width="175" height="7.8" fill="#fff700"/>
<rect x="580.1" y="247.9" width="13.5" height="10.5" fill="#fff"/>
<rect x="580.1" y="247.9" width="13.5" height="7.4" fill="#000"/>
<g shape-rendering="crispEdges">
<rect x="566.6" y="258.3" width="13.8" height="13" fill="#ff0000"/>
<rect x="580.1" y="258.3" width="13.8" height="13" fill="#0000ff"/>
<rect x="593.5" y="258.3" width="13.8" height="13" fill="#3333ff"/>
<rect x="607" y="258.3" width="13.8" height="13" fill="#4d4dff"/>
<rect x="620.4" y="258.3" width="13.8" height="13" fill="#5959ff"/>
<rect x="633.9" y="258.3" width="13.8" height="13" fill="#6161ff"/>
<rect x="647.4" y="258.3" width="13.8" height="13" fill="#6666ff"/>
<rect x="660.8" y="258.3" width="13.8" height="13" fill="#6969ff"/>
<rect x="674.3" y="258.3" width="13.8" height="13" fill="#6b6bff"/>
<rect x="687.8" y="258.3" width="13.8" height="13" fill="#6e6eff"/>
<rect x="701.2" y="258.3" width="13.8" height="13" fill="#7070ff"/>
<rect x="714.7" y="258.3" width="13.8" height="13" fill="#7373ff"/>
<rect x="728.1" y="258.3" width="13.8" height="13" fill="#7373ff"/>
<rect x="566.6" y="271" width="13.8" height="13" fill="#0000ff"/>
<rect x="580.1" y="271" width="13.8" height="13" fill="#ff0000"/>
<rect x="593.5" y="271" width="13.8" height="13" fill="#8c8cff"/>
<rect x="607" y="271" width="13.8" height="13" fill="#c7c7ff"/>
<rect x="620.4" y="271" width="13.8" height="13" fill="#e0e0ff"/>
<rect x="633.9" y="271" width="13.8" height="13" fill="#f0f0ff"/>
<rect x="647.4" y="271" width="13.8" height="13" fill="#f7f7ff"/>
<rect x="660.8" y="271" width="13.8" height="13" fill="#ffffff"/>
<rect x="674.3" y="271" width="13.8" height="13" fill="#fffafa"/>
<rect x="687.8" y="271" width="13.8" height="13" fill="#fff5f5"/>
<rect x="701.2" y="271" width="13.8" height="13" fill="#fff2f2"/>
<rect x="714.7" y="271" width="13.8" height="13" fill="#fff0f0"/>
<rect x="728.1" y="271" width="13.8" height="13" fill="#ffeded"/>
<rect x="566.6" y="283.8" width="13.8" height="13" fill="#3333ff"/>
<rect x="580.1" y="283.8" width="13.8" height="13" fill="#8c8cff"/>
<rect x="593.5" y="283.8" width="13.8" height="13" fill="#ff0000"/>
<rect x="607" y="283.8" width="13.8" height="13" fill="#ffffff"/>
<rect x="620.4" y="283.8" width="13.8" height="13" fill="#ffd9d9"/>
<rect x="633.9" y="283.8" width="13.8" height="13" fill="#ffcccc"/>
<rect x="647.4" y="283.8" width="13.8" height="13" fill="#ffc7c7"/>
<rect x="660.8" y="283.8" width="13.8" height="13" fill="#ffc2c2"/>
<rect x="674.3" y="283.8" width="13.8" height="13" fill="#ffbfbf"/>
<rect x="687.8" y="283.8" width="13.8" height="13" fill="#ffbdbd"/>
<rect x="701.2" y="283.8" width="13.8" height="13" fill="#ffbaba"/>
<rect x="714.7" y="283.8" width="13.8" height="13" fill="#ffb8b8"/>
<rect x="728.1" y="283.8" width="13.8" height="13" fill="#ffb8b8"/>
<rect x="566.6" y="296.5" width="13.8" height="13" fill="#4d4dff"/>
<rect x="580.1" y="296.5" width="13.8" height="13" fill="#c7c7ff"/>
<rect x="593.5" y="296.5" width="13.8" height="13" fill="#ffffff"/>
<rect x="607" y="296.5" width="13.8" height="13" fill="#ff0000"/>
<rect x="620.4" y="296.5" width="13.8" height="13" fill="#ff9999"/>
<rect x="633.9" y="296.5" width="13.8" height="13" fill="#ff8c8c"/>
<rect x="647.4" y="296.5" width="13.8" height="13" fill="#ff8080"/>
<rect x="660.8" y="296.5" width="13.8" height="13" fill="#ff7a7a"/>
<rect x="674.3" y="296.5" width="13.8" height="13" fill="#ff7575"/>
<rect x="687.8" y="296.5" width="13.8" height="13" fill="#ff7373"/>
<rect x="701.2" y="296.5" width="13.8" height="13" fill="#ff7070"/>
<rect x="714.7" y="296.5" width="13.8" height="13" fill="#ff6e6e"/>
<rect x="728.1" y="296.5" width="13.8" height="13" fill="#ff6e6e"/>
<rect x="566.6" y="309.3" width="13.8" height="13" fill="#5959ff"/>
<rect x="580.1" y="309.3" width="13.8" height="13" fill="#e0e0ff"/>
<rect x="593.5" y="309.3" width="13.8" height="13" fill="#ffd9d9"/>
<rect x="607" y="309.3" width="13.8" height="13" fill="#ff9999"/>
<rect x="620.4" y="309.3" width="13.8" height="13" fill="#ff0000"/>
<rect x="633.9" y="309.3" width="13.8" height="13" fill="#ff4d4d"/>
<rect x="647.4" y="309.3" width="13.8" height="13" fill="#ff4747"/>
<rect x="660.8" y="309.3" width="13.8" height="13" fill="#ff4040"/>
<rect x="674.3" y="309.3" width="13.8" height="13" fill="#ff3d3d"/>
<rect x="687.8" y="309.3" width="13.8" height="13" fill="#ff3b3b"/>
<rect x="701.2" y="309.3" width="13.8" height="13" fill="#ff3838"/>
<rect x="714.7" y="309.3" width="13.8" height="13" fill="#ff3636"/>
<rect x="728.1" y="309.3" width="13.8" height="13" fill="#ff3333"/>
<rect x="566.6" y="322" width="13.8" height="13" fill="#6161ff"/>
<rect x="580.1" y="322" width="13.8" height="13" fill="#f0f0ff"/>
<rect x="593.5" y="322" width="13.8" height="13" fill="#ffcccc"/>
<rect x="607" y="322" width="13.8" height="13" fill="#ff8c8c"/>
<rect x="620.4" y="322" width="13.8" height="13" fill="#ff4d4d"/>
<rect x="633.9" y="322" width="13.8" height="13" fill="#ff0000"/>
<rect x="647.4" y="322" width="13.8" height="13" fill="#ff3333"/>
<rect x="660.8" y="322" width="13.8" height="13" fill="#ff2e2e"/>
<rect x="674.3" y="322" width="13.8" height="13" fill="#ff2929"/>
<rect x="687.8" y="322" width="13.8" height="13" fill="#ff2626"/>
<rect x="701.2" y="322" width="13.8" height="13" fill="#ff2424"/>
<rect x="714.7" y="322" width="13.8" height="13" fill="#ff2424"/>
<rect x="728.1" y="322" width="13.8" height="13" fill="#ff2121"/>
<rect x="566.6" y="334.8" width="13.8" height="13" fill="#6666ff"/>
<rect x="580.1" y="334.8" width="13.8" height="13" fill="#f7f7ff"/>
<rect x="593.5" y="334.8" width="13.8" height="13" fill="#ffc7c7"/>
<rect x="607" y="334.8" width="13.8" height="13" fill="#ff8080"/>
<rect x="620.4" y="334.8" width="13.8" height="13" fill="#ff4747"/>
<rect x="633.9" y="334.8" width="13.8" height="13" fill="#ff3333"/>
<rect x="647.4" y="334.8" width="13.8" height="13" fill="#ff0000"/>
<rect x="660.8" y="334.8" width="13.8" height="13" fill="#ff2121"/>
<rect x="674.3" y="334.8" width="13.8" height="13" fill="#ff1f1f"/>
<rect x="687.8" y="334.8" width="13.8" height="13" fill="#ff1c1c"/>
<rect x="701.2" y="334.8" width="13.8" height="13" fill="#ff1919"/>
<rect x="714.7" y="334.8" width="13.8" height="13" fill="#ff1919"/>
<rect x="728.1" y="334.8" width="13.8" height="13" fill="#ff1919"/>
<rect x="566.6" y="347.5" width="13.8" height="13" fill="#6969ff"/>
<rect x="580.1" y="347.5" width="13.8" height="13" fill="#ffffff"/>
<rect x="593.5" y="347.5" width="13.8" height="13" fill="#ffc2c2"/>
<rect x="607" y="347.5" width="13.8" height="13" fill="#ff7a7a"/>
<rect x="620.4" y="347.5" width="13.8" height="13" fill="#ff4040"/>
<rect x="633.9" y="347.5" width="13.8" height="13" fill="#ff2e2e"/>
<rect x="647.4" y="347.5" width="13.8" height="13" fill="#ff2121"/>
<rect x="660.8" y="347.5" width="13.8" height="13" fill="#ff0000"/>
<rect x="674.3" y="347.5" width="13.8" height="13" fill="#ff1919"/>
<rect x="687.8" y="347.5" width="13.8" height="13" fill="#ff1414"/>
<rect x="701.2" y="347.5" width="13.8" height="13" fill="#ff1414"/>
<rect x="714.7" y="347.5" width="13.8" height="13" fill="#ff1212"/>
<rect x="728.1" y="347.5" width="13.8" height="13" fill="#ff1212"/>
<rect x="566.6" y="360.3" width="13.8" height="13" fill="#6b6bff"/>
<rect x="580.1" y="360.3" width="13.8" height="13" fill="#fffafa"/>
<rect x="593.5" y="360.3" width="13.8" height="13" fill="#ffbfbf"/>
<rect x="607" y="360.3" width="13.8" height="13" fill="#ff7575"/>
<rect x="620.4" y="360.3" width="13.8" height="13" fill="#ff3d3d"/>
<rect x="633.9" y="360.3" width="13.8" height="13" fill="#ff2929"/>
<rect x="647.4" y="360.3" width="13.8" height="13" fill="#ff1f1f"/>
<rect x="660.8" y="360.3" width="13.8" height="13" fill="#ff1919"/>
<rect x="674.3" y="360.3" width="13.8" height="13" fill="#ff0000"/>
<rect x="687.8" y="360.3" width="13.8" height="13" fill="#ff0f0f"/>
<rect x="701.2" y="360.3" width="13.8" height="13" fill="#ff0d0d"/>
<rect x="714.7" y="360.3" width="13.8" height="13" fill="#ff0d0d"/>
<rect x="728.1" y="360.3" width="13.8" height="13" fill="#ff0d0d"/>
<rect x="566.6" y="373" width="13.8" height="13" fill="#6e6eff"/>
<rect x="580.1" y="373" width="13.8" height="13" fill="#fff5f5"/>
<rect x="593.5" y="373" width="13.8" height="13" fill="#ffbdbd"/>
<rect x="607" y="373" width="13.8" height="13" fill="#ff7373"/>
<rect x="620.4" y="373" width="13.8" height="13" fill="#ff3b3b"/>
<rect x="633.9" y="373" width="13.8" height="13" fill="#ff2626"/>
<rect x="647.4" y="373" width="13.8" height="13" fill="#ff1c1c"/>
<rect x="660.8" y="373" width="13.8" height="13" fill="#ff1414"/>
<rect x="674.3" y="373" width="13.8" height="13" fill="#ff0f0f"/>
<rect x="687.8" y="373" width="13.8" height="13" fill="#ff0000"/>
<rect x="701.2" y="373" width="13.8" height="13" fill="#ff0a0a"/>
<rect x="714.7" y="373" width="13.8" height="13" fill="#ff0808"/>
<rect x="728.1" y="373" width="13.8" height="13" fill="#ff0808"/>
<rect x="566.6" y="385.8" width="13.8" height="13" fill="#7070ff"/>
<rect x="580.1" y="385.8" width="13.8" height="13" fill="#fff2f2"/>
<rect x="593.5" y="385.8" width="13.8" height="13" fill="#ffbaba"/>
<rect x="607" y="385.8" width="13.8" height="13" fill="#ff7070"/>
<rect x="620.4" y="385.8" width="13.8" height="13" fill="#ff3838"/>
<rect x="633.9" y="385.8" width="13.8" height="13" fill="#ff2424"/>
<rect x="647.4" y="385.8" width="13.8" height="13" fill="#ff1919"/>
<rect x="660.8" y="385.8" width="13.8" height="13" fill="#ff1414"/>
<rect x="674.3" y="385.8" width="13.8" height="13" fill="#ff0d0d"/>
<rect x="687.8" y="385.8" width="13.8" height="13" fill="#ff0a0a"/>
<rect x="701.2" y="385.8" width="13.8" height="13" fill="#ff0000"/>
<rect x="714.7" y="385.8" width="13.8" height="13" fill="#ff0505"/>
<rect x="728.1" y="385.8" width="13.8" height="13" fill="#ff0505"/>
<rect x="566.6" y="398.5" width="13.8" height="13" fill="#7373ff"/>
<rect x="580.1" y="398.5" width="13.8" height="13" fill="#fff0f0"/>
<rect x="593.5" y="398.5" width="13.8" height="13" fill="#ffb8b8"/>
<rect x="607" y="398.5" width="13.8" height="13" fill="#ff6e6e"/>
<rect x="620.4" y="398.5" width="13.8" height="13" fill="#ff3636"/>
<rect x="633.9" y="398.5" width="13.8" height="13" fill="#ff2424"/>
<rect x="647.4" y="398.5" width="13.8" height="13" fill="#ff1919"/>
<rect x="660.8" y="398.5" width="13.8" height="13" fill="#ff1212"/>
<rect x="674.3" y="398.5" width="13.8" height="13" fill="#ff0d0d"/>
<rect x="687.8" y="398.5" width="13.8" height="13" fill="#ff0808"/>
<rect x="701.2" y="398.5" width="13.8" height="13" fill="#ff0505"/>
<rect x="714.7" y="398.5" width="13.8" height="13" fill="#ff0000"/>
<rect x="728.1" y="398.5" width="13.8" height="13" fill="#ff0303"/>
<rect x="566.6" y="411.3" width="13.8" height="13" fill="#7373ff"/>
<rect x="580.1" y="411.3" width="13.8" height="13" fill="#ffeded"/>
<rect x="593.5" y="411.3" width="13.8" height="13" fill="#ffb8b8"/>
<rect x="607" y="411.3" width="13.8" height="13" fill="#ff6e6e"/>
<rect x="620.4" y="411.3" width="13.8" height="13" fill="#ff3333"/>
<rect x="633.9" y="411.3" width="13.8" height="13" fill="#ff2121"/>
<rect x="647.4" y="411.3" width="13.8" height="13" fill="#ff1919"/>
<rect x="660.8" y="411.3" width="13.8" height="13" fill="#ff1212"/>
<rect x="674.3" y="411.3" width="13.8" height="13" fill="#ff0d0d"/>
<rect x="687.8" y="411.3" width="13.8" height="13" fill="#ff0808"/>
<rect x="701.2" y="411.3" width="13.8" height="13" fill="#ff0505"/>
<rect x="714.7" y="411.3" width="13.8" height="13" fill="#ff0303"/>
<rect x="728.1" y="411.3" width="13.8" height="13" fill="#ff0000"/>
</g>
<rect x="741.6" y="258.3" width="1" height="166.7" fill="#fff"/>
<rect x="566.6" y="424" width="176" height="1" fill="#fff"/>
<text x="744.8" y="266.9" font-size="6.30" fill="#111" text-anchor="start" stroke="#111" stroke-width="0.15">AM1(0.1M)</text>
<text x="744.8" y="279.6" font-size="6.30" fill="#111" text-anchor="start" stroke="#111" stroke-width="0.15">GC</text>
<text x="744.8" y="292.4" font-size="6.30" fill="#111" text-anchor="start" stroke="#111" stroke-width="0.15">AM5(0.7M)</text>
<text x="744.8" y="305.1" font-size="6.30" fill="#111" text-anchor="start" stroke="#111" stroke-width="0.15">AM10(1.4M)</text>
<text x="744.8" y="317.9" font-size="6.30" fill="#111" text-anchor="start" stroke="#111" stroke-width="0.15">AM20(2.7M)</text>
<text x="744.8" y="330.6" font-size="6.30" fill="#111" text-anchor="start" stroke="#111" stroke-width="0.15">AM30(4.0M)</text>
<text x="744.8" y="343.3" font-size="6.30" fill="#111" text-anchor="start" stroke="#111" stroke-width="0.15">AM40(5.4M)</text>
<text x="744.8" y="356.1" font-size="6.30" fill="#111" text-anchor="start" stroke="#111" stroke-width="0.15">AM50(6.7M)</text>
<text x="744.8" y="368.8" font-size="6.30" fill="#111" text-anchor="start" stroke="#111" stroke-width="0.15">AM60(8.1M)</text>
<text x="744.8" y="381.6" font-size="6.30" fill="#111" text-anchor="start" stroke="#111" stroke-width="0.15">AM70(9.4M)</text>
<text x="744.8" y="394.3" font-size="6.30" fill="#111" text-anchor="start" stroke="#111" stroke-width="0.15">AM80(10.8M)</text>
<text x="744.8" y="407.1" font-size="6.30" fill="#111" text-anchor="start" stroke="#111" stroke-width="0.15">AM90(12.1M)</text>
<text x="744.8" y="419.8" font-size="6.30" fill="#111" text-anchor="start" stroke="#111" stroke-width="0.15">AM(13.4M)</text>
<text x="575.5" y="426.3" font-size="6.30" fill="#111" text-anchor="end" transform="rotate(-90 575.5 426.3)" stroke="#111" stroke-width="0.15">AM1</text>
<text x="589" y="427.4" font-size="6.30" fill="#111" text-anchor="end" transform="rotate(-90 589 427.4)" stroke="#111" stroke-width="0.15">GC</text>
<text x="602.5" y="426.3" font-size="6.30" fill="#111" text-anchor="end" transform="rotate(-90 602.5 426.3)" stroke="#111" stroke-width="0.15">AM5</text>
<text x="615.9" y="426.3" font-size="6.30" fill="#111" text-anchor="end" transform="rotate(-90 615.9 426.3)" stroke="#111" stroke-width="0.15">AM10</text>
<text x="629.4" y="426.3" font-size="6.30" fill="#111" text-anchor="end" transform="rotate(-90 629.4 426.3)" stroke="#111" stroke-width="0.15">AM20</text>
<text x="642.8" y="426.3" font-size="6.30" fill="#111" text-anchor="end" transform="rotate(-90 642.8 426.3)" stroke="#111" stroke-width="0.15">AM30</text>
<text x="656.3" y="426.3" font-size="6.30" fill="#111" text-anchor="end" transform="rotate(-90 656.3 426.3)" stroke="#111" stroke-width="0.15">AM40</text>
<text x="669.8" y="426.3" font-size="6.30" fill="#111" text-anchor="end" transform="rotate(-90 669.8 426.3)" stroke="#111" stroke-width="0.15">AM50</text>
<text x="683.2" y="426.3" font-size="6.30" fill="#111" text-anchor="end" transform="rotate(-90 683.2 426.3)" stroke="#111" stroke-width="0.15">AM60</text>
<text x="696.7" y="426.3" font-size="6.30" fill="#111" text-anchor="end" transform="rotate(-90 696.7 426.3)" stroke="#111" stroke-width="0.15">AM70</text>
<text x="710.1" y="426.3" font-size="6.30" fill="#111" text-anchor="end" transform="rotate(-90 710.1 426.3)" stroke="#111" stroke-width="0.15">AM80</text>
<text x="723.6" y="426.3" font-size="6.30" fill="#111" text-anchor="end" transform="rotate(-90 723.6 426.3)" stroke="#111" stroke-width="0.15">AM90</text>
<text x="737.1" y="426.3" font-size="6.30" fill="#111" text-anchor="end" transform="rotate(-90 737.1 426.3)" stroke="#111" stroke-width="0.15">AM</text>
<rect x="580.3" y="248" width="14.2" height="190.4" fill="none" stroke="#000" stroke-width="1.5"/>
<rect x="566.3" y="270.6" width="191" height="12.9" fill="none" stroke="#000" stroke-width="1.5"/>
<path d="M514.3 264.7 H565.9M543.7 277.4 H565.9M543.7 290.2 H565.9M543.7 277.4 V290.2M564.5 404.9 H565.5M564.5 417.6 H565.5M564.5 404.9 V417.6M564.2 392.1 H565.4M564.2 411.3 H564.5M564.2 392.1 V411.3M563.9 379.4 H565.1M563.9 401.7 H564.2M563.9 379.4 V401.7M563.6 366.6 H564.8M563.6 390.5 H563.9M563.6 366.6 V390.5M563.2 353.9 H564.4M563.2 378.6 H563.6M563.2 353.9 V378.6M562.5 341.1 H563.7M562.5 366.2 H563.2M562.5 341.1 V366.2M561.2 328.4 H565.9M561.2 353.7 H562.5M561.2 328.4 V353.7M558.3 315.7 H565.9M558.3 341.1 H561.2M558.3 315.7 V341.1M552 302.9 H565.9M552 327 H558.3M552 302.9 V327M533.5 283.8 H543.7M533.5 311.6 H552M533.5 283.8 V311.6M514.3 300 H533.5M514.3 264.7 V300" fill="none" stroke="#000" stroke-width="1.1" stroke-linecap="square"/>
<defs><linearGradient id="bwr2" x1="0" x2="1" y1="0" y2="0"><stop offset="0" stop-color="#0000ff"/><stop offset="0.15" stop-color="#1a1aff"/><stop offset="0.5" stop-color="#ffffff"/><stop offset="0.9" stop-color="#ff0000"/><stop offset="1" stop-color="#ff0000"/></linearGradient></defs>
<rect x="528.3" y="368" width="29.3" height="8.6" fill="url(#bwr2)" stroke="#000" stroke-width="0.6"/>
<path d="M532.6 376.6 v3.4 M540.6 376.6 v3.4 M548.6 376.6 v3.4 M556.8 376.6 v3.4" stroke="#000" stroke-width="1.1" fill="none"/>
<text x="534.5" y="388.3" font-size="5.80" fill="#222" text-anchor="middle">0.4</text>
<text x="550" y="388.3" font-size="5.80" fill="#222" text-anchor="middle">0.8</text>
<text x="543.2" y="393.3" font-size="4.60" fill="#222" text-anchor="middle" textLength="20.5" lengthAdjust="spacingAndGlyphs">Spearman</text>
<text x="543.2" y="398.6" font-size="4.60" fill="#222" text-anchor="middle" textLength="21.6" lengthAdjust="spacingAndGlyphs">correlation</text>
</g>
<g id="panel-e">
<text x="514.3" y="463.2" font-size="17.60" fill="#111" text-anchor="start">(e)</text>
<text x="663" y="460.6" font-size="10.80" fill="#111" text-anchor="middle" textLength="155" lengthAdjust="spacingAndGlyphs">Sequencing depth vs. coverage</text>
<path d="M558 529.1 H769" stroke="#bdbdbd" stroke-width="2" fill="none"/>
<text x="627.4" y="542.3" font-size="10.30" fill="#111" text-anchor="start" textLength="94.6" lengthAdjust="spacingAndGlyphs">microarray coverage</text>
<text x="569" y="605.8" font-size="10.30" fill="#111" text-anchor="start" textLength="129.3" lengthAdjust="spacingAndGlyphs">randomly subsampled reads</text>
<path d="M557.2 476 V616.1M557.2 616.1 h-3.8M557.2 581.1 h-3.8M557.2 546 h-3.8M557.2 511 h-3.8M557.2 476 h-3.8M563.2 627.3 H739.5M563.2 627.3 v3.5M592.6 627.3 v3.5M622 627.3 v3.5M651.3 627.3 v3.5M680.7 627.3 v3.5M710.1 627.3 v3.5M739.5 627.3 v3.5" fill="none" stroke="#000" stroke-width="1.1"/>
<text x="550.2" y="616.1" font-size="7.50" fill="#111" text-anchor="middle" transform="rotate(-90 550.2 616.1)">20</text>
<text x="550.2" y="581.1" font-size="7.50" fill="#111" text-anchor="middle" transform="rotate(-90 550.2 581.1)">40</text>
<text x="550.2" y="546" font-size="7.50" fill="#111" text-anchor="middle" transform="rotate(-90 550.2 546)">60</text>
<text x="550.2" y="511" font-size="7.50" fill="#111" text-anchor="middle" transform="rotate(-90 550.2 511)">80</text>
<text x="550.2" y="476" font-size="7.50" fill="#111" text-anchor="middle" transform="rotate(-90 550.2 476)">100</text>
<text x="563.2" y="637.8" font-size="7.50" fill="#111" text-anchor="middle">0</text>
<text x="592.6" y="637.8" font-size="7.50" fill="#111" text-anchor="middle">2</text>
<text x="622" y="637.8" font-size="7.50" fill="#111" text-anchor="middle">4</text>
<text x="651.3" y="637.8" font-size="7.50" fill="#111" text-anchor="middle">6</text>
<text x="680.7" y="637.8" font-size="7.50" fill="#111" text-anchor="middle">8</text>
<text x="710.1" y="637.8" font-size="7.50" fill="#111" text-anchor="middle">10</text>
<text x="739.5" y="637.8" font-size="7.50" fill="#111" text-anchor="middle">12</text>
<text x="539.8" y="549.2" font-size="9.80" fill="#111" text-anchor="middle" transform="rotate(-90 539.8 549.2)" textLength="100.5" lengthAdjust="spacingAndGlyphs">Genomic coverage (%)</text>
<text x="663" y="645.2" font-size="9.80" fill="#111" text-anchor="middle" textLength="102.6" lengthAdjust="spacingAndGlyphs">Number of million reads</text>
<path d="M565.1 621.4 L573 556.6 L582.9 524.2 L602.9 498.8 L622 490 L642.5 486 L661.6 483.7 L682.2 482.1 L701.3 481.2 L721.9 480.5 L740.9 480 L760 479.5" fill="none" stroke="#000" stroke-width="1.3" stroke-dasharray="3 2"/>
<path d="M592.3 499.5 L589.4 505.3 L595.2 505.3 Z" fill="#000"/>
<text x="581.7" y="497.4" font-size="10.00" fill="#111" text-anchor="start">E20</text>
<path d="M593.9 506.2 L591 512 L596.8 512 Z" fill="#000"/>
<text x="600.4" y="512.9" font-size="10.00" fill="#111" text-anchor="start">E0</text>
<path d="M606.3 521.2 L603.4 527 L609.2 527 Z" fill="#000"/>
<text x="612" y="526.8" font-size="10.00" fill="#111" text-anchor="start">AF</text>
<path d="M620.7 482 L617.8 487.8 L623.6 487.8 Z" fill="#000"/>
<text x="611.4" y="482" font-size="10.00" fill="#111" text-anchor="start">E16</text>
<path d="M655 477.5 L652.1 483.3 L657.9 483.3 Z" fill="#000"/>
<text x="641.6" y="475" font-size="10.00" fill="#111" text-anchor="start">C500</text>
<path d="M674.1 476.5 L671.2 482.3 L677 482.3 Z" fill="#000"/>
<text x="670.3" y="475" font-size="10.00" fill="#111" text-anchor="start">C200</text>
<path d="M694.2 480.7 L691.3 486.5 L697.1 486.5 Z" fill="#000"/>
<text x="688.4" y="495.8" font-size="10.00" fill="#111" text-anchor="start">E4</text>
<path d="M747.7 477.2 L744.8 483 L750.6 483 Z" fill="#000"/>
<text x="739.4" y="492.6" font-size="10.00" fill="#111" text-anchor="start">E12</text>
<path d="M760.5 475.9 L757.6 481.7 L763.4 481.7 Z" fill="#000"/>
<text x="754.7" y="473.5" font-size="10.00" fill="#111" text-anchor="start">AM</text>
</g>
</svg>
</body></html>
